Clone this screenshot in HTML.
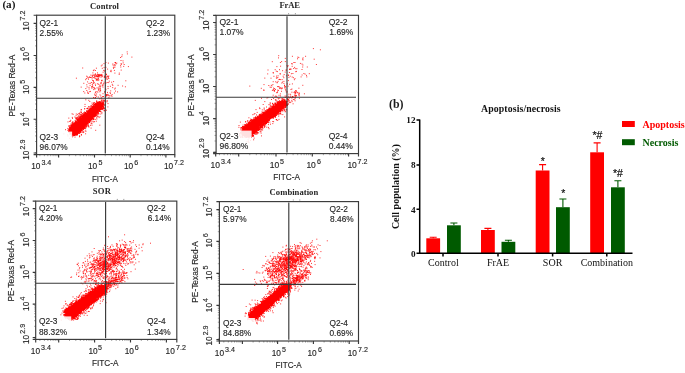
<!DOCTYPE html>
<html lang="en"><head><meta charset="utf-8"><title>Apoptosis/necrosis</title>
<style>html,body{margin:0;padding:0;background:#fff}body{width:685px;height:373px;overflow:hidden}svg{display:block}</style></head>
<body>
<svg width="685" height="373" viewBox="0 0 685 373">
<rect width="685" height="373" fill="#fff"/>
<path d="M101 106.9L101.5 106.2L101.7 105.3L101.6 104.5L101.1 103.8L100.4 103.3L99.5 103.1L98.7 103.2L98 103.7L70.9 127.5L70 128.7L69.7 130.1L70 131.6L70.8 132.8L72 133.7L73.4 134L74.9 133.7L76.1 132.9Z" fill="#ff0000"/>
<path d="M71.6 113.8h1M69.4 133h1M90.7 119.2h1M67.5 136h1M90 125.3h1M102.7 103.5h1M95.9 103.2h1M103.4 100.4h1M92.7 106.7h1M81 135.1h1M79.4 116.3h1M84.5 112.5h1M95.8 121.2h1M76.8 120.6h1M86.8 123.3h1M106 110.2h1M92.3 116.1h1M102.3 103.8h1M80.9 134.5h1M78.6 132.8h1M71.8 117.4h1M82.7 132.6h1M97.5 104.1h1M79.2 136.2h1M71.9 134.1h1M70.5 124h1M87.7 111.7h1M78.9 133.4h1M79.4 132.8h1M76.1 134.8h1M74.4 117h1M92.2 119.7h1M92 107.6h1M76.6 119.5h1M76.7 118.8h1M68.4 128.9h1M95.4 114.3h1M68.3 118.1h1M107.4 106.9h1M97.3 111.8h1M75 122.5h1M84.1 108.7h1M72 118.4h1M83.2 127.6h1M82.2 113.5h1M83 112.9h1M82.8 115h1M84.8 113.8h1M82.9 128.9h1M91.7 108.7h1M77.5 119.9h1M94.3 104.4h1M89 119.6h1M76.6 117.7h1M82.1 130.1h1M91.4 123.6h1M77.1 114.4h1M84.2 108.9h1M69.5 134.1h1M96.2 100.9h1M97.3 111.6h1M78.7 133h1M90.9 105.3h1M91.7 106.9h1M95 104.6h1M93.9 116.9h1M83.3 132.1h1M81.8 115.9h1M80.5 114.7h1M63.4 133.9h1M86.1 123.6h1M84.5 106.5h1M74 134.6h1M101.1 101h1M81 109.7h1M87 122h1M70.2 120.3h1M70.3 127.5h1M87 108.4h1M69.6 129.1h1M75.8 114h1M100.7 109.5h1M92 107.2h1M103.7 110.8h1M74.5 121h1M88.6 121.2h1M80.2 117.1h1M93.3 119h1M84.3 128.4h1M80.1 131.8h1M81.7 114h1M93.2 117.5h1M88.1 125.5h1M104 110.7h1M86.8 123h1M100.7 98.6h1M98.2 113.6h1M82.5 115.3h1M84.8 127.8h1M72.6 114.3h1M94.2 102.5h1M103.8 108.8h1M87.4 111h1M76.3 118.6h1M89.5 109.8h1M82.8 128.6h1M78 118.1h1M92.7 122h1M69.1 138.3h1M86.1 125.1h1M101.6 108.8h1M81.8 130h1M99.3 125.2h1M67.5 121.9h1M72.2 124h1M82 128.1h1M102.1 108.4h1M104.5 105h1M89.3 101.5h1M94.5 98.2h1M86.9 108.7h1M79.1 113.1h1M78.7 114h1M94.4 115.1h1M100.3 101.4h1M89.2 119.9h1M85.2 128.8h1M86.4 123.3h1M89.4 119.1h1M81.2 130.1h1M85.1 127.9h1M78.4 113.5h1M70.2 134h1M90.2 106h1M86.5 110.4h1M84.1 112h1M93.1 105.4h1M74.5 137.1h1M71.5 122.7h1M79.5 116h1M82.4 132.3h1M85.9 114.2h1M91 118.6h1M80.7 130.9h1M87.7 107.8h1M85 113.2h1M87.3 122.5h1M93.3 103.1h1M92.8 105.8h1M85.5 131.2h1M74.5 134.4h1M103.1 107.5h1M81.2 130.1h1M89 107h1M86 127h1M79.4 117.6h1M92.5 121.3h1M99.5 109.1h1M79.1 135.9h1M74.4 122.7h1M96.7 116.9h1M71.1 134.8h1M76 117.9h1M96.3 103.9h1M76.7 119.8h1M94.8 115.2h1M100.6 108.3h1M65 129.7h1M94.1 114.8h1M69.1 130.5h1M91.5 107h1M83.8 126.9h1M87.5 112.2h1M98 114h1M100.1 111.7h1M93.7 104.2h1M99.1 109.9h1M69.8 121.3h1M70.6 136.6h1M91.5 125.2h1M93 104.2h1M102.2 100.9h1M84.4 127.8h1M79 136.8h1M83.5 125.6h1M99.5 116.7h1M76.7 134h1M85.1 133.8h1M78.7 119.5h1M80.5 109.9h1M80.1 118.2h1M91.5 103.1h1M82 128.2h1M84.5 112.4h1M97 114.2h1M103.8 108.2h1M101.3 113.7h1M72.3 121.9h1M96.1 112.5h1M96.4 119h1M79.6 114.6h1M77.4 132.9h1M75.3 123.4h1M88.2 106.5h1M69.2 121.4h1M77.8 118.4h1M75.2 118.7h1M98.6 117.6h1M77.8 116h1M78.6 131h1M86.9 124.9h1M72.4 134.2h1M84.5 104.4h1M75.6 115.7h1M87.7 108.9h1M84.7 113.9h1M98.4 110h1M96.7 116.3h1M80.7 116.5h1M80.2 112h1M90.7 123.6h1M69.9 128.7h1M80.6 130.5h1M81.7 116.7h1M89.5 119.1h1M82.3 116.6h1M93.1 119.5h1M88.7 120.1h1M87.9 123.7h1M93.7 115.5h1M84.6 124.6h1M86 111.7h1M103.7 105.1h1M75.2 134.9h1M71.7 137h1M95.9 104.4h1M96.4 103.8h1M96 102h1M76.2 133.8h1M96.8 111.5h1M99.8 109h1M101.4 112.4h1M94.8 115.3h1M86.4 108.5h1M95.2 115.4h1M94 121.7h1M96.3 112.9h1M90.7 122.1h1M76.4 121.5h1M73.2 125h1M92.8 103h1M97.8 116.3h1M99 102.8h1M91.5 106.2h1M84.9 126.5h1M94.8 119.4h1M87.5 126.3h1M84.8 130.9h1M80.5 128.4h1M94.8 97.5h1M97.6 102.1h1M76.6 135.3h1M80.3 132.6h1M99.7 114.1h1M84 114.2h1M80 130.3h1M89.3 119.4h1M67.2 134.8h1M80.9 112.1h1M82.1 128.5h1M95.2 130.3h1M97.9 110.3h1M86.6 123.9h1M69.4 134h1M103.3 107.8h1M83.1 128.1h1M67.5 130.5h1M80.8 112.6h1M95.8 112.5h1M88.4 127.1h1M104.8 101.4h1M88.2 126.4h1M92.1 104.6h1M93.4 103.4h1M92.4 117h1M97.4 104.1h1M90.2 109.5h1M67.3 128.4h1M94.2 105.3h1M75.2 117.8h1M103.7 110.4h1M86.3 123.3h1M89 120.5h1M74.3 134.4h1M92.7 107.5h1M70.8 139.2h1M96.1 117.9h1M74.9 120.3h1M86.6 125.6h1M90.6 128.1h1M101.5 75.8h1M92.3 75.1h1M96.1 79.2h1M93.1 75.1h1M122.1 86h1M102.9 83.7h1M95.9 68.2h1M83.2 91.6h1M105.7 77.4h1M88.5 77.4h1M91.2 86.6h1M102.6 72.2h1M94.5 88.8h1M109.9 86.3h1M111.1 82.2h1M87.2 93h1M97.8 78.6h1M86.3 84.8h1M97.7 76.5h1M108.8 81.2h1M82.2 68h1M114.4 73.1h1M96.4 79.3h1M88 79.2h1M98.4 79.9h1M106.9 79.2h1M87.1 81.9h1M97 72.9h1M85.9 78.6h1M107.1 69.1h1M101.4 80.8h1M96.9 83.8h1M103.5 63.6h1M88.5 83.4h1M94.6 76.6h1M113 68.3h1M94.9 70.5h1M113.1 81.6h1M101.5 80.2h1M93.8 82.7h1M97.4 80.6h1M104.5 91.5h1M95.6 79.9h1M97.8 97h1M91.6 78.9h1M85.2 79.7h1M98.5 74.4h1M104.6 83.7h1M103.2 70.4h1M85.3 88.6h1M108.2 82.6h1M100.7 83.7h1M88.5 87.3h1M99.3 76.8h1M104 71h1M107.6 88.4h1M106.1 78.9h1M105 70.1h1M106 74.2h1M97.5 75.3h1M84.3 93h1M90.4 75.1h1M105 85.8h1M94.5 78.4h1M101.8 68.3h1M101.7 65h1M98.2 75h1M112.9 67.3h1M91.8 84.5h1M107.7 77.9h1M92.4 72.9h1M92.2 80.5h1M104.1 77h1M96.5 87.9h1M105.8 74.6h1M87.6 78h1M100.8 82.4h1M92.7 83.5h1M93.6 69.9h1M95.3 78.2h1M89.9 83.2h1M106.7 82.5h1M89.6 85.4h1M91.1 82.5h1M103.6 67.6h1M108.3 78.5h1M100.8 65.9h1M103.6 82.2h1M118.8 73.1h1M86.9 77h1M93.1 81.7h1M92.2 85.8h1M106.7 76h1M100.4 74.6h1M111.8 84.3h1M107.6 76.5h1M97.2 79.4h1M92.8 82.8h1M89 77h1M118.7 74.4h1M107.8 77.1h1M103.8 76h1M94.5 75h1M97.6 79.9h1M92.9 70.6h1M98 84.2h1M75.9 78.2h1M100.1 83.1h1M96 80.1h1M100.6 75.1h1M108.3 76h1M101.4 75.7h1M93.6 77.4h1M103.8 77.3h1M94.7 74.3h1M91.3 77.4h1M98.7 75.5h1M96.6 76.7h1M101.7 76.6h1M92.7 77.6h1M98.3 76.7h1M99.8 75.4h1M97.7 77.1h1M95.8 75.5h1M91.8 75.7h1M101.4 74.4h1M96.8 76.4h1M99 75h1M93.9 75.3h1M96.1 76.2h1M89.8 77.3h1M96.5 74.8h1M100.6 77.1h1M96.6 76.4h1M101.2 75.3h1M97.9 75.1h1M104.2 76.7h1M94.9 76h1M86.2 76.2h1M98.6 75.1h1M95 74h1M90.2 77.5h1M99.9 75.3h1M97.6 78.3h1M98.7 76h1M94 76.9h1M97.2 74.4h1M97.5 75.9h1M106.6 76.6h1M91.9 76.4h1M114.3 67.4h1M120.1 65.3h1M116.3 63.1h1M122.5 60.9h1M126.7 51.9h1M121.3 56.6h1M110.2 71.2h1M105.4 67.3h1M113.9 70.4h1M127.9 66.6h1M114.6 62.5h1M112.3 64h1M120.3 67h1M105.4 62.5h1M110.6 70.3h1M123.2 66.4h1M114.9 62.7h1M114.3 64.5h1M120.6 63.7h1M113.7 65.8h1M112.6 65.1h1M114.7 65.7h1M122.7 62.9h1M120.7 70.1h1M110.6 71.7h1M115 62.8h1M123.7 64.5h1M131.4 57.1h1M107.9 63.1h1M121 64.2h1M115.7 63.8h1M121.7 54.9h1M120.5 60.5h1M126.9 53.9h1M120.1 57.5h1M99.5 88.3h1M94.3 88.8h1M89.9 91.4h1M88.3 100.3h1M97.9 90.1h1M97.8 88.1h1M94 87.9h1M100.1 90.6h1M91.4 88.2h1M101.7 85.9h1M95.2 91.9h1M94.8 84.1h1M95 97.8h1M94.4 95h1M109.9 93.6h1M85.3 99.8h1M96.1 94h1M102.5 85h1M99.3 85h1M93.2 89.6h1M105.4 83.1h1M88.6 89h1M87.2 92h1M98.4 89h1M86.3 90.5h1M80.7 87.1h1M100.3 96h1M99.6 86h1M99.4 91.8h1M92.1 86.6h1M96.1 96.2h1M89.2 91.7h1M105.4 89.7h1M99.7 86.4h1M99.5 94.9h1M83.3 83.3h1M99.8 88.1h1M104 92.1h1M102.3 85.1h1M99.7 89.6h1M95 85.4h1M92.9 80.7h1M98.6 86.9h1M97.3 92.1h1M96.4 91.7h1M93.1 87.7h1M105.1 88.8h1M88 93.3h1M94.9 92.7h1M91.5 87.3h1M101.2 80.6h1M103.6 100.5h1M102.5 87.1h1M99.5 90.8h1M86.6 86.9h1M107.5 86.5h1M98.1 89.8h1M94.3 94.1h1M95.1 95.6h1M93 97.5h1M114.2 89h1M106 94.7h1M102.5 93.7h1M106.1 95.7h1M99.2 98.8h1M111.5 96.2h1M117.1 91.9h1M115 91.1h1M100.8 103.8h1M114.8 88.1h1M105.5 100.8h1M96.9 102.5h1M104.5 105h1M104 101.1h1M108.4 95.7h1M102.5 99.7h1M101.9 104.7h1M106.3 95.8h1M117.6 85.3h1M103 96.5h1M111.6 94.5h1M109.3 95.9h1M124.9 86.8h1M96.2 101.3h1M112.2 87.6h1M101.4 101.2h1M107 100.9h1M107.2 95h1M125.3 80.8h1M107.5 103.6h1M97 102.3h1M112.3 85.4h1M102 96.7h1M105.8 94.8h1M107.3 94.3h1M107 92.4h1M108.4 97.6h1M110.7 95.7h1M109.6 92.6h1M113.9 93h1M105.2 96.2h1M106.4 101.9h1M100.8 97.7h1M110.2 90.9h1M107.7 95.1h1" stroke="#ff0000" stroke-width="1" fill="none" opacity="0.8"/>
<path d="M91.2 108.2h1M85.8 114.5h1M93.2 108.6h1M82.2 126.3h1M78.4 130.8h1M83.7 127.6h1M91.6 118h1M84.2 123.9h1M101 107.5h1M86.2 114.7h1M84.9 112.6h1M102.1 105.3h1M88.7 119.2h1M74.8 122.5h1M80.8 127.4h1M87.3 121h1M77.9 121.6h1M74 134.5h1M85.2 123.3h1M92.6 108.4h1M97.6 110.3h1M77.5 120.7h1M75.7 122.2h1M71.7 126.4h1M76.6 133.7h1M78.4 116.2h1M80.7 127.7h1M70.5 133.1h1M79.5 129.6h1M87.8 112.6h1M101.4 104h1M94.3 104.4h1M96.7 112.2h1M79.6 130.2h1M100.9 104.3h1M81.1 119.1h1M76.1 133.8h1M90.7 119.5h1M100.7 107.8h1M75.1 124.4h1M77.2 133.8h1M75.2 121.6h1M87 121.9h1M78.1 121.2h1M89.8 111.1h1M77.2 120.1h1M101 105.9h1M79.6 129.9h1M80.4 129.3h1M97.4 104.7h1M78.1 131.1h1M96.6 115.1h1M78.9 131.5h1M82.5 131.4h1M87.4 112.2h1M96.6 111.4h1M93.1 118.6h1M96.5 102.3h1M97.6 104.1h1M80.5 129.7h1M83.3 116.2h1M71.4 132.7h1M74.2 134h1M88.5 111.6h1M98.4 110.9h1M70.3 130.2h1M96.7 113.3h1M99.7 102.4h1M90.3 118.3h1M76.1 123.6h1M91.9 109.7h1M96.5 105.8h1M88.4 119.9h1M70.9 132.4h1M94.4 113.6h1M95.4 106.6h1M75.3 133.7h1M91.3 109.6h1M95.1 106.2h1M76.5 122.5h1M83.2 125h1M89.2 122.1h1M87.3 113.6h1M83.6 116.9h1M86.3 113.7h1M81.7 118.6h1M86.6 121.9h1M72.6 134.4h1M92.1 115.6h1M100.5 109.6h1M97.2 103.7h1M85.8 123.2h1M75.4 132.8h1M88.3 112.6h1M100.6 108.9h1M100 108.3h1M89.8 111.5h1M85.8 123.5h1M78.6 131.2h1M100.9 103.6h1M102.4 104.5h1M90.5 110.3h1M93.1 116.2h1M92.1 108.7h1M98.5 103h1M84.1 114.4h1M87.2 121h1M89.5 120.8h1M103 101.2h1M90.9 116.9h1M73.2 124.4h1M71.1 127.1h1M71.1 133.7h1M91.3 118.2h1M86.5 121.6h1M89.3 120h1M86.7 123.1h1M101.4 105.7h1M96 111.6h1M81 130.2h1M92 117.1h1M101.4 103.7h1M75.6 133.3h1M78.6 131h1M70.2 129.4h1M94.1 114.4h1M75.5 124.1h1M86.7 113.5h1M95 106.1h1M85.3 115.3h1M87.2 113.2h1M70.3 130.9h1M85.5 115.2h1M101.4 106.2h1M82.9 126.7h1M82.9 128.2h1M73.5 125h1M86.9 121.1h1M84.7 124.9h1M69.9 133.6h1M75 122.7h1M83.7 115.8h1M84.4 115.8h1M78.3 119.3h1M96.3 112.2h1M84.6 115.5h1M87 113.3h1M99.6 107.9h1M97.9 110h1M88.6 112.4h1M76.7 133.3h1M68.4 131.8h1M83.8 125.1h1M73.5 133.6h1M69.4 132.1h1M75.6 123.2h1M94.3 113.7h1M91.1 108.1h1M98.3 101.9h1M74.7 123.5h1M99.7 109.4h1M77.2 132.5h1M69.4 129.5h1M96 114.8h1M95.1 116.1h1M71.9 126.8h1M95.3 104h1M81.8 128.2h1M98.4 110.7h1M83.8 114.9h1M79.8 119.8h1M76 123.7h1M97.1 102.6h1M73.6 135h1M79.2 130.1h1M71.4 127.7h1M92.5 115.4h1M101.8 108.9h1M88.7 119.3h1M93.4 108.3h1M97.3 104.6h1M78.2 130.9h1M81.9 116.9h1M101.4 102.3h1M77.6 121.5h1M93.8 114h1M91 119.6h1M99 103.2h1M99.8 108.5h1M78.8 129.5h1M72.4 126.4h1M94.7 113h1M82.8 117.7h1M92.5 116.1h1M77.1 132.4h1M71.7 124.1h1M83 125.3h1M100.9 100.1h1M88.9 118.8h1M84.1 124.8h1M82 127.1h1M69.4 127h1M79.3 129.4h1M89.2 120.5h1M73.7 134.2h1M97.4 112.9h1M87.8 112.9h1M87.9 112.9h1M83 117.5h1M81.5 114.7h1M100.8 107.1h1M86.3 121.5h1M102.8 104.4h1M98.2 102.8h1M89.2 119.3h1M90.2 108.3h1M87.8 120.7h1M89.7 109.3h1M88.7 111.5h1M79.1 130.4h1M83.6 115.9h1M77.8 133h1M98.3 103.1h1M92.5 115h1M99.3 102.3h1M98.3 103.6h1M83.9 116.7h1M93.1 114.3h1M99.7 103.5h1M75.9 122.8h1M73.7 135.3h1M71.4 126.8h1M70.6 125h1M102.1 102.1h1M76.6 122.2h1M71.2 133.7h1M102.9 107.3h1M69.3 129.4h1M93 107.5h1M69.1 127.3h1M88.6 111.2h1M82.6 116.9h1M72.7 125.6h1M93.7 113.7h1M79.5 130.7h1M72.5 135.2h1M83.1 125.6h1M95.5 104.3h1M97.4 110.1h1M78.1 121.7h1M85.4 123.1h1M89 121.5h1M78.2 132.6h1M76.5 133.7h1M86 113.7h1M102.2 102.7h1M88.3 112.9h1M94.8 106.7h1M74.1 123.6h1M98.6 109.8h1M81.8 127.9h1M70.5 128.3h1M74.4 122.9h1M82 118.3h1M94.8 114.1h1M81.6 128.3h1M80.1 131h1M83.1 126.3h1M80.1 119.5h1M99 110.8h1M76.5 120.3h1M101.7 104.9h1M93.8 107.9h1M76.7 133.8h1M82.9 125.8h1M94 104.7h1M86.9 113.9h1M80.7 128.9h1M84.4 115.9h1M86.8 123.3h1M92.5 106.6h1M95.7 112.1h1M100.3 102.4h1M100.5 107.2h1M72.1 126.2h1M95.8 106.1h1M78.4 130.3h1M86.2 114.6h1M82 117.3h1M68.9 129h1M88.6 120.9h1M99.8 102.4h1M69.4 130.6h1M81.5 118.7h1M81.6 116.5h1M101.3 105.7h1M71.9 134.5h1M89 118.8h1M70.1 129.5h1M101.6 105.9h1M89.7 111.6h1M88.9 109.3h1M72.4 124.1h1M89.6 118.7h1M103 103.6h1M74 123.3h1M69.7 128.3h1M88.5 110.7h1M80.3 131.9h1M72.4 122.7h1M73.8 125.2h1M79.4 128.8h1M91.6 118.4h1M73.5 125.2h1M87.3 123.3h1M72.9 134.5h1M69.2 131.4h1M90.4 110.8h1M87.8 111.9h1M90.8 117.3h1M90 118.5h1M91.9 109.4h1M83.7 114.7h1M76.6 122.3h1M79.5 130.8h1M91.2 117.5h1M92.7 108.3h1M94.1 114.4h1M93.5 114.3h1M91.9 109h1M78.7 131.4h1M69.4 128.8h1M77.2 132.4h1M85.6 113.7h1M70.9 134.5h1M74.8 124.7h1M90.8 118.4h1M74 124.8h1M77.1 131.3h1M93.7 114.3h1M98.9 110.3h1M81.4 115.5h1M93 108.5h1M96.7 104.8h1M90.5 110h1M82.6 117.7h1M68.5 126.6h1M99.5 102h1M83.9 128.6h1M93.3 116h1M102.8 106.2h1M77 120.2h1M84.5 125.4h1M98.1 103.6h1M78.2 130.2h1M79.3 119h1M73.4 125.2h1M76.6 132.2h1M91.6 109h1M99.4 111.3h1M75.1 134.8h1M85.5 124.8h1M70 125.8h1M80.8 115.9h1M79.4 130.2h1M86.2 113.9h1M94.1 116.5h1M90.2 110.3h1M72.5 123.7h1M69.7 129.5h1M97.1 111.2h1M83.6 126.6h1M97.2 104.3h1M85.4 125.1h1M77.5 121h1M81.2 130h1M97.1 104.8h1M101.5 108.2h1M90.3 107h1M78.3 119.6h1M74.3 134.6h1M97.6 112.9h1M93.2 108.1h1M69.9 130.8h1M76.2 132.3h1M72.9 124.9h1M86 113.6h1M76.4 134.1h1M93.3 108.3h1M100.9 106.6h1M97.6 104.5h1M96.7 111.3h1M77.4 132.3h1M73.6 124.4h1M101.4 108.4h1M85.9 115h1M74.2 125.1h1M76.5 133.1h1M79.2 130.1h1M94.3 106.2h1M72.4 136.1h1M94.7 113.5h1M96.5 105.4h1M85 123.7h1M95.2 104.4h1M98.7 110.6h1M75.4 135h1M73.9 123.9h1M98.7 109.7h1M92.9 106.9h1M96.3 111.1h1M92.9 115.8h1M96.2 104h1M81.6 116.7h1M92.3 107.2h1M91.4 108.6h1M71.6 133h1M83.5 125.5h1M73.4 124.1h1M100.1 108.4h1M103 106.2h1M94.4 113.3h1M82.9 126.9h1M91.6 106.4h1M82.3 129.2h1M87.7 111.9h1M75.6 123.9h1M83.2 116.8h1M101.6 104.4h1M94 114.1h1M99.1 109.2h1M97 104.9h1M69.9 130h1M76.9 131.4h1M80.7 117.5h1M90.7 110.4h1M94.5 106.9h1M71.7 127.1h1M86.3 122.8h1M99.2 108.3h1M99.3 108.8h1M98.4 110.1h1M75.2 124h1M83.8 124.2h1M96.2 105.6h1M96 105.8h1M101.8 109.6h1M69.3 130.8h1M88.9 109.3h1M83.2 127.2h1M90.4 110.9h1M83.2 126.6h1M92.9 106.6h1M90.9 116.8h1M78.1 120.2h1M80 129.2h1M79.8 130.3h1M74.5 133.6h1M95.3 105.2h1M80.6 118.4h1M85.6 113.3h1M79.7 129h1M98.5 109.6h1M100.5 106.7h1M83.6 114h1M96.8 105.1h1M97.3 104.5h1M102.6 104.6h1M74.2 123.5h1M88.3 111.3h1M76.1 123.4h1M100.3 111.6h1M102.1 106.6h1M74.4 134.5h1M72.2 133.9h1M93.6 115.6h1M82.6 127.3h1M97.2 111.1h1M84.1 114.9h1M68.4 131.8h1M82.5 116h1M96.4 112h1M69.2 129.5h1M96.9 112.8h1M79.7 117.7h1M72.3 133.4h1M73.5 133.4h1M98.1 109.1h1M78.9 129.7h1M100.1 103.8h1M72 126.9h1M88.7 111.9h1M97 104.8h1M89.5 119h1M76.9 131.9h1M80.3 118.9h1M89.2 112.1h1M80.2 128.8h1M90.5 120.9h1M85.6 125.2h1M78.1 132.6h1M95.3 112.2h1M99.7 103.7h1M76.2 123.5h1M103.4 104.2h1M88.3 122.8h1M83.9 124.2h1M75.6 134.6h1M97.8 104.2h1M90.9 117.5h1M82 116h1M69.5 132.3h1M82.8 116.3h1M102.4 105.7h1M98.8 111.5h1M83.9 125.3h1M95.8 105.1h1M78.5 120.1h1M68.6 131.9h1M99.4 108.1h1M93.8 115.1h1M72.5 126.4h1M87.4 112.4h1M101.8 106.2h1M72.3 126.3h1M74 133.8h1M80.5 116.1h1M85.7 122.6h1M97.6 104.3h1M78.2 130.7h1M75.6 123.2h1M88.3 112.7h1M74 124.9h1M69.5 131.9h1M87.9 112.3h1M89.5 118.2h1M82.6 117.7h1M83.4 116.1h1M80.6 118.3h1M71.9 133.5h1M84.6 123.7h1M72.4 135.6h1M80.8 128.8h1M85.1 113h1M91.3 117.2h1M84.7 113.5h1M100.8 104.1h1M97.2 112.7h1M70.6 128.5h1M79.1 132.8h1M86.5 122.6h1M101.2 103.3h1M79.7 131.5h1M84.7 124.5h1M82.6 117.9h1M77.9 132.7h1M82.9 117.5h1M78.3 129.9h1M81.8 117.8h1M82.9 129.6h1M79.7 131.4h1M72.3 125.6h1M88.8 119.4h1M71.1 127.6h1M85.9 122.4h1M72.2 125.7h1M89.3 110.9h1M91.9 115.6h1M75 123.7h1M85 123.2h1M94.1 114h1M80.5 130.8h1M93 108.2h1M88.4 111.3h1M96.1 104.8h1M90.8 116.9h1M77.1 131.7h1M81.9 117.7h1M89.6 111.2h1M88 120.9h1M85.3 123.2h1M82.1 126.1h1M68.4 131.1h1M99.1 103.7h1M68.7 129.9h1M83.4 126h1M85.9 113.1h1M99.4 109.2h1M70.4 131.8h1M97.8 110.4h1M73.1 125.1h1M70.4 133h1M87.8 111.1h1M74.8 123.1h1M93.6 115h1M88.2 111.3h1M89 122.5h1M95.9 112.2h1M76.7 133.4h1M99.8 109.3h1M78.2 130.4h1M101.3 105.5h1M75 123.6h1M75.7 132.7h1M92.1 118.5h1M102 103.5h1M91.2 109.9h1M93.4 106.1h1M87.5 120.5h1M89.6 119.7h1M90.6 117.4h1M84.2 124h1M96.4 112.4h1M95.3 113.2h1M75.4 124h1M93.4 115h1M82.9 128.8h1M83.1 125.4h1M101.6 104h1M86.7 121.1h1M86 113.2h1M73.6 134.6h1M90.3 108.2h1M72.9 123.8h1M75.9 132.8h1M74 134.5h1M83.2 114.1h1M93.7 107h1M85.5 125h1M72.7 124.8h1M68.6 125.5h1M88.7 110.6h1M99.7 103.7h1M77.1 122.1h1M98.9 103.1h1M79 130.2h1M94.2 114.4h1M79 130h1M69.4 131h1M82.2 118.3h1M101.7 104.5h1M85.8 123.9h1M78.7 129.5h1M76.6 133.4h1M93.5 107.7h1M96.7 111.4h1M79.3 129.4h1M83.1 125.9h1M87.1 120.7h1M99.2 108.2h1M84.9 123h1M86.4 114.6h1M76.3 132.7h1M77.9 131.7h1M91.3 110.3h1M71 132.4h1M72.1 125.3h1M94.3 114.3h1M81.3 127.7h1M98.7 109.6h1M101.8 108.4h1M96.3 104.6h1M80.4 127.9h1M86.7 113.2h1M101.9 106.4h1M91.8 116.7h1M77.6 131h1M76.6 119.9h1M88.9 111.3h1M80.8 118h1M79.8 128.3h1M86.1 113.9h1M94 107.2h1M89.3 111.3h1M73.3 133.7h1M75.4 122.1h1M78.7 129.8h1M78.3 120.9h1M90.5 117.2h1M94.8 105.1h1M77.2 120h1M91.5 110.1h1M99.9 108.3h1M86.1 124.3h1M69.1 129.8h1M101 107.3h1M82 126.4h1M101.4 104h1M70.3 128.8h1M74.5 124.1h1M75.7 133.9h1M87.3 111.4h1M87.1 113.5h1M95.8 106.3h1M69 131.4h1M70 128.2h1M89 119.2h1M86.6 111.3h1M92.5 107.2h1M71.8 133h1M82 117.9h1M102 105h1M77.9 131.6h1M83.5 116.6h1M80.7 130h1M83 115.9h1M76.7 132.8h1M72.5 126.6h1M70.2 132.7h1M85.4 126.7h1M90.1 110.9h1M84.9 113h1M88.1 120.1h1M94 106.9h1M71.7 125.8h1M94.9 103.9h1M78.7 131.2h1M76.9 131.3h1M100.1 107.9h1M79.8 128.4h1M87.3 120.6h1M85.9 124.2h1M99.7 102.6h1M88.7 119.3h1M97.8 109.8h1M87.1 122.3h1M91.6 116.3h1M103.4 108.4h1M82.6 116.3h1M83.8 124h1M82.9 114.8h1M92.4 108.4h1M89.2 110.7h1M70.6 127.8h1M78.8 118.2h1M96 105h1M85.3 122.7h1M98.4 104h1M92 116h1M70.1 127.8h1M82.2 126.8h1M99.4 110.5h1M97.2 111.1h1M77.5 117.8h1M69.9 129.7h1M79.6 119.6h1M88.1 112.8h1M88.7 120h1M74.1 135.1h1M87.5 122.4h1M85.9 122.3h1M71.7 124.2h1M93.5 105.3h1M72.7 135h1M79.6 119.8h1M100.5 108.8h1M100.8 102.9h1M71.6 133.8h1M93.5 107.2h1M79.6 118.6h1M100.2 108.4h1M71.3 132.7h1M81.2 118.5h1M85.8 126.4h1M79.5 120.3h1M70.6 127.6h1M83.2 115h1M75.6 133.7h1M75.2 133.3h1M91.6 108.6h1M69.2 127.9h1M97.3 105.1h1M78.1 131.2h1M82.4 126.4h1M97 111.6h1M93.3 108.1h1M92.4 107h1M81 129.1h1M95.6 113.6h1M69.1 130.2h1M95.1 105.7h1M87.2 121.3h1M70.1 131.2h1M75.7 122h1M95.3 114.2h1M77.5 133.5h1M97.1 110.2h1M89.4 111.7h1M84.9 125.8h1M76.3 122.7h1M82.9 115.4h1M91.3 110.2h1M101.7 106.7h1M99.9 107.6h1M89.6 118.9h1M83.4 125.1h1M73.8 124h1M95.4 115.1h1M87.2 113.5h1M77 122.5h1M85.5 114.9h1M79.8 116.3h1M69.1 129.5h1M78.2 130.7h1M98.9 101.6h1M81.3 129h1M88.7 121.1h1M100 103.5h1M87.1 113.5h1M101.2 103.6h1M84.3 123.7h1M94.2 116.2h1M91.5 119.2h1M98.8 103.4h1M85.2 122.8h1M93.2 119.3h1M91.7 116.8h1M88.3 121.7h1M74.3 134.6h1M92.3 106.6h1M70.8 132.4h1M87.9 112h1M94.7 107.3h1M76.9 131.4h1M73.6 124.1h1M102 105.2h1M73.7 125.1h1M98 103.7h1M97.1 103.9h1M71.4 125.6h1M101.5 106.1h1M100.6 107.5h1M85.6 122.5h1M101.3 104.6h1M73.8 124.6h1M101.6 107.6h1M98.3 109.5h1M83.8 125.7h1M71.6 124.4h1M95.5 112.8h1M100.8 106.7h1M74.9 124h1M95 106.1h1M93.8 106.6h1M74 135.3h1M76 123.3h1M75.8 122.2h1M84.2 126.8h1M82.3 117.5h1M81.4 127.7h1M79.8 120.1h1M91 118.6h1M69.3 132.3h1M102.4 108.3h1M80.8 129.9h1M98.4 109.6h1M82.2 126.7h1M75.7 121.7h1M102 106.5h1M90.3 118h1M94.7 116h1M98.8 109.9h1M95.2 113.1h1M69.9 130.1h1M80.3 119.7h1M79.4 119.8h1M89.4 120.7h1M87.5 124.6h1M81 128.1h1M89.5 108.9h1M101.3 105.5h1M98.7 108.9h1M88.1 111.5h1M85.1 115.6h1M79.1 117.4h1M86.4 122.7h1M69.6 129.2h1M101.5 105.2h1M79.1 130.7h1M90.5 117.1h1M95.3 106.5h1M97.2 111h1M85.3 122.8h1M70.1 129.3h1M101.1 105.8h1M91.6 116.8h1M98.4 110.6h1M74.5 123.6h1M99.5 108.6h1M97.5 111.1h1M86 122.2h1M70.2 129.6h1M84.4 115.4h1M70.2 129.7h1M77.3 117.2h1M89 112.2h1M72.7 125.7h1M101.8 108.7h1M90.5 110.7h1M94.9 105.4h1M92.1 115.4h1M93.8 116h1M95.2 105.9h1M98.2 104.1h1M72.1 133.4h1M78.6 120.2h1M90.3 108.6h1M88.6 120.9h1M102.3 108.3h1M90.4 118.6h1M98.8 103.6h1M75.5 132.9h1M94.9 113.5h1M79.8 118.8h1M78 120.5h1M94 116.5h1M73.5 134.8h1M85.7 123.4h1M81.4 118.7h1M95.7 112.8h1M89.7 109.6h1M95.5 105.3h1M78.4 120.8h1M102.8 108.9h1M90 119.3h1M80.3 118.4h1M95.1 103.7h1M80.5 128.3h1M96.9 104.6h1M77 134.4h1M80.5 129.2h1M84.9 114h1M73.1 134.3h1M95.6 115.4h1M86.9 113.4h1M73.4 133.4h1M88.1 121.9h1M76.6 132.6h1M99 109.7h1M75.4 133h1M78.8 119.1h1M98.5 109.1h1M89.8 120.3h1M90.5 119.6h1M68.1 131.8h1M69.8 130.7h1M79.7 119.8h1M79 129.7h1M91.8 117h1M100.8 103.8h1M92.2 117.9h1M70.3 127.7h1M101.1 104.3h1M75.2 121.8h1M80 119.5h1M102.4 106.6h1M82.3 125.8h1M78.9 119.9h1M96.5 105.1h1M88.5 120.9h1M89.1 110.8h1M99.4 108.7h1M97.7 110.8h1M76.5 133.8h1M89.4 120.8h1M93.2 115.2h1M80.4 130.3h1M75.5 123h1M91.1 108.2h1M95 114.2h1M96.7 103.3h1M97.7 102.5h1M71.5 125.5h1M101.3 107.1h1M94 114.9h1M78.7 130.6h1M93.2 116.3h1M88 111.7h1M93.6 115.5h1M97.1 111.6h1M89.6 108.9h1M85.9 114.4h1M79.9 117.3h1M81 127.7h1M100.5 107.1h1M80.5 114.2h1M84 127.1h1M101.3 104.8h1M88 110.2h1M90.6 117.1h1M98.1 110.2h1M87.2 112.9h1M71 135.6h1M78.8 130.8h1M78.9 129.5h1M84.3 115.8h1M77.8 121.1h1M79.7 129.2h1M97.8 112.3h1M83.2 116.7h1M94.2 113.9h1M69.8 128.9h1M75.5 133.1h1M96.5 104.4h1M70.3 132.4h1M84 124h1M89.3 121.4h1M77.3 122.6h1M84.9 124.8h1M87.8 113.4h1M80.6 127.5h1M87.6 121.5h1M76.4 118.5h1M68.8 129.7h1M82.8 127.4h1M102.6 105.2h1M76.5 133.6h1M87.3 121.8h1M100.7 103.9h1M80.8 116.7h1M84.5 114.7h1M93.5 107h1M102.9 102.5h1M96.9 112.1h1M94 113.6h1M76.5 123.1h1M72.9 133.4h1M74.6 134.2h1M95.9 113.1h1M80.2 132.2h1M97.4 110.6h1M85 113.3h1M87.1 122h1M89.8 117.9h1M84.4 113.6h1M92 117.2h1M90.5 119.7h1M78.7 119.7h1M70.6 128.6h1M91.1 116.4h1M101 107.1h1M79.9 130h1M70.7 128.2h1M86.3 111h1M89.5 111.6h1M99.2 108h1M71.9 125.3h1M81.3 128.6h1M86.2 113.7h1M83.3 125h1M70.9 126.6h1M78.7 120.4h1M93 114.6h1M68.7 131.1h1M71.7 127.1h1M78.9 119h1M93.7 106.7h1M92.2 115.8h1M92.2 117.5h1M101.1 108.3h1M84.2 124.3h1M78.7 131.3h1M87.8 112.9h1M91.9 116.1h1M89.5 118.4h1M96.8 104.9h1M69.8 130.9h1M98.1 103.1h1M92.3 116.1h1M76 134.2h1M90.8 118.5h1M88.3 119.5h1M70.3 126.7h1M76 122.6h1M81.7 116.9h1M78.6 118.9h1M72.4 122.1h1M91.4 116.8h1M95.4 104h1M71 125.5h1M69.5 129.9h1M80.8 119.4h1M76.8 119.5h1M95.6 111.9h1M96.3 105.5h1M100.4 107.2h1M70.4 128.1h1M73.8 124h1M71.2 127.2h1M91.2 109.7h1M67.8 129.8h1M80.3 129.6h1M86.8 114.3h1M92.6 116.6h1M85.3 122.6h1M75.8 123.8h1M84.3 123.8h1M99.7 103.3h1M70.9 127.1h1M73 135.1h1" stroke="#ff0000" stroke-width="1" fill="none"/>
<rect x="39.1" y="131.6" width="33" height="21" fill="#fff" opacity="0.88"/>
<g stroke="#3a3a3a" stroke-width="1.15" fill="none">
<rect x="36.6" y="15.2" width="138.2" height="139.4"/>
<path d="M105.3 16.2V153.4M36.6 98.2H172.3"/>
<path d="M36.6 154.6v3M58.6 154.6v3M94.5 154.6v3M130.2 154.6v3M174.8 154.6v3M165.9 154.6v3M36.6 15.2h-3M36.6 154.6h-3M36.6 23.3h-3M36.6 55.5h-3M36.6 87.3h-3M36.6 119.2h-3M36.6 153h-3"/>
</g>
<path d="M39.9 154.6v1.6M44.4 154.6v1.6M47.8 154.6v1.6M50.7 154.6v1.6M53.1 154.6v1.6M55.1 154.6v1.6M57 154.6v1.6M69.4 154.6v1.6M75.7 154.6v1.6M80.2 154.6v1.6M83.6 154.6v1.6M86.5 154.6v1.6M88.9 154.6v1.6M90.9 154.6v1.6M92.8 154.6v1.6M105.2 154.6v1.6M111.5 154.6v1.6M116 154.6v1.6M119.4 154.6v1.6M122.3 154.6v1.6M124.7 154.6v1.6M126.7 154.6v1.6M128.6 154.6v1.6M141 154.6v1.6M147.3 154.6v1.6M151.8 154.6v1.6M155.2 154.6v1.6M158.1 154.6v1.6M160.5 154.6v1.6M162.5 154.6v1.6M164.4 154.6v1.6M36.6 154.1h-1.6M36.6 152.5h-1.6M36.6 141.5h-1.6M36.6 135.9h-1.6M36.6 131.9h-1.6M36.6 128.8h-1.6M36.6 126.3h-1.6M36.6 124.1h-1.6M36.6 122.3h-1.6M36.6 120.7h-1.6M36.6 109.6h-1.6M36.6 104h-1.6M36.6 100h-1.6M36.6 96.9h-1.6M36.6 94.4h-1.6M36.6 92.3h-1.6M36.6 90.4h-1.6M36.6 88.8h-1.6M36.6 77.8h-1.6M36.6 72.2h-1.6M36.6 68.2h-1.6M36.6 65.1h-1.6M36.6 62.6h-1.6M36.6 60.4h-1.6M36.6 58.6h-1.6M36.6 57h-1.6M36.6 45.9h-1.6M36.6 40.3h-1.6M36.6 36.3h-1.6M36.6 33.2h-1.6M36.6 30.7h-1.6M36.6 28.6h-1.6M36.6 26.7h-1.6M36.6 25.1h-1.6" stroke="#3a3a3a" stroke-width="0.6" fill="none" opacity="0.75"/>
<g font-family="'Liberation Sans', Arial, Helvetica, sans-serif" font-size="8.3" fill="#262626" stroke="#262626" stroke-width="0.14">
<text x="39.6" y="26.1">Q2-1</text><text x="39.6" y="35.7">2.55%</text>
<text x="146" y="26.1">Q2-2</text><text x="146.6" y="35.7">1.23%</text>
<text x="39.6" y="139.8">Q2-3</text><text x="39.6" y="149.7">96.07%</text>
<text x="146" y="139.8">Q2-4</text><text x="146" y="149.7">0.14%</text>
<text x="31.2" y="169.1">10</text><text x="41.4" y="165.2" font-size="7.1">3.4</text>
<text x="88" y="169.1">10</text><text x="98.5" y="165.2" font-size="7.1">5</text>
<text x="124" y="169.1">10</text><text x="134.2" y="165.2" font-size="7.1">6</text>
<text x="164" y="169.1">10</text><text x="174.1" y="165.2" font-size="7.1">7.2</text>
<text transform="translate(28.5 30.7) rotate(-90)">10</text><text transform="translate(24.8 20.4) rotate(-90)" font-size="7.1">7.2</text>
<text transform="translate(28.5 61.2) rotate(-90)">10</text><text transform="translate(24.8 50.9) rotate(-90)" font-size="7.1">6</text>
<text transform="translate(28.5 94) rotate(-90)">10</text><text transform="translate(24.8 83.7) rotate(-90)" font-size="7.1">5</text>
<text transform="translate(28.5 126.6) rotate(-90)">10</text><text transform="translate(24.8 116.3) rotate(-90)" font-size="7.1">4</text>
<text transform="translate(28.5 159.8) rotate(-90)">10</text><text transform="translate(24.8 149.5) rotate(-90)" font-size="7.1">2.9</text>
<text x="91.9" y="181.8" textLength="25.9" lengthAdjust="spacingAndGlyphs">FITC-A</text>
<text transform="translate(14.5 85.6) rotate(-90)" text-anchor="middle" font-size="8.35">PE-Texas Red-A</text>
</g>
<text x="90" y="9.4" textLength="28.9" lengthAdjust="spacing" font-family="'Liberation Serif', 'Times New Roman', serif" font-weight="bold" font-size="8.6" fill="#262626">Control</text>
<path d="M284.4 105.3L285 104.6L285.3 103.8L285.2 102.9L284.8 102.1L284.1 101.5L283.3 101.2L282.4 101.3L281.6 101.7L244.2 127.6L243 128.9L242.4 130.6L242.6 132.4L243.4 134L244.7 135.2L246.4 135.8L248.2 135.6L249.8 134.8Z" fill="#ff0000"/>
<path d="M264 125.1h1M266.3 127.2h1M268.4 104.7h1M271.2 117.7h1M275.6 100.1h1M276.5 101.1h1M268.1 122.7h1M275.7 119.5h1M272.3 123.6h1M254.5 117.9h1M260.2 114.6h1M275.2 114.1h1M285.6 102.1h1M262.7 104.5h1M287.5 99.7h1M279.2 102.1h1M241.8 130.1h1M247.7 122.4h1M280.6 114.2h1M284.7 111.8h1M278.5 111.3h1M253.6 114.2h1M243.7 137.2h1M252.5 120.2h1M252.5 134.2h1M240.2 137.4h1M275.8 105.3h1M272.4 107h1M273.5 116.3h1M279.9 110.8h1M276.2 120h1M246.5 141.7h1M273.8 106.2h1M254.4 113.5h1M271.9 97.3h1M284 100.9h1M245.2 122h1M269.8 106.5h1M247.9 124.3h1M286.3 105.3h1M242.3 137.5h1M270.1 103.1h1M245.3 125.1h1M261.8 109.9h1M268.6 108.9h1M256.5 134h1M266.6 111.4h1M255.6 131.7h1M262.4 128.6h1M263.6 125.6h1M266.1 109.9h1M281.9 99h1M247.6 139.8h1M272.7 106.4h1M275.8 115.4h1M243.3 135h1M253 118h1M270.1 109.6h1M285 101.6h1M260.6 125.7h1M280.7 109.8h1M258 130.5h1M272.9 105h1M272.1 117.8h1M272.2 115.9h1M268.4 108.2h1M276 113.1h1M286.4 105.6h1M278.6 103.7h1M252.6 119.4h1M248.8 121.3h1M238.5 125.5h1M250.1 120.1h1M250.3 119h1M272.7 104.6h1M276.7 97.8h1M238.4 127.3h1M267.9 119.9h1M256 114.9h1M278.3 98.2h1M275.3 113.1h1M273 118.2h1M253.1 139.8h1M250 120.5h1M251.8 136.4h1M283.4 110.9h1M259.1 129.4h1M250 122.4h1M273.1 121.7h1M257.6 129.8h1M239.3 135.5h1M284.8 105.2h1M280.5 110.3h1M260.8 130.9h1M281.8 108.2h1M265.2 125.1h1M259.1 107.9h1M262 126.5h1M285.3 106.5h1M261.7 127.5h1M287.8 103.9h1M271.6 117h1M268.8 108.2h1M253.5 131.9h1M239.2 135.9h1M243.7 127h1M269.7 118.7h1M257 129.5h1M245.9 125.8h1M255.3 117.4h1M278.2 116.2h1M253.7 138.1h1M278.5 95.3h1M268.8 110.5h1M241.1 127.6h1M255.5 109.6h1M266.7 110.4h1M259.9 128.8h1M245.8 136.9h1M260.7 113.6h1M259.5 131.1h1M267.9 124.6h1M249.2 123h1M283.1 109.3h1M285.6 103h1M247.4 124.8h1M250 120.7h1M275.1 106h1M256.7 116.1h1M283.6 100.1h1M251 137.3h1M268.8 109.3h1M239.4 134.7h1M284.1 116.9h1M248.4 142.5h1M272.3 108.1h1M274 104.7h1M279.2 111.7h1M269.5 104.8h1M265.2 121.9h1M251.9 134.1h1M273.3 117.4h1M249.9 135.7h1M246.2 123.8h1M268.5 128.7h1M256.1 134h1M285.3 101.1h1M274.2 103.1h1M256.4 130.5h1M240.5 129.3h1M239.9 122.1h1M252.8 136h1M256.7 112.4h1M274.7 114.5h1M271.3 108.3h1M262.1 130h1M272.1 103.6h1M257.8 117.5h1M250.2 120.4h1M262.8 113.1h1M239.3 133.6h1M282.3 114.6h1M273.8 116.6h1M253.9 134h1M263.7 110.1h1M244.6 136.5h1M269.8 108.3h1M245.3 125.7h1M240.6 132.2h1M277.7 112.2h1M253.1 136.2h1M279.3 98.2h1M281.7 109.8h1M273.1 98.5h1M248 141.2h1M282 108h1M259.3 116.9h1M259.4 108.6h1M261.7 115.3h1M245 135.9h1M275.4 102.3h1M239.4 133.6h1M282.5 107.9h1M272.3 117.7h1M284 110.4h1M261.6 111.8h1M240.7 136.9h1M272.3 121.5h1M242.6 125.1h1M271.6 106h1M248.5 138.1h1M284.2 109.3h1M244.8 125h1M278.5 119.4h1M278.4 114.7h1M263.3 112h1M254.9 134.3h1M272.3 103.7h1M262.3 127.2h1M254.3 119.2h1M238.2 131.7h1M286.2 109.8h1M245.1 121.6h1M266.1 123.6h1M277.2 120.4h1M253.9 119.5h1M282.7 108.7h1M263.7 108h1M246.2 124.5h1M257.1 132.8h1M248 136.2h1M266.3 122.3h1M275.3 100.2h1M248.4 124.6h1M255.2 130.6h1M258.3 130.1h1M242.7 133.1h1M241.9 137.3h1M268 127.4h1M256.1 132.2h1M286.8 104.9h1M262 115h1M242 128.5h1M250.9 137.4h1M243.2 135h1M263.3 125h1M275.1 105h1M285.3 103.4h1M268.2 120h1M255.8 130.6h1M275.1 116.9h1M281.1 108.7h1M277 112.3h1M285.8 109.6h1M270.5 117.7h1M252.3 114.7h1M251.1 120h1M279.3 113.6h1M272 103.3h1M294.6 100.8h1M272.7 106.3h1M240.2 136.9h1M280.1 110.7h1M269.1 108.2h1M259.8 129.8h1M241.1 133.6h1M266 107h1M257.5 129.8h1M285.1 111.1h1M279.7 113.7h1M255.3 131.1h1M260.1 131.8h1M243.7 126.8h1M285.5 105.7h1M258.2 132.8h1M285.7 104.6h1M267.7 120h1M246 125.6h1M260.6 133.1h1M259.6 128.4h1M277.1 113.3h1M264.4 126.5h1M247.2 120.9h1M284.1 109h1M269.4 122h1M252.7 133.7h1M277.9 98.9h1M274.9 117.1h1M260.3 115.6h1M256.2 132.3h1M274.4 115.2h1M254.1 133.2h1M278.3 101.9h1M270.2 105.4h1M275.8 115.5h1M269.5 103h1M281.5 111.7h1M260.9 114.3h1M279.9 113.5h1M281.4 98.6h1M274.1 114.2h1M240.6 130.3h1M258 129.7h1M250 140.5h1M282.1 108.5h1M285.4 105h1M279.9 93.9h1M263.7 109h1M261 135.9h1M248.4 117.8h1M282.5 108.2h1M276 119.5h1M272.4 107.7h1M261.5 129h1M287.5 104.5h1M273.1 115.3h1M263.8 127.2h1M270 124.2h1M253 120.4h1M265.1 110.5h1M302.3 85.3h1M302.2 67h1M280.1 66.2h1M285.7 70h1M291.7 77h1M264.3 78.1h1M287 66.7h1M278 57.9h1M288.4 77.4h1M275.2 81.8h1M263.5 84.6h1M283.7 74.6h1M289.2 69.3h1M301.5 64h1M301.5 69.5h1M308.8 73.7h1M292.4 73.5h1M304.6 74.1h1M287.9 80.6h1M295.3 71.7h1M294.5 62.5h1M312.9 48.6h1M292.9 77.7h1M270.5 78.2h1M298.3 57.6h1M277.3 77.5h1M291.9 83.9h1M291.4 89h1M272.7 72.5h1M297.4 57.1h1M291.7 66.3h1M283.4 83.4h1M281.1 61.6h1M276.4 66.6h1M293.2 68.5h1M282.7 76.2h1M285.3 90.7h1M275.8 71.2h1M287.6 86.2h1M286.6 65.6h1M272.8 73.1h1M284.7 72.1h1M284.8 58.4h1M313.7 59.2h1M293.4 62.5h1M249.3 86.1h1M279.4 73.8h1M283.3 77.7h1M284.8 61.6h1M302.1 59h1M295.2 68.7h1M260.8 88.3h1M289 69.3h1M278.2 55.7h1M290.3 68.8h1M302.4 65h1M278.1 86.6h1M303.4 73.5h1M275.1 96.1h1M285.7 70.2h1M290.3 69.5h1M315.9 64.5h1M284.1 87h1M268.3 85.5h1M295.9 71.4h1M284 85.7h1M302.5 59.9h1M277.6 75.8h1M276.4 78.2h1M297 58.8h1M289.7 76.2h1M291.9 56.3h1M274.1 88.5h1M302.6 57.9h1M276.9 71.6h1M296.4 68.7h1M273.4 76.3h1M273.8 91.2h1M289.2 84.3h1M288.9 72.5h1M306.8 67h1M287.7 65.8h1M294.1 67.4h1M291.1 63.7h1M319.9 49.8h1M276.1 76.1h1M299.9 63.4h1M285.9 75.8h1M290.9 73.7h1M271.8 61.7h1M306.3 76.9h1M272.7 81.7h1M267.2 73.9h1M282.1 70.7h1M267.5 70h1M291.9 63.9h1M301.6 75h1M279 79.4h1M300.6 76.9h1M274.7 69.7h1M279.9 62.5h1M288 75.3h1M305.1 56.3h1M287.8 75.1h1M281.6 88.2h1M277.6 81.3h1M306 75.4h1M269.6 87.1h1M280 73.9h1M279 69.7h1M290.5 89.5h1M274.9 89.5h1M283.5 98h1M278.5 79.5h1M279.9 79.6h1M254.8 100.4h1M272.7 95.2h1M288.2 96.3h1M271 99.5h1M279.7 87.5h1M285.2 87h1M264.3 101.6h1M277.1 91.8h1M281 91.3h1M277.1 86.6h1M263.7 90.2h1M281.1 88.8h1M272.9 90h1M284.8 86.4h1M285 97.4h1M272.8 89.7h1M279.4 88.6h1M270.6 87.5h1M274.9 99.7h1M263 90.1h1M276.8 92.6h1M284 85.2h1M276.6 82.8h1M280 95.9h1M274.5 97h1M271.4 85.9h1M285.8 92h1M266.5 98h1M293.9 79.7h1M277.3 90.1h1M294.5 78.6h1M286.9 83.9h1M274 90.3h1M282 82.1h1M275.9 77.9h1M281.5 88h1M281.6 79.6h1M270.8 85.3h1M271.9 90.4h1M273 88.1h1M267.4 97.6h1M276.2 92.7h1M278.8 87h1M279.5 88.4h1M276.7 82.3h1M276.1 96.3h1M284.4 88h1M261 98.3h1M274.1 90.9h1M272.4 84.6h1M286.8 91.9h1M281.3 83h1M284.9 89.3h1M277.8 90.5h1M283.4 81.4h1M291.3 100.4h1M294.9 95.5h1M293.8 99.7h1M289.9 97.3h1M291.6 101.6h1M281.2 101h1M289.5 102.6h1M291.9 96.5h1M292.6 97.1h1M285.2 104.3h1M294.8 91.8h1M294.8 96.3h1M283.2 99.4h1M287.6 103h1M295 97.2h1M285.4 107.2h1M287.1 99.1h1M290.1 96.1h1M290.6 97.6h1M291.4 98h1M294.6 97.8h1M284.6 96h1M288.2 97.8h1M303.9 93.8h1M285 102.9h1M292.6 103.8h1M290.1 94.3h1M285.8 96.2h1M295.7 90.6h1M292 97.3h1M296 95.9h1M280.5 109h1M296.7 92.4h1M298.1 94.9h1M288.3 100.8h1M298.8 94.1h1M293.3 97.1h1M295 92.6h1M298.4 88.2h1M291.9 96.8h1M286.6 100.9h1M292.9 99.5h1M286.9 104.1h1M289 102.1h1M286.7 98.5h1M287.8 99.4h1M296.1 91.7h1M295.2 93.8h1M287.7 101.2h1M298.8 95.8h1M283.8 103.8h1M290.2 102.2h1M288.4 94.2h1M297.2 92.8h1M295.7 95.5h1M291.4 92.2h1M298.6 93.6h1M294.5 93.9h1M298.6 92.9h1M287.4 99.4h1M283.9 103.8h1M289 97.9h1M294 91.9h1M294.6 98.7h1M298.9 98.3h1M293.5 92.4h1M294.1 95.2h1M294.6 92.9h1M288.6 100.3h1M295.1 90.7h1" stroke="#ff0000" stroke-width="1" fill="none" opacity="0.8"/>
<path d="M241.7 136.3h1M260.7 116.3h1M247.8 136.3h1M273.5 107.9h1M242.3 135.6h1M282.6 101.8h1M242.7 135.3h1M268.8 109.4h1M274.8 106.9h1M282.6 106.4h1M247.1 137h1M268.6 118.6h1M246.1 135.3h1M262.7 124.1h1M269.5 117.4h1M269 108.9h1M249.3 134.7h1M247.8 124.8h1M277.7 110.7h1M258.3 117.6h1M245.4 126.6h1M241.3 134.9h1M260.4 116.1h1M261.8 127.3h1M242.6 127.7h1M277.5 110.7h1M262 114.4h1M274.3 106.2h1M277.3 103.7h1M259.8 127.4h1M255.5 131.2h1M257 116.6h1M266 111h1M278 103.1h1M271.5 106.9h1M270.4 110.1h1M242.3 136.1h1M242.7 131.5h1M261.8 124.9h1M244.9 127.6h1M247.7 136.1h1M266.3 122h1M283.9 102h1M277.8 104.8h1M272.1 108.2h1M273.1 108.3h1M258.6 127.3h1M275 115.7h1M252.2 122.6h1M275 113.6h1M282.5 101.5h1M255.9 129.4h1M249.1 136h1M262.7 114.6h1M269.8 118.8h1M243.1 128.6h1M255.6 119.3h1M260.5 125.2h1M258.5 127.8h1M274.9 112.9h1M254.7 119.9h1M274.7 115.3h1M270.1 117.2h1M258.9 115.9h1M261.9 125.4h1M274.8 106.9h1M279 104h1M254.8 117.6h1M270.8 117.9h1M281.2 108.5h1M252.7 121.9h1M248.6 135.5h1M274.2 106.6h1M243.8 135.8h1M274.1 114.5h1M278.9 100.8h1M261.8 125.3h1M272.4 117.1h1M264 122.9h1M242.7 127.2h1M263.4 122.9h1M266 122h1M276.2 114.1h1M283.3 101.7h1M276.3 105.6h1M258.6 126.6h1M274.5 113.2h1M279.9 111.1h1M249.9 135.6h1M260.1 114.8h1M241.9 134.9h1M274.8 103.5h1M267.1 122h1M271.7 107.7h1M257.9 128.5h1M265.8 121.1h1M274.6 114.5h1M250 124h1M249.9 123.8h1M247 125.1h1M251.8 122h1M252.8 120.5h1M256.7 118.7h1M263.3 112.5h1M247.8 124.4h1M256 118.3h1M258.2 127.5h1M271.5 115.9h1M267 112.3h1M273.2 106.3h1M272.9 107.4h1M260.3 126.5h1M273.4 114.3h1M257.9 118.2h1M265.1 121.1h1M269.6 110.6h1M264.8 123.5h1M279.4 109.8h1M252.5 133.6h1M282.4 108.1h1M262.8 115.4h1M271.9 116.3h1M253.4 133.2h1M258.5 118.3h1M246.6 126h1M276.6 104.2h1M256.5 118.8h1M283.5 106.2h1M278.7 109.6h1M252.9 121.8h1M250.7 135.7h1M256 129.3h1M252 132.5h1M281.8 107.3h1M250.8 122.3h1M278.6 109.6h1M247.3 124.1h1M285.6 101.6h1M246.2 125.9h1M246 137.2h1M253.4 121.3h1M264.2 123.3h1M269.8 108.8h1M283 106.3h1M282.1 110.4h1M258.1 118.3h1M274.2 113.5h1M273.8 114.8h1M284.4 105h1M257.5 118.5h1M270.2 110.3h1M264.3 121.8h1M283.8 105.1h1M266.2 120.1h1M276.5 113.9h1M248.4 136.2h1M285.1 104.9h1M271.2 109.2h1M249.8 123.1h1M273 108h1M255.5 130.8h1M268 109.8h1M282.5 106.7h1M265.9 120.6h1M269.7 118h1M273.7 107.4h1M248.5 124.9h1M253.1 131.5h1M255.8 130.6h1M284.1 104.9h1M280 110.1h1M279.8 112h1M266.2 112.5h1M271.8 108.3h1M263.8 114h1M285.3 104.9h1M276 105.9h1M282.7 99.8h1M265.4 123h1M271.9 117.3h1M276 104.5h1M257.9 128h1M276.7 102.2h1M243.4 129.4h1M257.4 128h1M271.3 108.8h1M278.8 102.2h1M278.9 102.8h1M241.6 128h1M254.8 131.3h1M278.3 101.8h1M264.6 123.4h1M254.7 131.3h1M245.7 125.1h1M274.4 114.1h1M263.8 113.6h1M268.8 119.8h1M257.9 127.3h1M268.2 110.5h1M276.5 113.6h1M242.5 135h1M255.6 133h1M252.1 132.3h1M242.5 132.7h1M256.5 128.9h1M244.4 124.7h1M278.9 111h1M245.2 126.8h1M259.4 115.2h1M271.8 108.5h1M250.9 121.8h1M250 123.3h1M256 118h1M256.4 118.9h1M247.3 125h1M268.9 118h1M281.2 101.6h1M281.1 107.4h1M271.6 109h1M254.3 119h1M280.5 108.6h1M250.9 133.5h1M268.1 119.6h1M273.8 114.8h1M272.9 104.8h1M278.7 101.9h1M268 111.5h1M285.6 102.5h1M276.3 111.5h1M278.1 103.9h1M282.3 99h1M278 110.8h1M274.9 106.8h1M266.9 120.6h1M276.4 104.1h1M275 103.6h1M248.5 136.2h1M243.8 127.9h1M266.2 120.6h1M248.6 124.7h1M263.2 124.3h1M281.7 102.2h1M262.3 124.7h1M284.3 104.8h1M268.3 119.8h1M245.4 135.6h1M275.8 105.6h1M254.4 120.7h1M285.8 103.5h1M252.8 133.4h1M247 136h1M268.7 118h1M260.5 125h1M250.2 134.2h1M258.5 117.5h1M285 103.2h1M271.3 106.8h1M275.7 104.4h1M249 136.5h1M278 112.8h1M243.7 134h1M275.2 112.9h1M284.7 100.3h1M244.6 134.8h1M280.6 108.1h1M267.9 110.6h1M270.2 117.6h1M277.5 111.7h1M256.8 117.7h1M280.2 110.2h1M274.5 114.4h1M286.3 104.7h1M282.9 106.7h1M269.7 109.4h1M270.4 109.4h1M277.8 110.8h1M271.8 116.7h1M242.2 128.3h1M260.8 115.7h1M254 121.1h1M260.3 127.5h1M278.5 103.9h1M260.4 126.2h1M254.4 131.6h1M264.5 123.5h1M270.6 117.4h1M276.2 113.2h1M248.3 125.3h1M261.5 115.5h1M277.1 111.7h1M260.8 114.9h1M259.5 128.1h1M285.8 105.6h1M262.1 123.9h1M248.6 123.2h1M262.1 114.6h1M267.8 111.7h1M274.5 113.2h1M273.4 116h1M274.3 113.3h1M260.2 115.5h1M268.8 109.1h1M242.2 130.3h1M274.4 106.7h1M271.7 108.7h1M253.9 121.5h1M270.5 109.7h1M277.4 112h1M283.3 106.9h1M281 110.1h1M245 127.6h1M279.6 101.2h1M264.8 123.6h1M269 120h1M253.9 131.3h1M257.4 117.2h1M247.9 122.7h1M257.7 117.3h1M253.1 120.2h1M251.8 122.6h1M284 101.5h1M279.5 109.2h1M262.1 115.5h1M254.5 119.4h1M246.5 125.5h1M260.4 125.9h1M244.1 128.4h1M278.7 102.9h1M276.2 105.3h1M279.6 111.7h1M276.2 104.5h1M243.4 126.5h1M281.1 108.2h1M276.8 105.4h1M251.5 123.1h1M278.8 103.6h1M268.3 109.9h1M251.6 120.7h1M240.7 127.8h1M246.1 125.5h1M271.5 117.7h1M264.2 121.8h1M269 117.7h1M285.4 105h1M263.4 113.2h1M285.4 104h1M282.5 101.6h1M282.6 106.6h1M259.7 116.4h1M246.4 124h1M247.4 136.5h1M243.1 128.3h1M249.5 134.6h1M279.3 102.9h1M277.3 112.4h1M283.7 101.6h1M277.9 104.8h1M253 131.5h1M276.7 113.7h1M254.4 120h1M272 108.9h1M252.8 135.5h1M275.8 112.2h1M265.9 113.1h1M275.9 105.3h1M269 118.6h1M277.9 111.1h1M263.1 124.8h1M275.8 105.6h1M276.9 102h1M245 125h1M274.7 115.7h1M259.8 125.7h1M278 103.4h1M279.3 102.1h1M274 116h1M261.4 126.9h1M273.6 107.2h1M269.9 107.9h1M249.3 121.2h1M256.6 118.3h1M252.8 132.7h1M265.6 121.1h1M252.6 120.4h1M264.1 127h1M243.7 135h1M276.1 112h1M274.6 106.3h1M260.9 129.2h1M251.6 121.9h1M267.4 111.1h1M241.2 132.4h1M260.3 115.6h1M242.5 129.7h1M246.4 135.8h1M281.9 109h1M264.2 112.1h1M275.9 112.7h1M259.5 126.1h1M249.5 136.2h1M274.9 116.8h1M263.7 124.8h1M266.2 121.3h1M272.3 106.4h1M264.6 121.4h1M273.3 106.4h1M259.9 127h1M262.7 114h1M263 123.7h1M251.1 122.3h1M241.6 133.9h1M263.1 115.1h1M268 111.4h1M264.5 112.4h1M283.9 100.4h1M257.5 127.9h1M264.5 113.8h1M243.6 133.6h1M258.5 129.2h1M284.1 102h1M244.8 125.9h1M253 132.7h1M253.7 132.4h1M256.9 129.1h1M272.4 115.7h1M241.9 131.3h1M274 107.6h1M261.5 115h1M269.4 110.3h1M266.7 111.7h1M249.3 122.7h1M245.8 135.7h1M281 107.6h1M250.5 133.6h1M252.3 133.5h1M264.9 113h1M263.3 114.6h1M267.1 110.6h1M244.1 135.2h1M242.4 131.1h1M258.6 117.6h1M262 114.2h1M268.9 108.6h1M281.1 108.4h1M251.6 122.1h1M260.1 117.2h1M263.8 123.2h1M251.6 132.6h1M281.1 108.5h1M274.7 113h1M263.4 124.1h1M283.7 100.4h1M258.1 128.7h1M259.1 114.4h1M255.8 120h1M242.7 134.2h1M263.8 114.4h1M268.8 118h1M277.6 110.6h1M242.3 130.5h1M254.2 131.3h1M255.1 133h1M285.7 102.8h1M262.1 115.2h1M243.7 126.8h1M261.4 127.5h1M255.9 129.1h1M242.3 134h1M258.2 129.2h1M278.2 102h1M281.1 108.7h1M249.8 134.3h1M273 115h1M276.9 102.8h1M255.7 118.8h1M282.7 106.3h1M247.5 135.6h1M256.4 131.3h1M254.7 130.3h1M284 101.2h1M243 132.3h1M278.3 113h1M253.6 133h1M252.3 133.5h1M256.2 131.4h1M277.7 104.2h1M281.7 102.3h1M286.2 104.1h1M248.8 136h1M254.5 130.4h1M258.4 115.8h1M272.4 116.1h1M269.7 109.4h1M273.3 115h1M257.4 130.1h1M279.4 110.1h1M278.2 112.5h1M257.9 118.3h1M245 135.6h1M253.9 132.5h1M246.1 135.9h1M252.4 122.4h1M265.4 121.3h1M270.3 117.1h1M281.6 107h1M244 135.4h1M255 120.3h1M240.4 128h1M254.3 131.1h1M258.8 129.2h1M269.1 109.2h1M273.1 115.3h1M263.4 112.9h1M255.8 118.9h1M248 137.2h1M246.6 125.6h1M272.9 115.4h1M271.2 116h1M269.2 118.2h1M265.6 111.8h1M277.9 104h1M280 101.5h1M244.4 135.3h1M257.8 127.6h1M251.3 122.7h1M251.4 122.7h1M280.5 102.9h1M266.8 121.8h1M256.3 128.7h1M257.9 129.2h1M242.8 131.9h1M267.4 122.1h1M275.8 114.2h1M281 102.5h1M256.4 118h1M284.4 104.6h1M252.6 120.1h1M257.8 127.4h1M283.4 105.8h1M274.9 113.6h1M275.8 113.3h1M278.5 104.1h1M266.5 120.9h1M266.8 121.4h1M252.1 122.2h1M264.1 114.4h1M266.4 112.3h1M267 111.8h1M261.8 124.9h1M255.2 130.3h1M256 118.8h1M252.4 132.3h1M251.9 134h1M248.1 135.4h1M251.9 136h1M280.4 109.8h1M251.9 132.9h1M253.6 120.3h1M277.1 104h1M257.4 128.1h1M241.7 133.3h1M275.5 105h1M264.9 124.2h1M271 108.8h1M269.9 110h1M256.5 130.7h1M276.9 104h1M269.1 110.2h1M255.2 129.5h1M242.4 128.9h1M273.9 106.5h1M281.3 108.7h1M271.5 116.9h1M277.3 114.7h1M249.6 123.5h1M280.2 108.6h1M282.3 101.1h1M263.5 114.3h1M262.6 124.5h1M240.3 133.1h1M243.6 127.2h1M242.1 126.5h1M258.9 127.9h1M275.9 112.7h1M278.1 113.8h1M250 135.4h1M274.7 103.7h1M268.5 120.1h1M267.7 118.9h1M252.2 120.5h1M267.7 119.4h1M265 122.4h1M245 127.5h1M249.5 122.9h1M277.4 103.6h1M253.7 120.9h1M286.2 105.6h1M284.7 102.2h1M270 109.4h1M245.7 127.2h1M252.4 133h1M246.4 125.5h1M266.9 109.7h1M261.9 124.5h1M248.4 124.9h1M274.3 106.9h1M257.1 119.1h1M264.7 111.9h1M267.5 110.9h1M285.5 102.3h1M261.8 115.8h1M249.6 135h1M258.2 129.1h1M271.4 108.6h1M273.8 115.1h1M283.5 106.4h1M250.6 136.3h1M257.7 128.6h1M255.1 131.1h1M274.9 106h1M273.9 115h1M285.3 104.5h1M253.3 120.8h1M277.1 104.8h1M246.2 126.2h1M282.1 100.9h1M254.5 120.6h1M274 113.5h1M271.8 115.9h1M248.7 124.6h1M248.4 135.6h1M273.9 107.3h1M266.2 122.3h1M282.2 101.4h1M243.7 126.7h1M249 123.2h1M249.2 123.6h1M242.6 128.9h1M252.3 122.6h1M242.1 127.1h1M267.1 120.7h1M268.8 110.2h1M248.6 135.3h1M257.6 128.8h1M253 121.3h1M248 124.3h1M267.3 121.6h1M251.1 122.7h1M252.2 122.5h1M255.8 118.5h1M273.6 114.6h1M282.2 106.4h1M251.6 122.3h1M282.4 106.4h1M264.6 113.4h1M246 126h1M258 127.9h1M275.4 106.2h1M247.8 125h1M255.5 119h1M255.9 118.8h1M250.2 123.3h1M274.2 114.6h1M269 118.9h1M251.4 122h1M278.4 102.9h1M274.7 115.4h1M285.4 104.8h1M282.6 106.2h1M258.1 117.2h1M259.3 116.9h1M271 117.7h1M246 126.3h1M278.8 110h1M280.4 108.9h1M285 103.9h1M242.3 134.5h1M279.7 110h1M270.5 108.8h1M243.1 128.9h1M269 109.9h1M258.8 114.9h1M261.8 115.7h1M271.8 107.9h1M254.9 130.8h1M280.8 108.6h1M283.1 107.9h1M280.9 108.4h1M264.7 113.8h1M250.1 134.8h1M280.8 108.8h1M257.5 129.1h1M250.1 134.8h1M285 101.7h1M243.4 128.4h1M271 116.4h1M253 120.3h1M255.4 132.8h1M264.7 112.6h1M261.6 124.2h1M250.5 123.5h1M255.2 120.4h1M275.9 105.4h1M266.8 111.6h1M259.8 115.8h1M249.9 123h1M264.8 122.8h1M281.4 100h1M243 130.7h1M274.1 113.4h1M255 118.7h1M265.6 120.8h1M263.2 113.8h1M261.9 125.5h1M282.3 106.5h1M283.8 101.7h1M276.6 104.9h1M283.6 106.9h1M266 123.5h1M252.3 131.9h1M273.6 113.8h1M261.8 115.1h1M268.5 119.8h1M280.1 103.4h1M247.7 125.1h1M277.9 103.9h1M244.2 134.3h1M251.5 122.9h1M257.5 127.8h1M254.4 121h1M267 119.5h1M282.2 106.7h1M270.1 110.3h1M263.4 113.1h1M276.6 104.9h1M262.7 115.3h1M255.6 129.1h1M256.2 118.3h1M280 102.7h1M276.3 111.9h1M243.2 133.8h1M282.7 107.3h1M251.2 122.5h1M278.1 104.1h1M278.6 104.2h1M254.6 117.6h1M260 116.8h1M258.9 129.4h1M245 125.5h1M258.7 128.8h1M280.9 108.2h1M254.1 132.9h1M260.7 124.8h1M259.1 115.8h1M249 124.9h1M257.1 128.9h1M254.8 120.1h1M269.6 117.4h1M278.4 111.3h1M258.1 130h1M264.6 123.3h1M266.4 120.8h1M244.3 136.3h1M274.6 114.5h1M277.4 103.8h1M253.5 121.7h1M255.1 116.9h1M249.5 135.5h1M251.9 135.2h1M266.8 111.3h1M257.5 128.3h1M259.5 127.3h1M284.1 104.9h1M259.8 115.7h1M265 113.6h1M262 124.8h1M242.8 129h1M250.9 120.9h1M254.8 120.2h1M243.6 133.5h1M283.6 107.8h1M244.3 135.7h1M285.2 104.3h1M265.8 122.5h1M242 131.7h1M256.9 132.8h1M279.8 108.8h1M274.2 115.3h1M262 115.9h1M277.2 104.3h1M251.1 119.8h1M261.3 126h1M278.2 111.5h1M243 127.8h1M284.5 107.4h1M268 119.6h1M272.7 107.2h1M270 118.2h1M253.5 119h1M284.6 107.6h1M257.4 117.4h1M278.7 110.5h1M249.1 123.7h1M257.3 128h1M251.5 134.5h1M261.1 126.9h1M249.9 134.2h1M267.3 121.6h1M272.6 117.7h1M282.5 108h1M277.9 111.5h1M280.9 107.9h1M267.9 110.2h1M278.9 110.3h1M258.4 117.2h1M274.3 113.4h1M256.9 117h1M268.4 109.9h1M259.3 116.4h1M285.9 102.1h1M270.2 118.2h1M242.1 132.5h1M247.7 124.7h1M253.5 133.5h1M276.9 111.1h1M250.4 135.9h1M261.8 115.6h1M250.9 122.3h1M250.4 123.9h1M264.7 122.9h1M248.9 136.7h1M246.9 125.2h1M268.6 110.5h1M278.2 104.4h1M274.7 106.4h1M276.5 103.7h1M263.4 123.4h1M277.3 110.9h1M252.4 133.2h1M252.8 120.8h1M265.2 122.6h1M268.9 117.8h1M242.7 133.1h1M280.1 102.5h1M278.5 109.9h1M253.8 132.7h1M285.1 105.7h1M243.8 135.5h1M278.6 111.4h1M247.2 126h1M277.6 102.1h1M264.8 123.1h1M242.5 131.7h1M273.1 116h1M262.4 125.7h1M245.6 135.5h1M248 135.4h1M248.9 122.7h1M276.6 111.5h1M270.9 117.3h1M241.1 131.8h1M277.2 102.6h1M249.6 135.4h1M248.8 122.9h1M273 106.2h1M286.7 105.4h1M266.3 121.7h1M276.6 105h1M280.9 108.9h1M281.9 107.3h1M273.4 108h1M282.1 107.7h1M276.3 113.9h1M256.9 129.3h1M257.2 129.4h1M263.3 113.7h1M272.3 116.5h1M247.7 125.7h1M284.7 106.6h1M257.3 128.1h1M275.1 106.5h1M254.6 132.3h1M250.5 135.1h1M261.2 124.9h1M285.1 106.2h1M249.7 121.8h1M250 135.6h1M243.4 134h1M279.9 102.7h1M273.4 113.9h1M284.5 101.5h1M247.2 121h1M285.6 103.2h1M261.8 112.7h1M284.3 105.1h1M266.3 112h1M251.9 122.9h1M273.4 105.4h1M279.1 103.3h1M243 129.2h1M263.5 113.9h1M282.3 106.7h1M242.5 135.2h1M245.8 135.9h1M257.6 127.5h1M254.8 131.9h1M244.1 127.8h1M274.1 106.8h1M280.2 102h1M267.7 109.8h1M257.1 117.5h1M268 120.6h1M257 118.7h1M248.6 125.2h1M261.5 125.3h1M282.2 101.8h1M241.8 130.3h1M254.4 131.6h1M244.6 135.1h1M262.8 113.8h1M273.8 114.5h1M260 126.3h1M274.6 106.4h1M256.8 128.1h1M244.3 128.1h1M283.2 105.9h1M248.7 137.2h1M269.7 117.6h1M259.6 126.5h1M246.3 137.5h1M263.1 124.2h1M275.1 115.4h1M278.9 102.9h1M279.8 102.9h1M266.3 120h1M245.2 134.9h1M276.1 113.6h1M281.5 107.9h1M241.4 131.4h1M285.2 105.2h1M250.8 135.1h1M257.2 128.9h1M252.1 133.9h1M279.7 108.8h1M245.1 137.3h1M271.3 115.7h1M267.5 122h1M286.5 101.5h1M263.5 123.9h1M282.6 101.2h1M243.2 133.6h1M248.2 136.5h1M256.2 119h1M252.4 135.6h1M257.7 118.4h1M262.7 124.3h1M280.7 101.8h1M279 103.5h1M268.1 110.6h1M269.1 118.2h1M276.7 105h1M243.5 127.3h1M276 105.6h1M280 111.6h1M262.4 112.9h1M275.5 114.9h1M263.5 125.8h1M258.8 117.8h1M242 133.3h1M268.4 110.6h1M257.3 130.1h1M260.9 127.1h1M258.3 116.6h1M272.1 116.9h1M244.2 125.2h1M259.9 116.6h1M280.4 108h1M244.3 135.3h1M242.7 130.8h1M263.2 123.2h1M278.7 109.7h1M245.9 135.4h1M270.8 116.3h1M283.4 101.3h1M256.4 130.7h1M267.1 111.7h1M272.8 116.4h1M243.3 129.5h1M247.4 135.3h1M251 123.2h1M277 112.1h1M251.4 135.7h1M255.4 118.9h1M245.4 135.5h1M255.4 130.1h1M247.9 123.5h1M273.4 115.9h1M284 101.5h1M284.5 105.6h1M265.7 112h1M260.1 127.1h1M244.7 135.6h1M266.6 119.8h1M274.9 104.5h1M267.3 111.9h1M248.9 136.6h1M271.3 107.2h1M283.1 101.7h1M254 130.5h1M274.9 113.2h1M259.7 116.7h1M265.5 122.5h1M243.4 128.8h1M246.2 126.6h1M256.7 118.8h1M251.1 119.9h1M251.5 133.1h1M275.1 112.6h1M269.4 109.5h1M258.2 118.2h1M258 127h1M262.4 114.9h1M257.3 132.9h1M277.1 112.5h1M245.6 126.5h1M268.7 111h1M263.2 113.4h1M252.6 119.6h1M248.3 123.6h1M243.9 134.9h1M242.3 132h1M260.2 117.1h1M275.8 113h1M252.6 133.3h1M260.3 115.4h1M274.6 115h1M282.1 100.5h1M260.6 126.1h1M272.1 116.9h1M268 111.7h1M240.1 132.3h1M245.6 135.3h1M268.6 119.9h1M252.4 122.2h1M252.2 121.7h1M250.4 123h1M284.9 105.7h1M249.7 135h1M277.7 110.4h1M284.1 100.1h1M261.7 125.7h1M276.9 112.7h1M258 118h1M258 117.9h1M284.8 101.5h1M251.8 121.6h1M260 116.7h1M273.6 107.6h1M281.2 100.8h1M257.7 127.6h1M248.3 124.7h1M252.6 131.9h1M275.7 105h1M266 111.7h1M284.9 107.3h1M272.9 107.7h1M250 123.9h1M251.4 122.3h1M274.2 116.1h1M264.7 123.8h1M257.9 127.7h1M258.2 117.2h1M257.8 127.6h1M281.4 107.8h1M260.7 116.4h1M248 125h1M250.6 121.2h1M266.5 122.1h1M285.4 104.4h1M242.6 129.2h1M286 102.4h1M260.7 125.2h1M254.4 131.2h1M281.6 101.4h1M272.6 106.4h1M242.1 133.1h1M244.8 134.7h1M245 135h1M268.6 119.1h1M264.9 123.2h1M250.8 136h1M264.7 112.9h1M285.5 101.6h1M250.7 122.8h1M258.6 117.8h1M242.6 127h1M265.4 111.4h1M270.7 117.3h1M284.3 99.9h1M256.2 119.5h1" stroke="#ff0000" stroke-width="1" fill="none"/>
<rect x="218.6" y="130.6" width="33" height="21" fill="#fff" opacity="0.88"/>
<g stroke="#3a3a3a" stroke-width="1.15" fill="none">
<rect x="216.1" y="15.3" width="142.4" height="138.3"/>
<path d="M287 16.3V152.4M216.1 97.2H356"/>
<path d="M215.7 153.6v3M238.7 153.6v3M276 153.6v3M312.3 153.6v3M358.5 153.6v3M348.6 153.6v3M216.1 15.3h-3M216.1 153.6h-3M216.1 22.5h-3M216.1 54.5h-3M216.1 86.5h-3M216.1 118.6h-3M216.1 152.3h-3"/>
</g>
<path d="M288.6 13.1v1.2M295.4 13.1v1.2" stroke="#3a3a3a" stroke-width="0.7" fill="none" opacity="0.7"/>
<path d="M219.5 153.6v1.6M224.1 153.6v1.6M227.6 153.6v1.6M230.5 153.6v1.6M233 153.6v1.6M235.1 153.6v1.6M237 153.6v1.6M249.8 153.6v1.6M256.3 153.6v1.6M260.9 153.6v1.6M264.4 153.6v1.6M267.3 153.6v1.6M269.8 153.6v1.6M271.9 153.6v1.6M273.8 153.6v1.6M286.6 153.6v1.6M293.1 153.6v1.6M297.7 153.6v1.6M301.2 153.6v1.6M304.1 153.6v1.6M306.6 153.6v1.6M308.7 153.6v1.6M310.6 153.6v1.6M323.4 153.6v1.6M329.9 153.6v1.6M334.5 153.6v1.6M338 153.6v1.6M340.9 153.6v1.6M343.4 153.6v1.6M345.5 153.6v1.6M347.4 153.6v1.6M216.1 152.1h-1.6M216.1 141h-1.6M216.1 135.4h-1.6M216.1 131.4h-1.6M216.1 128.2h-1.6M216.1 125.7h-1.6M216.1 123.6h-1.6M216.1 121.7h-1.6M216.1 120.1h-1.6M216.1 109h-1.6M216.1 103.3h-1.6M216.1 99.3h-1.6M216.1 96.2h-1.6M216.1 93.7h-1.6M216.1 91.5h-1.6M216.1 89.7h-1.6M216.1 88h-1.6M216.1 76.9h-1.6M216.1 71.3h-1.6M216.1 67.3h-1.6M216.1 64.1h-1.6M216.1 61.6h-1.6M216.1 59.5h-1.6M216.1 57.6h-1.6M216.1 56h-1.6M216.1 44.9h-1.6M216.1 39.2h-1.6M216.1 35.2h-1.6M216.1 32.1h-1.6M216.1 29.6h-1.6M216.1 27.4h-1.6M216.1 25.6h-1.6M216.1 23.9h-1.6" stroke="#3a3a3a" stroke-width="0.6" fill="none" opacity="0.75"/>
<g font-family="'Liberation Sans', Arial, Helvetica, sans-serif" font-size="8.5" fill="#262626" stroke="#262626" stroke-width="0.14">
<text x="219.5" y="25.4">Q2-1</text><text x="219.5" y="35">1.07%</text>
<text x="328.7" y="25.4">Q2-2</text><text x="329.3" y="35">1.69%</text>
<text x="219.5" y="138.8">Q2-3</text><text x="219.5" y="148.5">96.80%</text>
<text x="328.7" y="138.8">Q2-4</text><text x="328.7" y="148.5">0.44%</text>
<text x="210.5" y="167.9">10</text><text x="221" y="163.5" font-size="7.1">3.4</text>
<text x="269.7" y="167.9">10</text><text x="279.9" y="163.5" font-size="7.1">5</text>
<text x="306.4" y="167.9">10</text><text x="317.1" y="163.5" font-size="7.1">6</text>
<text x="347.4" y="167.9">10</text><text x="357.6" y="163.5" font-size="7.1">7.2</text>
<text transform="translate(208.6 30) rotate(-90)">10</text><text transform="translate(204.3 19.7) rotate(-90)" font-size="7.1">7.2</text>
<text transform="translate(208.6 61.3) rotate(-90)">10</text><text transform="translate(204.3 51) rotate(-90)" font-size="7.1">6</text>
<text transform="translate(208.6 93.2) rotate(-90)">10</text><text transform="translate(204.3 82.9) rotate(-90)" font-size="7.1">5</text>
<text transform="translate(208.6 125.6) rotate(-90)">10</text><text transform="translate(204.3 115.3) rotate(-90)" font-size="7.1">4</text>
<text transform="translate(208.6 158.4) rotate(-90)">10</text><text transform="translate(204.3 148.1) rotate(-90)" font-size="7.1">2.9</text>
<text x="273.3" y="180.2" textLength="26.7" lengthAdjust="spacingAndGlyphs">FITC-A</text>
<text transform="translate(194 85.3) rotate(-90)" text-anchor="middle" font-size="8.35">PE-Texas Red-A</text>
</g>
<text x="279.4" y="8" textLength="20.6" lengthAdjust="spacing" font-family="'Liberation Serif', 'Times New Roman', serif" font-weight="bold" font-size="8.6" fill="#262626">FrAE</text>
<path d="M103.8 291.8L104.6 290.9L105 289.8L104.9 288.7L104.4 287.6L103.5 286.8L102.4 286.4L101.3 286.5L100.2 287L67.3 309.6L66.1 310.9L65.5 312.5L65.6 314.3L66.4 315.9L67.7 317.1L69.3 317.7L71.1 317.6L72.7 316.8Z" fill="#ff0000"/>
<path d="M90.7 304.6h1M80.5 312h1M71.5 302.7h1M97.9 284.4h1M74.5 318.6h1M107.5 289.2h1M93.9 286.4h1M82 313.8h1M66.8 305.7h1M85.5 307.4h1M104.1 284.4h1M81.1 297.3h1M105.5 285.2h1M96.7 286.2h1M69.4 304.4h1M66 309.5h1M74.1 315.7h1M97.6 287.6h1M75.9 298.9h1M95.8 299.3h1M74.1 318.6h1M65.3 318.1h1M94.4 300.7h1M93.7 303h1M63.3 310.9h1M70.1 303.1h1M104.3 286.2h1M87.1 295.1h1M76.1 319.5h1M94.3 290.1h1M87 308.2h1M83.7 315.2h1M72.4 301.5h1M60.4 314.8h1M74.8 316.5h1M74.4 302.8h1M86.7 315.4h1M73.5 300.6h1M89.6 290.8h1M91.1 302h1M96.8 288.8h1M90.1 293.4h1M72.5 296.9h1M76.5 300.3h1M100.7 284.5h1M75 303.7h1M65.3 314.7h1M97.1 300.8h1M76.5 302.1h1M104.4 284.4h1M92.7 290.1h1M105.2 296.5h1M69.5 306.9h1M77.5 318.5h1M64.7 312.3h1M89.1 305.8h1M78.4 296.1h1M107.5 288.2h1M90.4 289.8h1M75.8 316.3h1M103.5 293.9h1M96.5 284.8h1M79.4 298h1M80.7 296.2h1M68.9 318.2h1M91 302.2h1M73.2 303.8h1M90.2 304.6h1M62.8 307.9h1M81.8 295.3h1M94.2 290.5h1M70.5 320.3h1M95 287.8h1M71.2 306.6h1M79.6 311.8h1M95.5 299.4h1M85.3 313.5h1M78.3 316.4h1M77.7 317.8h1M93.4 291.6h1M74.3 317.6h1M77.2 319.1h1M97.8 287.3h1M89.1 286.6h1M66.8 318.7h1M72.2 303.3h1M102.8 299.3h1M91.4 289.3h1M87.7 292.3h1M90.1 304.8h1M83.1 295.7h1M104.7 294.5h1M84.3 297.5h1M68.4 305.5h1M64.9 301.3h1M85.1 293.8h1M87 287h1M92.6 301.6h1M91.1 292h1M84.4 312.9h1M76.2 296.8h1M75 302.2h1M79.4 301h1M103.5 282h1M99 296.5h1M70.5 304h1M79.3 311.8h1M89.7 292h1M106.3 283.3h1M84 309.2h1M65.4 307.9h1M106.1 292.2h1M80 312h1M80 316.2h1M80.1 293.9h1M90.7 302.6h1M78.4 301.4h1M63.6 315.6h1M85.5 288.7h1M94 291h1M69.4 318.1h1M87.8 294.1h1M66.7 304.8h1M68.5 306.9h1M65.6 303.6h1M77 314.8h1M92.6 291.4h1M84.5 307.9h1M90.5 307.8h1M79 295.1h1M80.2 313h1M68.2 307.7h1M73.3 305.4h1M102.7 299.8h1M105.6 281.5h1M109.7 279.9h1M75.3 302.7h1M99.7 303.6h1M94.8 299.7h1M79.5 300.3h1M107.5 285.5h1M77.7 297.2h1M93 305.8h1M91.6 302.6h1M65.5 315.1h1M102.7 297h1M103.9 295.3h1M77 319.2h1M85.8 309.1h1M74 315.9h1M78.9 300.1h1M64.3 311.4h1M95.6 302.2h1M105.6 287.8h1M69.1 306.2h1M64.2 311.2h1M64.6 314.8h1M83.6 311.3h1M92.7 291.3h1M72.9 318.2h1M78.7 312.4h1M91.7 289.6h1M75.8 317.9h1M69.7 303.9h1M66.4 315.9h1M87.8 289.7h1M93.1 304.9h1M73.9 316h1M103.8 281.5h1M89.6 292.3h1M86.4 311.9h1M73 304.3h1M99.2 285.6h1M81.1 310.6h1M94.9 284.5h1M74.8 316.3h1M91.1 304.7h1M97.1 288.9h1M89.9 293.1h1M75 301.1h1M85.2 290.3h1M76.5 314h1M108.6 284.5h1M68.9 319.1h1M95.1 288.4h1M61.5 308.4h1M97.2 298.9h1M85.5 309h1M91.2 288.5h1M97.7 285h1M79 300.6h1M80.8 292.6h1M70.7 318.3h1M68.9 304.5h1M89.8 291.8h1M68.9 307.7h1M83.8 291.6h1M76.5 314.3h1M88 292.7h1M91.5 291.7h1M97.1 286.8h1M77.7 297.5h1M88 311.4h1M78 297.3h1M88.4 290.8h1M90.3 287.8h1M70.7 306.4h1M103.1 286.5h1M75.4 316.8h1M74.6 303.7h1M96.5 299.8h1M66.2 309.8h1M66.8 309.4h1M71.9 317.4h1M88.7 311.5h1M105.5 302.7h1M64.3 317.3h1M105.6 282h1M97.5 297.9h1M100.9 297h1M71.6 305.6h1M89.5 304.8h1M72 306.1h1M71 302.5h1M83.4 295.7h1M82.3 312.9h1M92.4 289.6h1M103.9 286h1M101.5 281.8h1M86.6 293.5h1M82.6 312.7h1M73.1 320h1M105.2 293.8h1M71.4 302.7h1M77.6 314.7h1M81.3 296.3h1M72.7 317h1M62.2 311h1M77.1 317.7h1M65.1 304h1M66.5 309.4h1M91.9 308.1h1M105.6 292.5h1M92.7 283.7h1M91.3 292.7h1M97.8 282.5h1M85.6 291.2h1M69.2 307.8h1M75 319.2h1M93.8 288.8h1M74.3 298.5h1M91.6 292.3h1M82.7 294.9h1M99.9 301h1M107 288.4h1M63.5 305.9h1M90.3 308.8h1M100.3 296.9h1M101.9 301.2h1M86.4 296h1M66.2 315.9h1M87.5 308h1M93.8 302.1h1M79.7 313.2h1M79 296h1M85.7 291.1h1M77.4 302.6h1M81.1 313.6h1M72.1 319.7h1M106.1 290.7h1M94.3 287.3h1M93.4 288.9h1M61.5 313.1h1M85.4 293.4h1M69.2 308.3h1M95.2 288.3h1M90.2 308.7h1M88.9 292.7h1M71.3 318h1M64.8 312.5h1M78.9 315.3h1M98.7 287.7h1M95.3 299.7h1M91.9 307.1h1M94.1 301.9h1M72.3 301h1M60.8 320.1h1M70 307.4h1M83.6 312.9h1M76.4 302.7h1M71.1 303.6h1M80.1 298.9h1M77.3 318.7h1M74.9 318.1h1M68.1 317.6h1M98.6 285.4h1M88.6 289.6h1M81 299.5h1M72.7 303.5h1M69.8 304.8h1M101.5 254h1M102.6 257.8h1M99.9 250.5h1M121.7 240.1h1M113.4 262.6h1M98.4 252.6h1M98.1 261.2h1M97.8 261.1h1M129.2 251.9h1M88 263.6h1M103.4 268.2h1M120.5 259h1M127.1 256.5h1M109 257.6h1M118.9 249.9h1M119 250.9h1M122.5 251.7h1M113.1 261.2h1M134.9 259.3h1M113.1 255.2h1M129.7 250.1h1M97.6 261.8h1M120 246.4h1M96.8 265.3h1M94 266.6h1M122.4 267.6h1M100.5 259.4h1M117.2 256.3h1M100.3 267.2h1M130.3 248.4h1M114 263.5h1M99.3 266.4h1M109.9 247.3h1M120.9 250h1M100.7 257.2h1M116.6 251.8h1M135.2 244.9h1M122 252.9h1M107.1 246.5h1M105.2 261.3h1M117.4 251.6h1M94.1 266.6h1M76.1 274.7h1M109 273.8h1M102.9 273.2h1M129.9 241.7h1M110.6 249.8h1M101.1 265.1h1M98.1 263.9h1M116.8 252.5h1M104.1 267.2h1M101.4 251.9h1M113.1 263.9h1M114.7 261.3h1M119 271.7h1M110.4 249.8h1M127.7 251.5h1M129.3 241.5h1M94.3 271.2h1M142.6 243.8h1M113.6 257.1h1M126.8 251h1M99 251.1h1M111.5 244.9h1M112 250h1M114.4 259.6h1M120.7 249.4h1M117.1 248.1h1M99 260.1h1M109.7 255.7h1M120.1 252.1h1M122.4 259.3h1M107.7 258.5h1M105.6 251.3h1M112.5 263.9h1M98.8 263h1M95 260.1h1M134 257.4h1M107.8 260.7h1M116.9 266.3h1M104.5 264.8h1M130.8 258.9h1M135.3 254.1h1M110.7 261.7h1M119.1 257h1M103.6 262.8h1M138.5 261.8h1M120.2 245.5h1M102.7 263.6h1M129.6 257.6h1M117.9 259.6h1M116.6 254.5h1M118.7 261.5h1M105.1 263.5h1M106.8 263.2h1M118.7 252.4h1M113.2 262.2h1M99.9 260.5h1M136 246.5h1M110 259.9h1M103 254.5h1M103.8 261.5h1M123 260.8h1M123.4 251.9h1M114.9 256.3h1M122.8 254.1h1M93.7 264.3h1M102.9 248h1M106.1 259.3h1M111.3 255.8h1M118.6 257.1h1M84.9 261.4h1M150 243.2h1M103.4 266.5h1M118.8 262.7h1M121 251.5h1M120.9 250.3h1M118.3 265.1h1M78.5 276.1h1M97.7 260.2h1M119.1 249.3h1M103.7 269.5h1M100.1 265.5h1M81.9 265.5h1M127.8 255.1h1M119 258.1h1M102.3 265.4h1M113 265.6h1M110.6 258.6h1M97.8 262.2h1M111.4 266.8h1M114.7 256.6h1M116.2 250h1M126.6 251.1h1M110.1 253.4h1M107.3 263.4h1M113.7 249.4h1M105.7 265.5h1M92.7 254.9h1M126.4 255.1h1M108.5 263.9h1M115 262.4h1M120.3 257.4h1M99.3 266.3h1M120.8 258.8h1M117.7 257.9h1M109.1 255.5h1M114.6 252h1M103.2 263.8h1M82.5 262.9h1M110.3 264.9h1M102.8 268.1h1M124.4 260h1M113.6 254.1h1M108.4 268.9h1M115.1 265.3h1M125.3 245.3h1M121.8 244.2h1M113.3 249.8h1M119.9 263.9h1M108.2 259.7h1M108.3 254.8h1M118.5 255.1h1M113.5 267.3h1M115.9 258.7h1M101.7 272.5h1M94 272.9h1M86.7 255.8h1M104.9 257.1h1M130.6 259.5h1M129 260.4h1M98.6 261h1M94.1 269.2h1M120 251.7h1M118.5 259.5h1M95.5 266.2h1M123.9 252.1h1M115.8 262.9h1M131.5 261.8h1M118.2 262.9h1M123.8 257.7h1M115.9 258h1M100.2 263.4h1M108.9 260h1M102.4 259.2h1M123.5 259h1M96.7 256.2h1M89 255.8h1M119.1 253.3h1M125 252h1M126.5 245.1h1M123.4 249.9h1M93 264.9h1M103.5 262.8h1M106.5 265h1M113.7 264.6h1M84.2 265.6h1M109 252.5h1M117.1 262.6h1M100.3 263.5h1M112.5 256.8h1M126.8 254.9h1M113.7 262.2h1M125.1 255.4h1M127.9 263.6h1M116.6 256.8h1M116.8 258.2h1M102.7 249.5h1M124.6 247.7h1M106.6 262.6h1M103.2 262h1M116.5 246.3h1M99.5 253.9h1M116.3 255.5h1M124.6 254h1M115.5 265.5h1M113.5 259.7h1M123 254.9h1M122.2 258.6h1M89.5 257.2h1M99.7 274.5h1M127.9 252.7h1M115.5 254.5h1M85.6 266.4h1M91.9 256.5h1M114.8 265.5h1M101.4 267.1h1M117.1 255.7h1M112.3 257.5h1M118.4 258.1h1M99.1 268.1h1M116.9 250h1M137.4 254.3h1M103.3 265.3h1M124.6 244.8h1M119.9 244.9h1M117.7 250.9h1M112.7 263.2h1M99.4 268.5h1M103 267.3h1M123.2 260.5h1M124.4 255.8h1M123.8 246h1M122.8 252.7h1M124.2 257.9h1M108.1 264.6h1M99.6 270.4h1M111.7 251.3h1M121.9 266.4h1M112.2 256.7h1M96.4 273.2h1M107.6 266.4h1M97 273.3h1M111.5 252.9h1M99.3 264h1M104.1 245.3h1M117.8 262.2h1M115.7 263.4h1M127 248.9h1M97.3 261h1M86 270.6h1M127.3 264.2h1M125.7 244.3h1M127.9 248.7h1M114.4 255.1h1M119.5 259h1M112 254.7h1M97.4 267.7h1M104.9 261.1h1M118.2 257.1h1M102.3 255h1M135.8 251.7h1M94 267.8h1M104.4 255.1h1M124.8 252h1M104.6 261.7h1M98.7 265.3h1M93.5 260.4h1M104.5 265.5h1M129.1 248.9h1M112.6 246.3h1M117.3 254.1h1M107.3 265.2h1M124.5 260.6h1M112.9 257.4h1M103.3 269.4h1M109.7 269h1M115.9 261.5h1M128.3 258.5h1M109.4 254.5h1M120.9 263.6h1M133 240.7h1M103.9 266.4h1M96.7 264.1h1M122.4 250.4h1M116.8 255.4h1M109.3 255.5h1M117.2 262.4h1M112.7 271.9h1M118.6 257.2h1M111.4 268.9h1M122.8 257.8h1M95.9 259.6h1M102.5 263.7h1M114.6 261.2h1M108.6 266.8h1M121 256.8h1M111.8 259.8h1M108.7 269.4h1M113.9 256.2h1M107.9 266.8h1M92.8 265.2h1M99.3 266.6h1M100.3 257.6h1M104.6 256.6h1M113.2 258.2h1M123.2 254.8h1M117.8 253.8h1M130.7 243h1M125.2 247h1M109.5 258.8h1M131.3 249h1M123 244.8h1M110 269.1h1M114.7 254.3h1M127.1 257.8h1M112.2 250.5h1M125.3 256.1h1M117 257.2h1M122.8 260.6h1M108.2 259.9h1M115 252.6h1M104.2 251.7h1M122.8 261.6h1M92.6 268.9h1M108 236.8h1M125.1 247.5h1M119 255.6h1M110.6 255.8h1M124 269.3h1M98.5 254.2h1M101.6 261.6h1M110.6 267.4h1M107.8 253.1h1M124.9 256.8h1M103.3 267.9h1M123 250.7h1M92.2 263.9h1M103.4 264.5h1M111.7 258.8h1M128.7 259.5h1M107.6 268.6h1M84.3 264.1h1M114.3 249.5h1M110.7 256.2h1M98.1 261.6h1M100.2 265.4h1M103.8 262.3h1M115.1 262.6h1M116.3 246.1h1M95.3 268.4h1M138.7 245h1M111.5 258.5h1M110.3 267.2h1M116.1 245.1h1M114 259.7h1M141.7 250.8h1M124.9 252.4h1M109.4 264.7h1M107.2 260h1M107.9 265.6h1M106.7 257.1h1M119.9 254.7h1M107 268.4h1M129.2 245.1h1M110.5 257.7h1M112.4 264.6h1M122.6 251.8h1M87.2 265.7h1M96.8 253.3h1M120.9 259.8h1M110.3 253.8h1M112 258.8h1M115.4 253.2h1M105.2 262.5h1M110 259.4h1M94.5 262.3h1M91.7 273.5h1M131.5 262.8h1M100.7 262.8h1M104.2 264h1M128.5 251h1M123.3 249.8h1M106 261.9h1M103 254.7h1M110.9 258.8h1M100.1 262.3h1M116.7 251.3h1M112.4 254.5h1M113.6 258h1M120.6 253.9h1M122 258.5h1M135.3 252.3h1M129.9 250.3h1M89.5 262.3h1M123.5 256h1M96.6 259.3h1M90.6 255.2h1M115.9 243.7h1M103.3 261.4h1M105.8 254.3h1M123.4 249.8h1M102.2 257.3h1M99.3 258.2h1M114.6 253.8h1M124.8 247.9h1M117.7 254.5h1M93.6 266.9h1M103.4 259.9h1M108.9 256.3h1M132.5 242.4h1M121.8 251.8h1M120.5 250.1h1M123.3 244.9h1M110 264.3h1M118.1 257h1M116.5 252.9h1M99.9 262.7h1M113.6 263.3h1M116.5 250.2h1M98.9 263.7h1M123.6 259.2h1M117 244.7h1M126.9 259.6h1M102.4 261.9h1M114.4 261h1M129 250.4h1M120.1 251.3h1M103.9 266.1h1M114.7 257.5h1M129.1 251.8h1M112.9 263.6h1M113.9 250.3h1M142.4 244.7h1M111.9 259.7h1M111.8 262h1M100.3 264.7h1M103.5 260.6h1M130.6 253.2h1M107.5 252.4h1M102.7 276.9h1M104.9 273.6h1M112.3 259.4h1M124.7 263.8h1M102.9 262.1h1M121.6 258h1M104.6 257.5h1M115.1 254.3h1M115.2 248.9h1M117 250.5h1M103.8 253.8h1M108.5 256.3h1M115.5 250.2h1M94.9 261.9h1M114.8 260.4h1M120.3 262.1h1M126.6 259.3h1M110 255.9h1M114.2 271.3h1M112.8 256.6h1M104.1 265.6h1M107.4 255.5h1M115.9 255.2h1M116.3 260.7h1M98.8 263.3h1M112.1 271.5h1M85.3 267.2h1M120 252h1M108.7 270.3h1M112.4 252.7h1M98.3 264.2h1M109.9 257.8h1M119.5 263.4h1M121.8 250.4h1M93.6 262h1M121.4 254.3h1M111.2 264.1h1M100.2 258.2h1M114.3 249.6h1M106.8 257.7h1M105.5 254.6h1M103.8 264.7h1M113.5 256.4h1M110.7 256.2h1M108.7 258.4h1M93.7 248.5h1M104 258.6h1M117 259.1h1M124.7 247.8h1M112.9 263.9h1M127.3 249.4h1M109.3 254.3h1M98.9 266h1M119.3 256.7h1M101.3 267.7h1M115.6 255.5h1M125.3 256.4h1M103.7 250.8h1M108.6 255.3h1M141.2 247.3h1M116.8 264.2h1M110 246.4h1M117.7 247.6h1M108.8 256.1h1M109.5 257.5h1M115.2 255.3h1M83.1 272.1h1M124.1 241.6h1M97.7 262.2h1M100.9 270.6h1M118.8 258.8h1M116.6 271.1h1M94.6 260.8h1M111.9 253.1h1M93.6 254.6h1M98.3 250.7h1M94.5 269.4h1M100.1 259.8h1M113.7 251h1M110.8 253.4h1M115.7 259.2h1M120.4 249.5h1M109.4 255.8h1M100.2 254.3h1M107.7 259.6h1M131.3 251.3h1M112.4 260.5h1M115.6 258.5h1M111.4 262.5h1M114.6 258.7h1M115.1 253.5h1M109.9 255.8h1M106.4 252.2h1M99.3 256.4h1M99.5 259.1h1M118.3 262.1h1M118.8 251.6h1M119.7 247.7h1M114.4 264.6h1M103.4 267.9h1M120.6 260h1M120.6 260.5h1M93.6 267h1M122.6 259.1h1M117.3 253.4h1M133.6 256.3h1M97.8 264.4h1M96.7 267h1M122.5 259.4h1M87.3 261.7h1M102.2 261.7h1M96.8 260.8h1M99.6 264.9h1M86.7 264h1M107 256.3h1M123.1 254.3h1M120.1 265.2h1M114.8 251.9h1M105.4 256.5h1M128.1 250.3h1M117 254.5h1M123.5 252.5h1M92.1 264.8h1M117.4 261.7h1M97.5 264.1h1M114.7 254.9h1M114.8 260.4h1M99.6 268.7h1M109.5 247.9h1M123.9 249.5h1M117.9 257.4h1M119.3 257.9h1M106.3 275.9h1M106 268.8h1M98.4 264.9h1M110.2 251h1M129.8 262.9h1M117.9 259.7h1M107.3 248.5h1M96.4 260.2h1M115.7 253.9h1M106 253.3h1M88.7 268.1h1M90.9 267.5h1M105.7 256.2h1M98.8 258.2h1M133.3 255.6h1M108.6 250.2h1M102.4 272.1h1M106.9 264.1h1M124.1 234.8h1M101 265.4h1M119.2 251.1h1M118.6 261.2h1M129.6 252.7h1M119.2 259.3h1M107.3 262.2h1M116.3 252.3h1M108.5 248.9h1M121.2 249h1M107.4 250.5h1M136.1 251.1h1M107.1 251.2h1M115.5 253.1h1M100.7 254.3h1M113.7 259.7h1M112.2 259.2h1M110.6 250.3h1M121 250.7h1M104.7 260.2h1M102.7 265.7h1M124.9 253.3h1M107 257.1h1M101.9 257.7h1M126.4 255.4h1M121.5 256.2h1M78.9 268.8h1M109.2 265.7h1M119 249.6h1M121.5 254.2h1M105.7 261.4h1M135.3 263h1M105.3 270.3h1M110.9 264.7h1M114.3 260.7h1M113.8 264h1M120.5 252.6h1M123.6 252.8h1M111.7 260h1M132.6 262h1M100.6 254.6h1M109.7 260.8h1M131.1 247h1M114.2 261.3h1M124.5 253.2h1M105.1 256.9h1M108.1 258.5h1M108.5 254h1M114.2 258.5h1M103.6 249.9h1M115.9 268h1M120.9 257.9h1M124.2 247.5h1M113.6 259.1h1M120.5 257.5h1M126.4 263h1M96.4 257.5h1M96.9 275.7h1M130.2 248h1M127.2 251h1M110.7 253.7h1M113 249.3h1M102 266.6h1M96.9 269.2h1M116.3 258.5h1M97.6 274.4h1M121.1 249.8h1M104.5 263.8h1M115 256.2h1M137.4 254.8h1M134.5 249.3h1M109.9 263h1M124.8 253.7h1M101.7 269.1h1M102.7 256.1h1M117.6 260h1M133.7 264.8h1M103.6 258h1M118.9 257.4h1M114.9 262.6h1M91.5 251.9h1M110.3 259.5h1M132.6 258.1h1M112 262.2h1M117.1 254.2h1M122.2 255.7h1M100.4 255.8h1M124.4 247.2h1M131.5 255.3h1M130.9 250.6h1M126.3 248.9h1M107.1 262.9h1M105.7 263.8h1M100.5 257.9h1M100 260.7h1M105.1 269.6h1M124.8 256.6h1M130.2 253.6h1M104.3 262.3h1M123 258.3h1M93.8 257.9h1M109.8 265.1h1M102 269h1M91.7 265.4h1M117 269.8h1M114.8 263.5h1M105.5 257.4h1M108.1 267.9h1M101.6 267.7h1M107.8 253.7h1M103.5 259.2h1M114.4 257.2h1M96.6 263.2h1M115.8 261h1M117.1 254.6h1M127 253.6h1M119.1 240.8h1M112.8 254.9h1M104.1 263.6h1M89.7 267.8h1M111.4 258.4h1M131.4 258.8h1M133.2 254.7h1M77.8 263.2h1M105.3 269.4h1M108.5 263.3h1M96.9 258.4h1M110.7 250h1M114.1 263.6h1M102.3 253.6h1M111.8 260.6h1M88.9 257.9h1M98.8 260.7h1M101.3 264.4h1M120.8 250.5h1M90.8 263.6h1M110.5 263.5h1M116.5 243.8h1M111.6 260.6h1M118.9 248.7h1M104.6 264.2h1M120.5 265.7h1M124.7 259.9h1M138.6 248.2h1M118.9 251.5h1M125.1 242.6h1M111.5 258.1h1M113.3 259.5h1M133 257.2h1M118.7 255.9h1M103.8 269.2h1M76.2 273h1M114.4 266.1h1M113.9 271.4h1M125.3 265.4h1M90.6 271.6h1M105 284.9h1M98.9 263.3h1M87.7 278.6h1M92.5 276h1M90.1 272.8h1M106.8 271.5h1M107.8 278.8h1M115.6 269h1M94.4 264.4h1M84.4 269.3h1M103.6 262.9h1M105.7 273.6h1M108.3 270.8h1M112.5 261.6h1M92.3 264.3h1M109.3 268.9h1M91.7 279.9h1M105.6 282.3h1M105.9 261h1M102 280.6h1M102.5 268.1h1M84.6 270h1M88.7 253.8h1M102.1 269.7h1M88.2 275.3h1M91 270.9h1M125.9 261.2h1M101.4 262.5h1M90.9 269.4h1M90.9 278.6h1M118.7 279.8h1M70.3 277.4h1M97.8 276.2h1M104.5 261.1h1M96.1 280.7h1M105.2 268.6h1M89.9 278.7h1M101.1 276.6h1M97.6 261.3h1M99.7 270.3h1M101.6 272h1M99 266.8h1M112.9 272.8h1M97.5 274.3h1M94.4 276.8h1M93.5 260.3h1M95.9 270.3h1M82.4 271.9h1M77.5 270.1h1M85.5 276.3h1M102.9 271.5h1M95.1 283.1h1M94.4 269.7h1M129.7 261.7h1M112.2 270.6h1M95.4 264.8h1M95.7 283.9h1M113.5 265h1M93.5 281.9h1M114.6 274.7h1M106.2 271h1M112.2 259.5h1M93.8 280.6h1M110.8 274.8h1M82.3 283.8h1M94.5 259.8h1M110.2 265.2h1M106.3 267h1M76.7 264.3h1M106.4 268h1M107.8 282.7h1M99.7 274.6h1M93.8 280.7h1M93.3 260.1h1M95.7 281.6h1M109.1 266.9h1M105.3 273.2h1M111.6 271h1M106.8 269.3h1M86.1 275.9h1M102.1 275.2h1M124.3 272.8h1M88.8 278.5h1M104.2 276.9h1M92.7 279.1h1M89.9 273.3h1M102 271.8h1M108.5 266h1M108.1 270.7h1M101.3 258.6h1M110.8 273.2h1M83.8 282.1h1M106.6 263h1M104.9 274.6h1M97.4 271.2h1M97.8 265.6h1M90.6 274.5h1M112.5 270.3h1M89.9 267.8h1M83.3 273.7h1M100.3 274.7h1M95.3 280.4h1M99.4 274h1M118.3 277.2h1M99.5 277.1h1M102.6 277.7h1M123.2 263.3h1M83.4 270.9h1M104.5 274.4h1M112.7 270.8h1M117.5 273.8h1M125.7 273.4h1M93.3 276h1M105.2 266.4h1M97.8 269h1M93.8 269.3h1M92.3 275.2h1M88.4 292.1h1M101.7 265h1M105.5 261.4h1M86.8 269h1M106.3 263.9h1M92 266.5h1M84.5 258.2h1M71.1 277h1M108.9 258.9h1M106 264.5h1M95.2 268.2h1M95.7 273.3h1M86.3 277.2h1M107 276.7h1M98 268h1M105.9 271.7h1M103.5 278.1h1M85.9 280h1M85 283h1M101.6 260.5h1M82 277.7h1M102.5 269.9h1M111.4 276.1h1M87.7 281.2h1M105.4 263.1h1M100.7 272.6h1M105.3 268.4h1M90.2 262.1h1M96.5 258.7h1M103.5 265.9h1M118.9 263.1h1M107.6 267.7h1M106 271.5h1M83.1 262.7h1M105.8 277.6h1M93.1 273.7h1M102.7 283h1M105.2 278h1M110.1 266h1M106 266.7h1M101.9 268.6h1M100.3 273.3h1M116.1 271.5h1M91.9 276.9h1M101.5 273.3h1M113.5 260.6h1M96.1 262.9h1M108.7 266.1h1M110.9 271.8h1M123.2 271.1h1M112.2 266h1M83.2 277.2h1M103.5 282.1h1M101.4 262h1M109.4 268.8h1M105.1 272h1M122 271h1M113.6 273.3h1M86.3 269.1h1M95.1 278.7h1M78 276.5h1M117.8 262.4h1M95.9 260.5h1M97.6 268h1M83.2 276h1M95.9 275.2h1M103.1 264.9h1M93.8 266.4h1M96.2 275h1M92 269.6h1M121.1 266.5h1M96.2 282.8h1M85.5 281.7h1M92.5 268h1M93.2 263.8h1M97.1 267.7h1M96.9 273.4h1M88.3 279h1M96.1 268.9h1M102.7 268.4h1M86.5 285.3h1M119.2 261.9h1M118.4 270.9h1M78.3 272.7h1M94.1 269.4h1M108.7 264.3h1M111.7 261.2h1M117.1 262.1h1M80.7 283.2h1M88.6 280.9h1M91.7 266.8h1M104.1 267.1h1M89.9 284.1h1M106.9 282.4h1M102.5 264.8h1M103.2 256h1M83.9 270.2h1M101.6 272.3h1M99.5 269.7h1M99.1 289.1h1M114.9 273.7h1M94.5 266.2h1M113.6 262h1M96.4 285.9h1M115.9 259.3h1M116.4 263.4h1M89.1 268.1h1M103.5 271.6h1M103 270.4h1M90.8 280.7h1M107.6 267.1h1M104.7 264.2h1M91.9 279.5h1M100.3 268.8h1M110.3 271.9h1M96.5 265.5h1M90.6 267.4h1M121.5 280.7h1M88.7 271.4h1M102.1 264.1h1M113.1 271.4h1M109 270.2h1M80.6 277.4h1M98.5 279h1M99 272.3h1M95.5 262.4h1M106.3 266.5h1M103.8 260.4h1M100.3 264.8h1M101.4 263.1h1M111.2 267.4h1M112.7 262.8h1M76.9 264.4h1M121.8 255.9h1M94.1 270.7h1M110.2 273h1M84.6 281.3h1M94.8 271.1h1M86.4 272h1M115.4 279h1M110 267.2h1M100.3 268.9h1M98.5 269.7h1M105.9 273.2h1M87 259.9h1M92.8 267.5h1M94.8 281.5h1M110.8 273h1M99.8 266.1h1M86.3 271.6h1M104.3 269.3h1M106.6 269.7h1M116.2 268.3h1M95.6 275.4h1M106.9 276.1h1M122.4 261.6h1M101.8 288.8h1M98.1 276.6h1M104.4 262.2h1M96.7 277.3h1M102.8 278.4h1M92.4 261.3h1M90.7 267.2h1M110.6 269.6h1M97.7 275.8h1M90.4 275.6h1M98.3 274.2h1M99.7 273.1h1M105.3 274.9h1M110 265.3h1M120.8 269.5h1M90.5 285.8h1M100.2 279.8h1M81.2 276.6h1M104.8 276.9h1M110.4 284.8h1M91.3 264.3h1M90 271.1h1M90.7 277.2h1M85.4 278.9h1M106.6 266.6h1M119 257.8h1M89.3 278.5h1M117.5 264.4h1M100.3 275.6h1M85 273.6h1M108.4 276.8h1M111.6 280.4h1M104.5 269.9h1M97.7 272.7h1M117.2 262.5h1M98.4 276.5h1M105 261.6h1M107.2 269.2h1M88.2 265h1M81 279h1M79.2 267.6h1M96.1 273.2h1M103.9 269.8h1M79.5 271h1M95.3 284.4h1M118.5 273.6h1M77.9 265.8h1M107.6 279.4h1M104.8 273.7h1M107.8 266.1h1M82 267.2h1M104.6 273.7h1M84.9 274.9h1M116.3 274.6h1M91.4 276.5h1M102.5 264.4h1M90.9 272h1M101.6 271.5h1M82.8 273.5h1M102.9 270h1M106.3 268.9h1M100.5 273.8h1M119 272.8h1M102.9 266.5h1M110.4 276.3h1M103.9 264.1h1M116.8 253.4h1M90.5 264.4h1M93.4 258.5h1M99.4 278.5h1M106.3 268.3h1M107.6 286.6h1M106.4 283.2h1M101 289.9h1M104.1 286.9h1M118 276.8h1M119.6 281.8h1M122.3 278.2h1M120.9 277.1h1M118.8 279h1M106.9 284.8h1M113.2 284.1h1M119.9 281.5h1M121.8 276.6h1M109.9 282.8h1M110.6 285.7h1M108.2 281h1M123.2 273.3h1M115.8 277.4h1M109.7 281.4h1M108.8 287h1M113.1 275.1h1M102.2 290.6h1M110.9 281.8h1M108 282.5h1M108.5 283.4h1M114.2 280.3h1M117 281.6h1M134.8 269.1h1M113.7 281h1M116.1 275.6h1M108.3 286.5h1M100.5 287.2h1M120.4 275.5h1M126.6 272.7h1M106.8 287h1M112.7 282h1M123.2 280.3h1M113.5 280.7h1M95.8 291.1h1M120.8 278h1M111.3 280.8h1M117.6 277.4h1M107.3 287.1h1M118 275.6h1M121 277.9h1M104.6 279.1h1M117.8 281.4h1M109.7 285.8h1M110.3 284.8h1M106.3 284.7h1M108.4 280.6h1M108.1 284h1M121.7 277h1M108.8 278h1M103.7 283.9h1M122.9 275.9h1M116.9 279.1h1M122 280.3h1M112.5 281.4h1M115.5 274.4h1M114 284.2h1M108.3 288.5h1M113.6 280.5h1M117.4 285.9h1M112.1 277.6h1M121 280.9h1M102 290.4h1M115.4 280.3h1M105.9 282.1h1M110.6 281.6h1M118.9 283.5h1M115.9 284.7h1M108.2 283.8h1M121.4 282.6h1M113.2 282.2h1M120.9 279.1h1M120.8 274.2h1M109.2 280.2h1M109.1 291.6h1M113.3 280h1M118.1 276.4h1M116.6 281.6h1M106.1 287.7h1M103.2 291.3h1M107.3 286.2h1M106.2 284.6h1M115.9 275.7h1M111.9 277.9h1M119.9 278.2h1M114 283.5h1M123.7 271.9h1M117.3 287.4h1M119.2 282h1M109.7 281.7h1M113.5 274.5h1M122.1 278.3h1M118.7 277.7h1M123.9 278.2h1M109.4 284.1h1M116.8 279.5h1M126.4 275.6h1M114.7 279.3h1M112.6 282.4h1M111.2 281.2h1M110.2 284h1M116.2 283.3h1M123 274.9h1M115.5 277.4h1M114.4 283.1h1M106.2 281.7h1M105 285.2h1M130.5 271.7h1M110.2 283.2h1M114.8 281.7h1M111.4 285.3h1M113.4 278.5h1M109.3 281.1h1M114.8 281.8h1M123.7 275.4h1M108.6 284.9h1M116.1 277.5h1M110.9 278.3h1M119.3 279.6h1M108.3 283.5h1M116.2 279.6h1M105.8 284.3h1M98.8 286h1M105.4 288.9h1M109.5 290h1M105.7 286.6h1M113.2 286.3h1M118.4 273h1M106.3 287.8h1M116.6 280.1h1M113.8 280.2h1M107.9 284h1M107.2 286.4h1M116 279.6h1M115 277.3h1M111.1 283.6h1M109.4 278h1M112.5 280.7h1M107.2 292.3h1M112.5 279h1M117.5 284h1M124.6 273.2h1M101.1 281.9h1M105.5 282.8h1M115.1 283.6h1M110.1 285.8h1M110.2 283.1h1M111 278.2h1M112 284.3h1M111.2 279.1h1M115.6 278.9h1M102 288.6h1M117 279.4h1M95.3 287.3h1M126.7 277.5h1M120.9 280h1M107.6 282h1M118.6 274.9h1M113.8 284.9h1M117.2 281.6h1M119.8 280.7h1M114.6 278.7h1M113.9 282.8h1M115.3 275.6h1M110.7 280.5h1M110.1 282.4h1M106.3 285h1M100 287.9h1M122.7 272.8h1M118.4 278h1M103.2 286.8h1M114.7 278h1M114.6 280.7h1M96.7 288.5h1M107.6 285.2h1M113.4 283.5h1M124.5 273.6h1M118.3 273.1h1M119.6 272.7h1M117.5 283.6h1M119.5 276.4h1M105.8 287.5h1M117.8 279.5h1M118.6 279h1M104.9 287.3h1M115.6 281.5h1M123.9 275.5h1M126 272.7h1M124.5 278h1M110.1 287.1h1M114.1 284.2h1M111.3 286.1h1M120.8 274.8h1M109 287.4h1M106.2 286h1M102.1 288.1h1M113.6 278.9h1M116.2 279.4h1M107.7 281.6h1M108.2 284.7h1M111.7 281.6h1M121.4 273.9h1M106.2 290.3h1M112.5 280.6h1M112.6 277.1h1M115.7 279.5h1M122.2 276.5h1M116.3 273.6h1M115 279.9h1M121.6 272.4h1M124.4 281.7h1M115.2 279.8h1M115.6 281.4h1M104.8 285.5h1M112.6 278.1h1M108.2 284.9h1M105.9 286.6h1M115.3 288.7h1M100.5 286.9h1M105.4 282.1h1M109.6 283.2h1M116.2 280.9h1M110.6 281.9h1M114.5 277.4h1M123.1 273.2h1M115.9 273.3h1M106.1 287.5h1M103 291.9h1M106.3 284.2h1M105.3 282.4h1M100.3 290.8h1M101.4 288.7h1M102.3 290.2h1M110.6 286.8h1M123.7 277.1h1M127.4 278.8h1M105.6 285.3h1M109.1 282.5h1M102.3 285.5h1M102.8 290.4h1M113.1 283.4h1M115.3 285.2h1M110.3 287.7h1M115.6 277.1h1M106.4 277h1M121.4 279.5h1" stroke="#ff0000" stroke-width="1" fill="none" opacity="0.8"/>
<path d="M65.4 312.8h1M92.7 300.2h1M90.2 294h1M66.2 315.5h1M97.3 296.8h1M73.8 305.4h1M97.2 288.7h1M82.9 298.7h1M92.1 288.8h1M96.4 297h1M91.1 292.2h1M102.5 293.5h1M65.2 312.3h1M89.2 295.2h1M87.2 296.2h1M78.9 301.1h1M65.6 313.1h1M100.7 293.7h1M73.3 315.7h1M85.6 297.4h1M105.2 286.4h1M92 291.4h1M77.6 303h1M79.8 310.6h1M99.5 295.9h1M98.1 296.4h1M79.8 311.2h1M99.7 288h1M71.7 305h1M95.4 299.5h1M101.2 286.5h1M100.9 287.1h1M72.1 306.7h1M76 315.5h1M76.8 303.1h1M68.2 318.5h1M75 302.5h1M78.5 302.4h1M95.9 287.2h1M99.2 295.1h1M69.2 317.3h1M73.7 316.4h1M94.7 290.7h1M76.8 312.9h1M98.8 286.8h1M99.7 295.1h1M68.7 317h1M80.8 298.9h1M88.6 304.4h1M99.9 295.3h1M73.4 315.7h1M85.8 306.6h1M101.1 286.3h1M97 297.8h1M72.1 317.3h1M94.9 298.5h1M93.1 291.5h1M80.2 310.6h1M93.7 290.5h1M75.5 300.2h1M84.2 307.5h1M82.5 308.5h1M63.8 312.3h1M94.8 290.9h1M65.4 315.2h1M84.6 297.1h1M99.1 286.7h1M82.2 308.9h1M97.3 296.6h1M75.3 304.8h1M82.4 298.2h1M85.3 307.9h1M78.8 313.2h1M71.9 306.5h1M63.7 314.2h1M90.5 292.1h1M67.3 308.6h1M66.3 316.2h1M63.7 315.1h1M83.5 297.9h1M67.1 318.1h1M77.5 315.3h1M70.2 317.2h1M100.4 286.3h1M76.5 313.8h1M100.5 296.1h1M71.1 306.7h1M69.4 318.6h1M67.2 318.1h1M68 319.2h1M70.2 317.7h1M99.6 285.3h1M80.7 312h1M89.4 304.4h1M67.7 308.9h1M103.4 285.7h1M87.1 304.8h1M89.8 302.9h1M80.7 312.5h1M102.2 285.6h1M71.1 317h1M84.3 297.6h1M88.3 306.2h1M101.2 295.6h1M91 294h1M95.2 290.7h1M74.9 314.4h1M79.4 302h1M72.7 304.9h1M66.3 316.6h1M77.4 313.2h1M88.9 293.8h1M99 286.6h1M75.5 304.6h1M98.5 288h1M63.8 314.8h1M68.7 306.6h1M89.2 304.2h1M89.2 293.5h1M74.3 315.4h1M69.5 318.4h1M99.2 296.2h1M101.7 293.5h1M85 295.9h1M88.9 303.4h1M100.5 293.7h1M92.7 300h1M93.6 299.5h1M99.4 286.3h1M72.4 304.1h1M80.6 298.9h1M77.1 302.6h1M95 288h1M73.7 315.5h1M64.9 314.5h1M97.7 296.1h1M101.1 284h1M76.5 303.9h1M76.4 302.3h1M85.1 297.7h1M69.5 308.3h1M82.1 298.9h1M66 314.8h1M73.8 318.8h1M65.5 312.4h1M71.9 317h1M72.1 316.7h1M65.6 314.8h1M94.9 289.2h1M75.1 303.8h1M94.9 300.5h1M69.7 307.8h1M87.2 305.8h1M94.7 288.7h1M96.1 299.7h1M99.8 295.7h1M87.3 304.3h1M99.2 287.5h1M95.1 290.8h1M76.9 303.7h1M99.5 297.6h1M87.7 293.8h1M99.3 288.2h1M87.6 294.9h1M82.5 309.1h1M85.8 295.7h1M97.3 299.4h1M93 291.4h1M93.2 302.9h1M103.6 287.2h1M91.2 302.1h1M73.5 304.3h1M104.1 294.1h1M83.7 298.8h1M68.2 316.7h1M101.7 294.9h1M97.7 296.7h1M68.5 319.1h1M94.4 301.4h1M90.4 302.3h1M89 295.1h1M78.9 313.4h1M87.4 294.3h1M92.2 300.5h1M68.6 318.7h1M66.9 310.1h1M102.5 292.5h1M100.6 294.1h1M95.3 288h1M94 300.3h1M100.1 295.9h1M82.8 308.8h1M87.5 308.2h1M93.3 291.2h1M89.8 293.9h1M87.5 304.3h1M73.5 315.5h1M83.3 299.2h1M74.1 303.1h1M91.1 293.7h1M91.2 293.8h1M86.2 296.1h1M98.6 295.7h1M105.5 288.2h1M87 305.7h1M70.7 304.7h1M72.6 305.4h1M71.4 306.6h1M79.9 300.9h1M91.9 293.3h1M103.7 286.4h1M99.3 296.4h1M84.4 298.4h1M64.6 310.6h1M99.2 294.8h1M69.9 318.1h1M94.8 291.5h1M103.8 291.7h1M88.8 293.5h1M70.6 317.9h1M96.8 290h1M64.6 316.6h1M78.5 300.8h1M94.8 299.8h1M69.1 317.1h1M82.8 299h1M82.5 308.4h1M89.2 304.9h1M94.8 287.7h1M89.4 303.6h1M74.6 305h1M66.1 309.3h1M80 300.9h1M64.6 314.5h1M103.7 292.8h1M108.6 285.5h1M81.1 309.9h1M94.2 300.8h1M66.8 310.2h1M93.3 299.9h1M98.3 286.9h1M81.7 298.4h1M100.5 286.5h1M73.2 317.5h1M73.8 305.3h1M90 292.3h1M67.7 309.8h1M77.4 314.5h1M66.6 315.9h1M78.2 301.4h1M92.3 292.1h1M67.3 316.5h1M73.2 306.2h1M104 293.4h1M69.2 318.3h1M98.1 288.2h1M89.9 292.1h1M97.5 289.3h1M99.4 286.4h1M94.5 289.7h1M94.2 299h1M76.1 315.3h1M72.7 316.3h1M85.5 296h1M104.8 292h1M98.4 287.7h1M85.2 295h1M69.3 320.1h1M105.4 289.6h1M97.4 287.2h1M102.8 292.8h1M67.2 308.7h1M80.9 311.6h1M84.3 307.6h1M83.8 308.3h1M70.3 317.3h1M91.1 301.4h1M90.5 303.2h1M95.3 299.5h1M81.8 309.9h1M79.3 312.2h1M92.5 289.4h1M103.1 286.5h1M73.9 303.9h1M95 298.9h1M78.7 311.3h1M74.8 304h1M86.6 305.1h1M70.9 306.8h1M75.6 301.4h1M101.5 293.5h1M79 301.6h1M69 307.7h1M63.6 311.3h1M103.7 287.1h1M98.8 286.6h1M94.9 299.8h1M82.9 308.3h1M64.9 309.8h1M75.8 314.8h1M106.2 291.6h1M86.8 305.2h1M90.8 303.1h1M101.4 293.6h1M97.1 287.8h1M67.7 308.8h1M81.2 298.4h1M97.6 288.7h1M80.9 299.5h1M75.9 314.9h1M97.4 289.3h1M102.5 286.4h1M94.5 298.6h1M91.4 301.3h1M65.6 314.4h1M67.4 310.2h1M65.9 314.2h1M89.1 303.7h1M68.1 308.4h1M84.9 308.1h1M95.4 298.5h1M89.7 293.8h1M87.6 306.8h1M75.2 303.7h1M76.9 302.7h1M74.9 315h1M75.3 315.4h1M90.7 291.9h1M87.3 295.5h1M92.4 291.8h1M96 300h1M94.1 290.8h1M65.3 317h1M79.4 311.3h1M78.6 312.7h1M77.6 302.5h1M92.6 291.3h1M98.4 295.5h1M83.9 308.6h1M91.3 302.8h1M70.4 304.6h1M99.5 286.9h1M72.5 316.7h1M92.6 300.7h1M83.7 295.1h1M77.5 303h1M94.6 290.7h1M72.2 316.4h1M89 303h1M93.9 300.6h1M106.3 289.9h1M87.4 296h1M94.5 299.2h1M91.7 288.1h1M91.3 302.3h1M83.6 297.8h1M71 305h1M79.7 300.6h1M98.5 296.7h1M88 305.9h1M104.8 285.6h1M77.5 302.5h1M86.1 306h1M93.5 301.9h1M93.6 300h1M80.6 310.1h1M93.8 291.8h1M67.1 308.5h1M83 309.3h1M69.8 306h1M89.6 294.7h1M66.4 315.7h1M95 289.7h1M97.1 289.8h1M65.6 310.9h1M90.6 293.2h1M98.5 286.1h1M83 309.5h1M91.8 303.1h1M71.9 317.6h1M94.6 291.2h1M74.3 305.3h1M91 292.4h1M91.6 291h1M85.5 296.5h1M86.9 295.8h1M103 293.9h1M66.2 316.2h1M68.3 318h1M85.4 295.6h1M64 311.4h1M90.1 293.5h1M66.7 308.2h1M91.7 303.3h1M78.2 312h1M104.6 287h1M103.1 293.5h1M66.3 310.8h1M68.7 317.6h1M82.3 309.9h1M104.9 286.7h1M85.9 307.3h1M84.5 297.6h1M90 293.9h1M102.9 292h1M83.7 309.4h1M73.9 317.9h1M78.7 301.7h1M87.9 307.6h1M104.4 287.7h1M77.7 314.1h1M74.7 316.6h1M87.7 305h1M96.4 299.1h1M92.4 291.9h1M73.5 316.1h1M87.3 296.3h1M83.1 297.6h1M85.2 310.6h1M92.2 301.8h1M72.9 306h1M102.2 293.4h1M66 315.4h1M76.1 315.8h1M69.7 308h1M77 302.9h1M69.7 318.1h1M85.9 293.9h1M86.6 296.8h1M89.6 303h1M98.1 298.5h1M71.7 318.7h1M101.1 293.2h1M81.6 300.3h1M72.4 317.9h1M75.3 314.2h1M66 311.8h1M76.6 302.1h1M87.4 305.9h1M76.2 314.1h1M95.4 299.3h1M76.1 315h1M101.2 295.6h1M76.1 314.1h1M94.2 290.1h1M66.1 317.7h1M80.4 300.8h1M100.6 285.4h1M78.9 301.4h1M96.8 288h1M68.1 307.2h1M76.6 315.1h1M102.6 293.5h1M98.2 297h1M102.1 294.6h1M65.4 309.8h1M99.1 287h1M79.1 301.4h1M94 290.4h1M78.1 301.7h1M87.7 296h1M72.2 316.4h1M68.7 317.7h1M83.5 309.7h1M78.7 302.4h1M72.1 306.4h1M72.9 317.5h1M74 303.4h1M72.5 317h1M102 283.8h1M88.5 295.5h1M90.7 302.9h1M94.6 301.1h1M94.3 301.2h1M72.4 317.9h1M89.2 303.3h1M79.5 299.6h1M84.3 306.8h1M103.2 286.8h1M104.1 286.4h1M98.2 296.9h1M78.7 311.3h1M93.2 299.6h1M80.9 298.2h1M64.5 314.6h1M84.2 307.7h1M99.4 295.7h1M93 300.8h1M65 317.9h1M72.3 316.5h1M73.7 315.9h1M69.9 318h1M91.1 292.9h1M102.9 285.5h1M90.4 291.5h1M78.1 302.3h1M87.5 295.7h1M77.8 313h1M77.7 313.3h1M65.9 308.6h1M93.8 300.3h1M71.2 304.2h1M103 286.1h1M70.7 306.3h1M74.1 305.2h1M65.1 312.1h1M75.6 302.5h1M64.6 309.6h1M73 316.9h1M87.4 294.2h1M80.9 311.2h1M100.7 295.1h1M68 317.4h1M76.8 301.5h1M79.2 300.8h1M100.5 285.1h1M64.7 309.3h1M97.8 288.9h1M90.7 293.8h1M89.1 304.2h1M86.6 308.6h1M83.8 298.7h1M98.6 286.1h1M84.4 298.4h1M90.1 291.6h1M85.5 306.1h1M100 296.2h1M66.8 315.4h1M86.9 305.6h1M80.5 310.1h1M103.2 286.7h1M73.3 306h1M83 298.4h1M102.4 292.3h1M93.4 291.5h1M93.6 299.9h1M94.6 300.9h1M82.1 300.1h1M102.5 285.7h1M72.3 305.5h1M97.5 296.1h1M64.5 310.6h1M92.4 302h1M85.7 307.5h1M73 306.1h1M67.8 308.9h1M74.4 315.6h1M105.8 288.6h1M80 300.9h1M78 300.8h1M96 300.8h1M65.6 310.8h1M86.5 295.1h1M63.8 312.3h1M88.3 295h1M88.4 304.9h1M86 306.4h1M73.5 304.8h1M98 287.1h1M97.9 296.9h1M84.9 297.3h1M90.6 291.5h1M103.3 286.1h1M90.6 301.8h1M94.2 299h1M101.6 286.6h1M90.4 291.9h1M71.5 306.4h1M83.5 308.7h1M66.6 315.4h1M84.8 307.1h1M102.2 286.3h1M90.1 302.3h1M99.4 285.6h1M73.1 305.4h1M69 309.1h1M69.6 307.9h1M88.2 303.7h1M82 297.2h1M105.1 288.9h1M78.4 302.6h1M69.8 318.6h1M67.3 310.2h1M70 317.4h1M94.3 290.8h1M80 301.6h1M72.8 316.9h1M104.4 287.1h1M93.4 300.4h1M95.6 289.9h1M67.7 317.4h1M79.5 299.5h1M84.3 309.2h1M104.2 286.6h1M78.9 301.3h1M88.7 304.1h1M76.4 300.1h1M84.1 308.9h1M89.3 302.8h1M94.2 301.2h1M97 297.6h1M85.4 297.1h1M98.5 295.9h1M89.1 292.4h1M86.9 295.3h1M76.3 314.4h1M75.9 315.9h1M67.9 309.8h1M82.6 309.5h1M104.1 287.7h1M74.1 304.2h1M86.1 296.8h1M75.3 315.1h1M83.7 299h1M80 310.5h1M83.3 308.9h1M97.1 296.5h1M73 315.9h1M65.5 312.9h1M83.2 311h1M96.8 287.8h1M83.3 307.6h1M104.9 289.6h1M81.9 309.4h1M82.9 297.3h1M104.8 287.6h1M102.7 286.7h1M86.2 306.1h1M70.2 307.1h1M101.3 293.5h1M88.2 294.3h1M104.9 287.4h1M104.1 286.7h1M72.6 316.6h1M82.7 299.5h1M79.1 313.6h1M88.6 304.3h1M90.5 294.1h1M69.9 317.4h1M65.9 312.6h1M82 299.5h1M70.3 318.4h1M76.5 303.2h1M90.7 302h1M104.7 288.4h1M92.9 291.6h1M85.7 295.5h1M91.4 293.6h1M71.2 319.2h1M105.1 288.6h1M88.6 304.8h1M83.5 308.5h1M86.6 305.3h1M93.3 291.7h1M83.5 307.9h1M86.1 305.3h1M103 293.7h1M82.7 298.1h1M78.4 312h1M87.4 295.9h1M66.3 314.8h1M75 305h1M67.4 309h1M70.9 307.6h1M88.1 292.8h1M106.2 288.4h1M93.2 301.1h1M66.6 315.7h1M105.5 289.3h1M83.4 298.7h1M71 318h1M74.2 315h1M93.3 301.1h1M101.7 294.2h1M99.6 288.1h1M83.3 309h1M80.5 309.8h1M86.6 305.8h1M76.7 303.7h1M98.1 296.8h1M80.7 310.3h1M84.8 297.5h1M69.7 317.3h1M104.3 291.8h1M83 309.7h1M86.2 296.8h1M88.4 303.4h1M101.8 286.5h1M65.5 312.3h1M81.4 310.5h1M74.5 315.8h1M88.6 307.3h1M86.1 296.8h1M77.8 300.6h1M70 318.1h1M65.9 308.5h1M81.4 311.1h1M69.9 317.5h1M101.1 294.1h1M92.1 301.5h1M92.1 290.3h1M84.8 297.3h1M97.4 288.9h1M97.8 287.4h1M88.9 294.6h1M100.2 296.2h1M81.2 310.1h1M86.3 305.6h1M88.8 303.8h1M89.3 304.4h1M74.6 316.5h1M75.6 315.9h1M89.6 293.3h1M67.5 308.2h1M78.1 300.5h1M99.3 288h1M75.3 314.1h1M106.1 288.8h1M67.3 316.5h1M69.6 308.4h1M71.7 317h1M78.1 302.2h1M78.8 312.7h1M95.6 299.4h1M93.9 289.7h1M89.2 294.7h1M85 296.6h1M80.8 300h1M76.4 316.9h1M67 309.7h1M64.5 312.8h1M78.9 312.5h1M68 308.4h1M73.1 318.2h1M91.1 301.7h1M96.4 288.5h1M98.6 285.6h1M89.1 293.8h1M77.3 312.6h1M92.6 301.1h1M65.2 315.8h1M73 316.6h1M99.3 296.9h1M104.7 286.4h1M65.3 314.7h1M85.6 295.4h1M66.6 316.5h1M77.1 303.5h1M71.4 317.5h1M80 312.4h1M91.4 292.2h1M86.4 295.7h1M104.2 291.2h1M68.7 318.6h1M77.6 313.6h1M95.4 298h1M98.4 286.3h1M93.1 302.8h1M83.3 309.1h1M64.3 312.6h1M81.1 297.5h1M97.7 289.4h1M101.5 293.6h1M105.2 292.6h1M68 317.9h1M89.9 293.1h1M85.6 306.3h1M100.3 286.9h1M90.5 302.7h1M71.9 317.4h1M83.6 298.1h1M87.4 296.1h1M100.9 295.1h1M90.6 303.2h1M71.4 307.2h1M94.7 300.6h1M75 304.3h1M102.9 286.2h1M71.2 307.1h1M84.4 308.5h1M69.5 307.5h1M71.6 318.9h1M83.4 296.2h1M90.5 292.8h1M92.9 300.9h1M86.4 309.2h1M91.2 293.4h1M81.2 309.8h1M105.8 291.5h1M106.1 288h1M64.4 316.1h1M67.3 310.3h1M77 303.7h1M102.7 293.2h1M77.5 313.8h1M93.7 291.5h1M68.6 308.8h1M63.6 314.7h1M91.3 301.5h1M80.7 300.9h1M103.3 292.9h1M106.1 294.1h1M66.3 311.4h1M84.3 306.8h1M67.4 310.2h1M73.7 315.6h1M92.2 301.7h1M86.3 305.5h1M86.2 297h1M87.8 295.9h1M99 288h1M81 300.8h1M102.5 286.1h1M104 286h1M102.3 286.7h1M102.1 287h1M93 289.4h1M93.7 300.5h1M101.2 295h1M85.8 296.2h1M99.2 294.9h1M79.2 301.3h1M89.1 305.1h1M92.6 291.7h1M67 317.3h1M90.4 292.7h1M93.2 291.1h1M76 301.5h1M65.4 309.9h1M88.3 294.3h1M95.3 290.2h1M82.7 299.4h1M75.5 316.9h1M93 301.9h1M68.5 307.3h1M84.5 297.5h1M89.7 294.9h1M65 314.8h1M101.2 285.7h1M75.1 303.9h1M95 301.1h1M84.5 295.1h1M70.1 319.4h1M97.2 296.4h1M73 317.8h1M82 297.1h1M83.7 308.6h1M103.9 286.9h1M65.3 313.4h1M92.1 300.8h1M73.8 303.8h1M83.5 297.8h1M72.3 306.4h1M95.9 299.9h1M66.7 316.8h1M77 314h1M91.4 303.2h1M104 288.1h1M79.2 311.1h1M81.8 309.2h1M93.8 299.4h1M93 292.5h1M99.5 287.1h1M98.7 288.6h1M73.3 316.8h1M86.9 306.8h1M70.9 317.1h1M99.5 296h1M101.1 294.6h1M72.1 306.2h1M65.8 313.9h1M76.1 316.4h1M73.8 318h1M84.2 298h1M103 286.8h1M92.5 291.9h1M82.4 297.7h1M105.2 286.4h1M66.6 309.9h1M100.2 286.8h1M90.5 291.6h1M104 292h1M96.9 297.8h1M75.6 303.8h1M100.1 298.1h1M85.5 306.8h1M103.4 286.3h1M106.2 290.9h1M102.7 292.8h1M105 290.3h1M101.2 294.8h1M102.3 286.9h1M98.3 296.2h1M93.2 299.6h1M83.2 308.6h1M105.2 286.5h1M68.6 308.9h1M99.1 286.7h1M98.8 295.2h1M97.2 289.2h1M76.2 315.3h1M73 317h1M97.9 288.8h1M95.2 298.8h1M84.6 308.3h1M70.5 317.2h1M77 315.3h1M78.5 299.9h1M102.4 295.3h1M104.9 292.1h1M84.6 306.8h1M99.9 287.3h1M98.5 288h1M86.9 304.8h1M105.3 290.4h1M68 316.7h1M83.8 298.9h1M70.5 319.9h1M104.2 291.2h1M86.3 305.6h1M104.9 289.4h1M87.9 305.3h1M91.7 302.1h1M66.4 308.8h1M107 288.9h1M91 304.1h1M75.7 313.8h1M101.3 294.7h1M84.2 307.6h1M98.4 287.8h1M84.4 296.1h1M73.1 317.1h1M88.3 304.4h1M86.2 294.9h1M104.1 290.6h1M104.5 289.8h1M87.9 306.6h1M90.9 293.3h1M103.4 285.8h1M77.5 312.8h1M96.8 299.7h1M105.2 291h1M79 301.9h1M67.1 316.8h1M74 316h1M96.1 300.5h1M98.4 296.1h1M104.4 291h1M87.6 306.2h1M91.9 290.9h1M102.9 286.9h1M81.6 310.5h1M100.1 294.2h1M91.6 302.4h1M82.7 299h1M73.4 316.9h1M74.4 315.8h1M89.1 305.8h1M67 309.7h1M72.5 316.8h1M92.5 292.1h1M103.5 291.6h1M68.7 307.3h1M83.8 309.5h1M78.3 311.7h1M103.8 290.9h1M71.6 316.9h1M71.1 305.8h1M72.8 318.2h1M97.1 286h1M91.7 303h1M70.2 317.4h1M86.8 296.1h1M94.3 289.1h1M66.3 311.5h1M98.7 295.2h1M70.6 307.2h1M88.3 295.1h1M103.9 291.9h1M83.6 296.8h1M75.6 302.8h1M102.3 292.3h1M105.2 289.5h1M93.8 291.4h1M98.4 296.7h1M66 315.1h1M96.5 297.9h1M95.1 298.6h1M72.3 306.7h1M72.4 305.7h1M69 317.3h1M98.2 299.3h1M90.9 294h1M80.1 314.1h1M76 303.7h1M72.5 305.8h1M70.1 317.3h1M96 288.8h1M95.8 297.8h1M92.4 300.5h1M91.7 292.5h1M89.9 302.3h1M92.4 301.5h1M82.1 298.7h1M65.2 310.9h1M81.2 309.8h1M102.2 294h1M94.8 288.9h1M102.4 286.1h1M65.5 311h1M83 310.4h1M79.7 301h1M91.7 292.4h1M100.8 286.3h1M67.2 317.5h1M96.9 297.5h1M104.4 291.5h1M67.6 317.6h1M82.9 309.2h1M63.2 312.3h1M94.7 290.3h1M96.3 299.2h1M66 311.2h1M103.6 294.4h1M75.5 315.3h1M72.4 306h1M84.7 298.3h1M65 315.7h1M67.5 309.6h1M102.3 286.6h1M104.2 288.4h1M79 300.3h1M101.3 285.2h1M67.9 309.7h1M65.7 312h1M73.7 305h1M70.6 306.7h1M65 311.5h1M83.9 297.5h1M77.8 302.1h1M88.6 304.6h1M66 316h1M74 315.9h1M103.8 286.5h1M92.7 300.5h1M95.7 289.5h1M77.7 315.9h1M69.7 308.3h1M67.2 309.7h1M98 298h1M102 286.6h1M67.3 309.8h1M74.9 314.3h1M100.8 293.8h1M80 313.1h1M66 315h1M72.7 306.2h1M69.6 317.8h1M69.1 317.4h1M85.6 297.2h1M92.3 300.6h1M89.7 294.7h1M83.5 309.9h1M88.1 294.3h1M69.7 317.8h1M69.4 317.8h1M99.6 287.4h1M77.9 312.2h1M90.6 292.8h1M69.4 317.9h1M66.9 309.7h1M84.5 307.6h1M102.5 295.3h1M88.1 304.7h1M79.7 300.2h1M75.4 304.2h1M72.1 305.4h1M95.6 288.8h1M73.2 304h1M65.3 310.4h1M94.8 288.6h1M86.9 307.3h1M67.1 308.6h1M95.9 297.6h1M92.4 290.7h1M68.9 318.2h1M103.1 292h1M94.5 299.9h1M94.3 298.8h1M104.9 287.9h1M84 308.4h1M72.9 315.9h1M83.9 309.4h1M96.6 287.9h1M94.8 298.8h1M66.9 318.2h1M100.3 287.6h1M65.5 312.3h1M101.9 286.3h1M73.3 317.2h1" stroke="#ff0000" stroke-width="1" fill="none"/>
<rect x="38.2" y="316.4" width="33" height="21" fill="#fff" opacity="0.88"/>
<g stroke="#3a3a3a" stroke-width="1.15" fill="none">
<rect x="35.7" y="201.1" width="141.1" height="138.3"/>
<path d="M105.6 202.1V338.2M35.7 283.2H174.3"/>
<path d="M35.7 339.4v3M58.7 339.4v3M94.6 339.4v3M130.5 339.4v3M176.8 339.4v3M166.4 339.4v3M35.7 201.1h-3M35.7 339.4h-3M35.7 208.6h-3M35.7 240.5h-3M35.7 272.3h-3M35.7 304.1h-3M35.7 337.5h-3"/>
</g>
<path d="M117.3 198.9v1.2M123.8 198.9v1.2" stroke="#3a3a3a" stroke-width="0.7" fill="none" opacity="0.7"/>
<path d="M39.9 339.4v1.6M44.4 339.4v1.6M47.9 339.4v1.6M50.7 339.4v1.6M53.1 339.4v1.6M55.2 339.4v1.6M57.1 339.4v1.6M69.5 339.4v1.6M75.8 339.4v1.6M80.3 339.4v1.6M83.8 339.4v1.6M86.6 339.4v1.6M89 339.4v1.6M91.1 339.4v1.6M93 339.4v1.6M105.4 339.4v1.6M111.7 339.4v1.6M116.2 339.4v1.6M119.7 339.4v1.6M122.5 339.4v1.6M124.9 339.4v1.6M127 339.4v1.6M128.9 339.4v1.6M141.3 339.4v1.6M147.6 339.4v1.6M152.1 339.4v1.6M155.6 339.4v1.6M158.4 339.4v1.6M160.8 339.4v1.6M162.9 339.4v1.6M164.8 339.4v1.6M35.7 339h-1.6M35.7 337.4h-1.6M35.7 326.3h-1.6M35.7 320.7h-1.6M35.7 316.8h-1.6M35.7 313.7h-1.6M35.7 311.2h-1.6M35.7 309h-1.6M35.7 307.2h-1.6M35.7 305.6h-1.6M35.7 294.5h-1.6M35.7 288.9h-1.6M35.7 285h-1.6M35.7 281.9h-1.6M35.7 279.4h-1.6M35.7 277.2h-1.6M35.7 275.4h-1.6M35.7 273.8h-1.6M35.7 262.7h-1.6M35.7 257.1h-1.6M35.7 253.2h-1.6M35.7 250.1h-1.6M35.7 247.6h-1.6M35.7 245.4h-1.6M35.7 243.6h-1.6M35.7 242h-1.6M35.7 230.9h-1.6M35.7 225.3h-1.6M35.7 221.4h-1.6M35.7 218.3h-1.6M35.7 215.8h-1.6M35.7 213.6h-1.6M35.7 211.8h-1.6M35.7 210.2h-1.6" stroke="#3a3a3a" stroke-width="0.6" fill="none" opacity="0.75"/>
<g font-family="'Liberation Sans', Arial, Helvetica, sans-serif" font-size="8.3" fill="#262626" stroke="#262626" stroke-width="0.14">
<text x="39" y="211.2">Q2-1</text><text x="39" y="220.7">4.20%</text>
<text x="147.1" y="211.2">Q2-2</text><text x="147.7" y="220.7">6.14%</text>
<text x="39" y="324.3">Q2-3</text><text x="39" y="334.7">88.32%</text>
<text x="147.1" y="324.3">Q2-4</text><text x="147.1" y="334.7">1.34%</text>
<text x="30.8" y="353.7">10</text><text x="41" y="350" font-size="7.1">3.4</text>
<text x="88.5" y="353.7">10</text><text x="98.1" y="350" font-size="7.1">5</text>
<text x="124.7" y="353.7">10</text><text x="134.7" y="350" font-size="7.1">6</text>
<text x="165.6" y="353.7">10</text><text x="176" y="350" font-size="7.1">7.2</text>
<text transform="translate(28.8 216.2) rotate(-90)">10</text><text transform="translate(24.6 205.9) rotate(-90)" font-size="7.1">7.2</text>
<text transform="translate(28.8 246.8) rotate(-90)">10</text><text transform="translate(24.6 236.5) rotate(-90)" font-size="7.1">6</text>
<text transform="translate(28.8 279) rotate(-90)">10</text><text transform="translate(24.6 268.7) rotate(-90)" font-size="7.1">5</text>
<text transform="translate(28.8 310.9) rotate(-90)">10</text><text transform="translate(24.6 300.6) rotate(-90)" font-size="7.1">4</text>
<text transform="translate(28.8 344) rotate(-90)">10</text><text transform="translate(24.6 333.7) rotate(-90)" font-size="7.1">2.9</text>
<text x="92" y="365.8" textLength="26.5" lengthAdjust="spacingAndGlyphs">FITC-A</text>
<text transform="translate(14.4 270.7) rotate(-90)" text-anchor="middle" font-size="8.35">PE-Texas Red-A</text>
</g>
<text x="92.8" y="194.3" textLength="18.1" lengthAdjust="spacing" font-family="'Liberation Serif', 'Times New Roman', serif" font-weight="bold" font-size="8.6" fill="#262626">SOR</text>
<path d="M287.9 288.4L288.5 287.7L288.7 286.9L288.6 286L288.2 285.3L287.5 284.7L286.7 284.5L285.8 284.6L285.1 285L251 312.8L250.2 313.8L249.9 315L250 316.2L250.6 317.2L251.6 318L252.8 318.3L254 318.2L255 317.6Z" fill="#ff0000"/>
<path d="M248.8 319.3h1M278.5 284.7h1M247.7 319.1h1M263.5 313.5h1M282.2 282.7h1M271 304.4h1M265.2 299.9h1M257.7 315.8h1M263.6 298.5h1M284.1 285.3h1M264.1 298.8h1M295.5 288.2h1M289.5 289h1M245.7 306.5h1M244.6 316.1h1M262.1 316.2h1M248.1 319.1h1M248.3 313.2h1M269.9 310.8h1M274.2 291.3h1M260.6 304.7h1M249 316.9h1M274.2 290.5h1M272.9 301.9h1M261.1 302.7h1M275.9 291.9h1M254.5 307.6h1M251.9 318.5h1M282.9 296.9h1M272.3 303.8h1M248.9 304h1M270.9 290.2h1M250.2 313.3h1M255.8 306.8h1M287.1 292.9h1M257.5 320.6h1M278.7 280.7h1M269.5 293.2h1M286.9 282.9h1M261.2 313.6h1M263.1 297.4h1M265.7 300.8h1M274.6 306.2h1M289.1 284.7h1M262.9 321h1M263.6 310.7h1M260.7 314.4h1M245.2 312.8h1M255.6 308h1M277.8 299.2h1M252.5 308.6h1M278.2 300.5h1M250 319h1M266.9 297.4h1M273.8 288.8h1M265.6 309h1M280.9 300.8h1M285.4 291.3h1M249.3 315.1h1M292.2 284.4h1M273.3 292.3h1M250 313.5h1M250.2 310.2h1M289.7 290.9h1M270.6 304.2h1M279.4 285.5h1M260.3 319.8h1M266 311.2h1M267.1 293.9h1M249.2 317.2h1M289.2 294h1M266.3 309.5h1M258.3 305.2h1M269.3 291.4h1M262.5 315.3h1M280.8 286h1M263.5 311.7h1M250.8 312.4h1M268.7 291.2h1M256.9 304.4h1M286 291.9h1M250.2 304.8h1M273.7 305.5h1M270.4 294.9h1M272.2 304h1M252.6 310.7h1M268.1 297.7h1M254 307.6h1M260.6 321.1h1M285.2 291.5h1M264.5 311h1M259.8 318.3h1M283.6 283h1M287.1 296.6h1M278.1 286.5h1M274.1 289.5h1M276.6 289.2h1M260.2 304.7h1M248.7 317.2h1M274.9 291h1M263.6 310.8h1M280 297.3h1M278.1 290.6h1M272.4 302.5h1M271.1 292.8h1M249.9 309.8h1M272.6 312.7h1M259.9 301.4h1M267.7 308.1h1M287.4 292.9h1M287.7 292.1h1M258 317h1M250.1 316.6h1M251.6 300.1h1M272.2 293.5h1M282.2 283.4h1M260.2 314h1M268.8 307.5h1M261.3 301.8h1M272 289.4h1M284.8 297.3h1M250.4 309h1M258 307h1M269.4 309.3h1M281.7 283.7h1M276.8 291.4h1M269.4 291.9h1M282.3 284h1M289.9 280.9h1M282.6 295.6h1M257.6 303.7h1M252.4 320.3h1M279.9 284.7h1M285.6 298h1M269.6 292.4h1M255.9 307.8h1M267.4 310.8h1M282.5 287h1M270 304.3h1M255.3 318.8h1M262.9 311h1M248.5 317.2h1M285 294.4h1M266.2 299.7h1M256.9 303h1M245.9 313.6h1M261.1 303.6h1M259.2 304.3h1M274.4 301.2h1M265.3 294.6h1M284.7 293.8h1M249.6 319.1h1M270.5 291.9h1M272.8 307.4h1M273.4 293.3h1M285.3 292h1M255.4 320.8h1M278 284h1M288.5 295.6h1M261.8 301h1M249.7 311h1M265.3 298.5h1M267.2 286.1h1M261.9 312.1h1M261.5 312.8h1M268.7 308.9h1M285.1 291.9h1M289.8 285.3h1M274.3 292.8h1M271 296.4h1M273 292.9h1M265.3 300h1M249.7 318h1M252.6 307.4h1M290 291h1M255 306.1h1M283.6 295.7h1M266.9 288.5h1M249.5 314.9h1M268.8 297.8h1M247.6 318.4h1M267.5 309h1M256.5 322.3h1M278.3 302.3h1M271.1 294.8h1M266.9 309.1h1M288.3 294.2h1M286.5 291.7h1M267.8 307.7h1M264.1 296.8h1M257.2 305.5h1M281.7 300h1M255.3 304.7h1M268.1 311.4h1M280.7 282.8h1M263.4 317h1M279.7 285.8h1M269.3 296.3h1M254.6 303.7h1M276.7 288.1h1M269.7 295.2h1M276.9 290.5h1M262.7 301h1M266.8 310.3h1M256 323.1h1M254.5 308.2h1M247.1 319.7h1M261.7 298.6h1M250.4 308.1h1M253.5 319.7h1M272.7 305.3h1M250.5 309h1M257.4 319.7h1M273.3 293.9h1M259.7 316.9h1M289.5 282.3h1M285.9 290.5h1M251.9 307.8h1M272 310.9h1M286.1 282.7h1M277.5 290.3h1M273.7 304.5h1M253.5 310.1h1M276.7 291.6h1M250.2 313.2h1M276.3 289h1M253.1 321.4h1M280.7 280.6h1M279.1 299.9h1M262.5 300.8h1M256.9 323.8h1M250.3 317.1h1M258.6 316.3h1M260.8 315.5h1M277.9 300.2h1M272.6 287.4h1M275.7 299.9h1M264.7 298.5h1M283.5 294.2h1M279.4 288h1M259.4 320.2h1M249.4 315.1h1M281.9 294.3h1M275.7 300.8h1M269.8 305.8h1M276.2 289.9h1M256.2 317.1h1M287.1 294.1h1M249.5 317.5h1M276 302.5h1M272.9 293.5h1M266.5 299.3h1M287.2 283.8h1M254.6 300.2h1M264 316.9h1M257.2 319.1h1M294.3 290.1h1M278.9 279.6h1M272.5 291.4h1M266.2 310.1h1M268.7 306.5h1M283.7 296.2h1M271.8 304.9h1M263.6 301.1h1M275.3 288.6h1M252.1 321.1h1M259 314.9h1M270.3 308.6h1M284.7 292.5h1M283.4 283.3h1M258.2 306.3h1M244.8 313.7h1M253.3 308.5h1M273 293.9h1M254.3 308.5h1M258.3 306.7h1M281.4 295.6h1M254.3 309.2h1M268.4 298.2h1M261.6 302.1h1M284.1 284.6h1M276.1 290.4h1M265.8 310.9h1M290 292h1M280.1 303.9h1M260.4 313.3h1M257.1 300.6h1M277.1 288.5h1M282.2 284.5h1M255.5 318.9h1M267.8 293.8h1M255.5 304.7h1M274.2 292.1h1M249.5 310.8h1M249.5 315h1M289.6 284.6h1M271.6 293.8h1M250.6 317.5h1M279.2 300.2h1M282.5 293.3h1M291 263.1h1M284.4 258.1h1M279.1 258.8h1M272.2 265.6h1M275.7 261.7h1M285.8 251.9h1M268.1 270.9h1M297.1 260.3h1M285.8 267.1h1M277.1 262.4h1M280.3 257.8h1M296.6 259.4h1M288.8 249.4h1M292.4 261.5h1M307.5 250.6h1M314.9 249.8h1M271.6 258.8h1M299.9 258.7h1M277.2 255h1M274 266.6h1M286 268.4h1M301.8 257.6h1M286.4 261.5h1M281 253.3h1M306.5 255.2h1M295.7 256.9h1M285.2 249.4h1M310.2 250.1h1M297.1 259.9h1M283.9 265.9h1M281.5 271.4h1M285.3 259.1h1M290.3 252.2h1M302.1 256.4h1M302.5 260.2h1M291.7 257h1M277.9 264.1h1M301.7 255.3h1M291.2 256.3h1M278.7 263.7h1M277.9 266.3h1M291.5 253.1h1M298.5 266.5h1M302.2 260.8h1M277.8 265.9h1M315 257h1M267.5 260h1M294.7 270h1M304.4 249.6h1M301.3 251.7h1M279.4 261.8h1M296.7 254.3h1M305.6 256.4h1M300.4 259.4h1M276.9 256.8h1M309.6 252.4h1M275.3 273.8h1M293.5 265.1h1M281.6 271.7h1M285.2 259.9h1M284.5 255.2h1M296.6 258.6h1M275.9 264.4h1M293.8 260.8h1M303.1 249.1h1M289.5 254.7h1M294.6 252.3h1M291.6 248.6h1M284.3 268.7h1M284.5 257h1M293.8 266.6h1M294.2 253.5h1M311.4 246h1M307.1 248.2h1M283.4 257.4h1M285.6 261.7h1M280 266.8h1M262.7 265.9h1M306.1 256.2h1M294.7 253.2h1M269.9 272h1M289.6 257.4h1M316 247h1M297.3 260.9h1M296.5 258.3h1M290.7 253.6h1M281.5 262.3h1M276 261.8h1M281.9 265.4h1M291.7 257.7h1M290.4 267.2h1M299.6 259.5h1M307.6 244.9h1M296 253.6h1M299.8 255h1M286.2 259.8h1M278.5 271.3h1M314 247h1M301 261.5h1M305.2 257h1M284.9 257.2h1M272.8 270.2h1M306.4 255.4h1M266.4 269.2h1M288.5 259.2h1M281.9 254.9h1M296.4 266.2h1M300.5 257.3h1M298.7 252.4h1M267.8 271h1M302.5 256.4h1M270.7 271.7h1M298.8 257.5h1M284.3 258h1M275.3 258.3h1M283.9 259.8h1M273 258.5h1M290.2 258.7h1M304.4 262.8h1M298.2 251.8h1M295 268.6h1M303.1 254.4h1M296.3 256.8h1M317.2 254.7h1M296.9 257.7h1M285 264.4h1M287.1 259.7h1M282.6 264h1M286.1 257.5h1M289.7 261.6h1M297.2 253h1M299.4 255.5h1M290.7 257.7h1M295.2 256.6h1M283.2 264.8h1M282.2 256.2h1M261.6 267.5h1M286.2 273.6h1M287.3 267.3h1M316.3 239.2h1M275.8 266.6h1M285.9 245.3h1M286 258.5h1M271.9 264.1h1M294.4 260.1h1M291.2 260.1h1M273.8 265h1M262.4 265.4h1M289.7 258.9h1M274.5 265.9h1M300.1 260.8h1M288.4 262.6h1M297.5 258.8h1M287.5 261.2h1M309.6 255.6h1M300.7 261.3h1M308.7 253.7h1M297 270.5h1M282.2 271.2h1M276.5 269.7h1M284.5 259.7h1M295.6 261.4h1M286 267.5h1M317.6 244.9h1M290.6 260.3h1M293.7 250.8h1M292.6 260.1h1M278.4 268.6h1M304 256.4h1M295.2 248h1M298.2 248.2h1M280.5 263h1M289.6 254.4h1M293.7 266.3h1M302.3 248.1h1M275.1 264.2h1M299.3 256.8h1M305.9 253.6h1M286.3 260.2h1M283.3 265.4h1M307.4 255.3h1M296.8 264.2h1M301.5 246.9h1M302.1 260.4h1M304.3 255.5h1M287.8 255.6h1M265.4 263.6h1M295.9 250.2h1M285.3 265.8h1M299.9 259.1h1M286.1 262.6h1M314.1 261.3h1M287.6 256.9h1M304.7 264h1M305 255.5h1M289.5 256h1M294.2 254.5h1M292.8 262.2h1M279.8 260h1M306.8 248.1h1M285 272.4h1M274.8 268.6h1M285.1 259.3h1M292.7 257.5h1M293.2 260.9h1M288.4 262.2h1M282.4 251.2h1M268.3 271.8h1M297.1 252.2h1M314.1 257.9h1M282.6 261h1M269.4 263.5h1M301.2 258.6h1M291.1 263.8h1M242.7 269.5h1M283.6 264.4h1M273.2 261.7h1M281.1 272.2h1M311.3 242.4h1M306.9 264.7h1M291.7 264.8h1M293.1 262.4h1M309.9 252.5h1M278.8 263.6h1M297.2 248.3h1M280.4 252.3h1M297.7 246.4h1M292.7 254.3h1M282.8 261.7h1M308 264.2h1M298.2 257h1M314 253.4h1M285.9 258h1M295.3 263.3h1M285.5 266.3h1M307.2 257h1M281.8 259.5h1M291.2 258.3h1M308.7 257.9h1M301.2 264.9h1M296.2 260.5h1M296 260.9h1M296.7 260.2h1M299 255.7h1M286.8 257h1M267.3 264.6h1M308.3 256.1h1M281 267.7h1M309.9 243.2h1M295.4 258.9h1M326.8 240.8h1M304.8 252.6h1M295.7 255.2h1M299.1 247h1M276 266.6h1M291.4 252.8h1M286.3 258.1h1M292 259.6h1M268.8 270.7h1M267.1 271.7h1M297.4 250h1M289.9 254h1M287.8 265.1h1M289.4 257.5h1M287.2 270.7h1M285.5 260.9h1M295.1 245.9h1M290.7 265.8h1M298.6 254.3h1M284.1 265.3h1M270 267h1M285.5 267.2h1M289 258.8h1M282.6 275.5h1M287 262.1h1M285.8 262.9h1M301.8 255.2h1M296.7 245.4h1M305.8 259.6h1M283.4 266h1M297.5 264.2h1M304.8 250.7h1M292.9 258.3h1M292.4 265.2h1M280.2 258.3h1M300 254h1M290.2 251.5h1M301 250.9h1M289 259.5h1M316.3 253.4h1M294.9 269.8h1M277.9 267.9h1M291.1 252.8h1M297 258.2h1M307.4 257.4h1M285 260.4h1M283.3 258.3h1M282.4 247.1h1M288.4 266h1M267.2 270.9h1M301.5 261.6h1M306.9 257.1h1M280.4 258.5h1M279.8 264.5h1M292.2 267.2h1M279 256.7h1M296.7 247.1h1M282.3 258.5h1M300.1 261.4h1M278.9 270.4h1M272.3 259.7h1M275.2 271.6h1M275.9 268.8h1M298.9 264.6h1M297.1 246.2h1M294.1 262h1M293.9 259.3h1M267.2 273.4h1M305.3 257.6h1M279.2 270.9h1M304 248h1M320.4 251.6h1M289 252.1h1M300.9 262.9h1M297.4 254.3h1M274.2 260.9h1M280.5 270.5h1M282.8 261.6h1M294.1 261.7h1M303.1 261.1h1M293.4 261.2h1M307.6 263.7h1M286 263.4h1M278.1 273.8h1M290.3 256.3h1M287.6 252.5h1M272.2 259.4h1M304.5 258.5h1M280.6 264.8h1M279.1 253.3h1M291.3 252.3h1M277.7 261.5h1M302.6 267.2h1M296.4 259.5h1M292.1 246.6h1M290.4 257.3h1M286.7 264h1M282.4 262.7h1M290.1 246.3h1M304.5 246.8h1M302.9 262.2h1M297.9 263.4h1M302.8 254.7h1M304.1 246.9h1M278.6 269h1M292.2 262.5h1M310.7 266.5h1M285.4 265.6h1M285.1 258.7h1M297.5 253.7h1M292.1 267.8h1M303.9 250h1M289.8 265.2h1M301.5 263.9h1M319.5 245.5h1M308.3 262.5h1M277.3 268.3h1M281.7 268.9h1M280.6 265.2h1M290.9 259h1M276.7 268.5h1M300 261.5h1M312.6 254.5h1M314.6 264.6h1M283.4 264h1M284.5 250.9h1M287.6 259.4h1M279.9 257.8h1M311.1 251.8h1M283.7 262.7h1M278 262.5h1M294.3 254.5h1M294.1 254.8h1M310.6 256.6h1M309 252.3h1M292.4 267.8h1M265.4 264h1M299.2 256.5h1M301.2 257.2h1M314.5 257.5h1M272.5 264.4h1M276 259.8h1M308 249.8h1M307.6 246.4h1M307.6 257.4h1M289.1 254.9h1M305.9 253.5h1M290.3 275.4h1M276.4 263.8h1M292.4 264.7h1M292.5 259.7h1M301.6 259h1M305.2 258.8h1M268.7 262.2h1M295.3 260.9h1M296.1 256.2h1M275 261.7h1M288.6 262.5h1M294 265.3h1M295.7 256.9h1M281.2 263.7h1M285.7 266.6h1M277.9 263.8h1M292 251.3h1M284.9 255.9h1M280.8 254.1h1M295.1 249.2h1M288.3 258.9h1M276.9 264.6h1M305.7 259.4h1M299.2 248.7h1M296.9 259.9h1M277.6 261h1M299.8 245.6h1M283.6 261.2h1M272.3 275.2h1M291.2 264.9h1M311.7 252.6h1M282.7 254.4h1M297.8 258.1h1M306.3 253.5h1M294.8 263.7h1M286.3 258.8h1M290.5 258.6h1M295.5 252.4h1M286.7 266.3h1M293.2 254.5h1M299.7 263.8h1M287.7 264.3h1M299.8 258.7h1M297.3 257.7h1M286.1 258.8h1M293.3 271.9h1M292.1 259.2h1M289.8 262h1M291 267h1M279.7 265.6h1M290.9 256.6h1M299.8 258.3h1M298.8 258.9h1M280 259.6h1M298.5 260.6h1M295.3 251.2h1M279.5 261.5h1M295.6 254.7h1M287.5 257h1M283.9 254.6h1M294.7 261.8h1M285.9 254.3h1M267.5 273.7h1M292.2 256.4h1M276.9 261.2h1M289.3 258.8h1M300.5 261.7h1M290.5 266.4h1M287.8 266.8h1M292.2 258.8h1M295.7 256h1M280.1 260.1h1M286.6 269.7h1M295.5 255.3h1M306.3 246.8h1M290.2 258.3h1M300.3 255.2h1M280.6 258.3h1M287.4 251.1h1M288.2 251.3h1M273 257.1h1M292.8 265.6h1M285.4 252.6h1M262.6 272.1h1M287.6 255.2h1M294.8 260.8h1M292.2 256.1h1M294.9 260.5h1M278.4 265.5h1M278 252.7h1M290.4 266h1M278.4 258h1M284.7 260.9h1M305.8 259.2h1M277.6 256.4h1M286.2 260.5h1M311.5 253.7h1M287.9 258h1M280.6 267.6h1M289.5 249.4h1M295.1 265.7h1M292.7 261h1M275.9 276.5h1M292.9 256.4h1M292.8 253.1h1M311.2 245h1M294.8 248h1M285.7 260.8h1M295 259.7h1M296.1 251.1h1M290.3 262.4h1M289.6 257.1h1M306.8 254.9h1M297.7 260.1h1M296.7 256.5h1M278 257.2h1M293.9 252h1M269.8 266.2h1M310 266.2h1M286 260.4h1M297.4 253.6h1M305.5 249.3h1M280.8 266.7h1M302 248h1M293.2 255.5h1M308 262.7h1M285.9 256h1M280.5 253h1M305.2 251h1M297.8 260.2h1M288.4 248.7h1M276.9 258.1h1M309.8 261.5h1M285.7 254.2h1M288.3 257h1M283.4 259.7h1M295.3 267h1M301.5 264h1M290.5 257.6h1M286.7 248.9h1M285.1 259.8h1M307.7 251.2h1M310.6 254.2h1M289.1 261.6h1M279.7 257h1M296 261.1h1M269.9 256.1h1M293.2 254.9h1M293.8 255.7h1M293.6 258.5h1M310.5 255.2h1M312.2 251.8h1M299.5 264.1h1M287.5 260h1M306.8 263.8h1M299.6 242.6h1M278.7 264.5h1M286.8 269.9h1M288.3 258.8h1M273.2 265.8h1M280.6 266.8h1M309.1 250.6h1M279.6 268.8h1M301.2 256.1h1M283.3 263.6h1M301.6 252.3h1M296.4 260.5h1M301 253.7h1M282.3 279.6h1M292.7 252.4h1M285.2 260.7h1M299 253h1M300.1 257.2h1M291.8 253.9h1M290.4 259.8h1M291.2 258.1h1M294.3 257.5h1M287.2 264h1M288.8 265.5h1M283.5 259.1h1M278.8 260.4h1M303.1 254.6h1M274.6 258.4h1M305.5 252.5h1M298.3 253.3h1M270.6 260.9h1M270.1 263.3h1M292.2 259.7h1M282.1 269.1h1M294.6 262.1h1M304.1 260h1M293.8 253.3h1M296.5 277.9h1M285.4 249.4h1M309.5 256.8h1M285.4 254.9h1M309.9 249.6h1M312.8 247h1M290.3 267h1M292.8 252.2h1M310.7 251.6h1M282.9 258.6h1M298.4 261.5h1M303.4 254.2h1M282 266.8h1M295.3 255.4h1M291.9 254.5h1M286.6 262h1M307.9 249.5h1M289.4 256.6h1M317 248.8h1M300.4 256.8h1M288.3 271.5h1M292.7 252h1M283.3 261h1M301.5 256.2h1M298.8 254.5h1M280.1 266.4h1M288.2 261.9h1M296.2 253.9h1M295.8 265.9h1M282 264.4h1M303.4 252.5h1M310.1 260.4h1M278 270.6h1M305.5 245.7h1M265.2 256.4h1M289.7 257.6h1M283.2 258.1h1M287.5 265.3h1M291 250.9h1M279.1 263.9h1M290.4 258.5h1M309.2 249h1M297.8 259.4h1M309.3 255.5h1M301.1 254.8h1M276.1 271h1M312.2 253.6h1M306.3 267.8h1M300.9 260.7h1M286.7 257.9h1M283.8 255.2h1M279 260.1h1M291.8 263.5h1M292.8 257.7h1M291.9 264.1h1M292.2 264.6h1M268.5 262.1h1M284.2 263.8h1M283.7 263.7h1M294.5 256.3h1M284.8 255.9h1M286.5 259.9h1M293.1 259.4h1M285.7 258.9h1M288.6 260.2h1M304.1 255.3h1M294.2 270.4h1M283.4 266.9h1M298.2 256.5h1M302.2 260.1h1M294.5 246.3h1M272.4 252.6h1M298.1 245.6h1M293.7 262.6h1M291.8 255.2h1M291.5 255.7h1M295.6 254.4h1M299.9 264h1M305.4 247h1M290.6 248.5h1M288.8 254.3h1M294 244.6h1M290.9 260h1M301.8 249.8h1M290.5 250.8h1M301.3 259.4h1M286.1 260.8h1M303.6 257.4h1M296.4 250.7h1M284.6 267.3h1M286.7 258h1M293.4 260.2h1M275.4 259.1h1M280.7 265.2h1M296.9 256.5h1M296.3 254.4h1M307.4 255.8h1M278.4 265.7h1M287.9 260.7h1M270.5 269.3h1M309.6 249h1M278.6 267.6h1M288.5 258.7h1M312.7 251.3h1M308 255.2h1M284.3 267.5h1M319.5 257.9h1M297.7 260h1M279.2 260.2h1M294.9 259.1h1M295.2 248.2h1M300.2 260.8h1M269.3 269.9h1M314.4 258.7h1M271.8 260.1h1M291.8 266.5h1M305.9 250.4h1M295 255.7h1M285.7 246h1M282.1 254.8h1M296 252.4h1M305.9 252.1h1M281.6 251.8h1M296.7 258.8h1M289.9 266.6h1M285.1 256.2h1M269.2 268.1h1M295.6 261.1h1M300.8 252.9h1M288.8 256.8h1M305.9 261.9h1M291.4 253h1M300.7 243.3h1M294 259.9h1M290.7 267.7h1M285.8 259.4h1M292.9 258.8h1M293.2 253.4h1M281.4 257.3h1M290.3 259.8h1M274.3 256.7h1M281.2 274h1M300.1 259.3h1M295.3 256h1M300.5 252.7h1M293.5 258.3h1M293.5 255.1h1M314.1 257h1M287.5 273.7h1M293.2 253h1M305.9 244.9h1M313.5 249.6h1M300.2 261.9h1M292 262.4h1M279.2 259.9h1M289.6 258h1M290.6 251.1h1M288.5 250h1M294.5 250h1M298.1 257.1h1M284.4 255.1h1M281 259.7h1M288 258.6h1M295.8 255.6h1M309.2 251.8h1M276.2 270.6h1M302.2 252h1M290 263.6h1M303.3 254h1M310 246.4h1M295.2 252.5h1M283.1 272.9h1M288.4 263.8h1M297.6 262.6h1M287.4 258.7h1M292.2 262.7h1M281.3 257.3h1M290 262h1M283.8 259.1h1M302.6 260h1M296.2 261.2h1M299.9 257h1M273.2 263.6h1M290.8 271.2h1M283.4 261.6h1M289.8 268h1M281.8 261.8h1M287.4 271.1h1M309.1 254.3h1M286.1 254.1h1M275.1 257h1M290.4 265.4h1M311.9 240.8h1M299.9 258.1h1M281.5 262.8h1M287.8 257.6h1M290.5 258.8h1M291.1 257.1h1M271.4 266.1h1M279.6 258.8h1M289.2 258.7h1M274 268.7h1M291.5 265h1M294.3 264.1h1M299.9 256.3h1M301.3 251.1h1M288.8 258.4h1M294.5 259.8h1M297.8 254.2h1M303.4 257.8h1M292 258.3h1M284.4 268.8h1M274.8 267.7h1M296 275.5h1M292.5 271.2h1M277.8 275.6h1M284.7 262.8h1M282.8 273.8h1M286.3 281.3h1M283.3 270h1M291.9 260.5h1M283.9 271.8h1M284.1 273.4h1M289.8 267.9h1M287.2 259.5h1M298.9 268.4h1M272.5 275.5h1M287 267.4h1M262.8 281.3h1M283.7 281.3h1M267.2 274.4h1M267.6 277.4h1M279 269.9h1M269.4 273.9h1M277 269.4h1M254.2 285.5h1M294.6 266h1M254.3 284.4h1M273.3 271.5h1M299.1 269.4h1M264 265.9h1M299.9 272h1M295.8 281.6h1M279.8 271.2h1M277.8 275.4h1M279.3 277.8h1M283.5 269.7h1M288.6 259.6h1M295 269h1M260.1 281.7h1M287.9 261.2h1M285.7 263.6h1M268.2 275.2h1M291.2 272.5h1M289.6 265.2h1M291.6 273.3h1M281.3 275.7h1M290.5 274.4h1M292.9 265.5h1M271.9 265.1h1M275.8 273h1M272.2 263.5h1M296.4 279.9h1M281.3 272.1h1M276.1 283.8h1M269 269.8h1M265.8 268.3h1M286.1 281.7h1M291 274.1h1M294.2 268.3h1M272.9 283.5h1M272.3 280h1M272.6 280.7h1M271.9 274.4h1M266.4 281h1M298.7 274.8h1M287 275.9h1M275.8 274.7h1M254.1 279.4h1M295.4 270h1M287 263.7h1M282.7 274.5h1M288.1 270.2h1M272.7 271.3h1M288 273h1M273 266.7h1M284.3 267.1h1M277.9 268.7h1M268.4 281.4h1M269.7 276.5h1M291.1 266.5h1M289.5 263.9h1M279.7 276.7h1M274.1 277.5h1M277.9 281.4h1M286.9 280.1h1M264.6 270.3h1M290.7 269.9h1M271.2 271.7h1M267.1 269.5h1M280.3 272.7h1M300.4 266.5h1M274.8 280.3h1M277.5 276.9h1M267.7 273.2h1M281 263.8h1M281.8 265.8h1M281.5 276.3h1M277.6 277.8h1M283.3 267.3h1M288.1 267.3h1M275 270.5h1M277.5 271.5h1M271.8 266.8h1M274.1 272.2h1M290.7 260.7h1M269 271.9h1M282.1 271.6h1M292.8 275.5h1M274.5 271.7h1M284.9 265.5h1M287.7 269h1M266.4 281.7h1M293.2 279.9h1M270 276.6h1M278.8 261.9h1M265.8 282.7h1M263.9 279.3h1M277.2 271.9h1M295.6 262.2h1M308.4 270.5h1M308.9 264.2h1M294.1 266.6h1M294.5 275.3h1M287.8 267.6h1M289 275.9h1M276.4 272.1h1M274.8 269.8h1M284.9 270.3h1M287.3 277.7h1M273 269.9h1M267 271.3h1M272.6 273.2h1M314.5 258h1M273.9 276.6h1M297.1 272.6h1M293.7 269.6h1M291.2 266.3h1M272.9 268.7h1M303 270.2h1M283.4 270h1M274.1 272.8h1M273.9 276.8h1M282.2 283.7h1M305.6 275.6h1M265.6 270.4h1M275.8 282.5h1M283.5 282.2h1M288 278.9h1M269.9 277.1h1M268.2 267.8h1M274.2 271.7h1M288.4 273h1M279.3 274.5h1M277.5 270.4h1M282.6 271.4h1M284.4 281.8h1M288.7 262.7h1M271.5 269.1h1M282.2 278.2h1M274.1 275.4h1M287.6 267.7h1M288.8 268.3h1M278.5 274.7h1M292.9 268.4h1M275.8 262.5h1M295.8 269.8h1M275 267.6h1M275.6 271.9h1M266.6 282.7h1M268.9 271.3h1M275.9 271.1h1M256.4 271.4h1M277.9 263h1M287.9 263.6h1M285.7 268.6h1M281.7 268.3h1M286.3 265.2h1M275.7 278h1M277 278.8h1M288.1 265.1h1M280.7 278.5h1M291.4 270.6h1M272.8 263.2h1M286.3 264.8h1M291.8 261.4h1M279.7 272.3h1M296.7 260.6h1M298.3 272.2h1M256.2 283.3h1M308.9 265.4h1M264.6 280.4h1M304.7 257.7h1M271.4 275.4h1M260 284.5h1M264.9 270.8h1M284.4 266.7h1M268 268.3h1M276.3 280.3h1M294.7 273.4h1M273.3 287.6h1M285.2 268.6h1M294.2 269h1M261.8 280.6h1M266.1 267.9h1M284 275.8h1M281.3 275h1M285 276.4h1M260.9 283.7h1M271.7 275h1M285.2 272.2h1M287.5 272.7h1M295.9 275h1M278.7 281h1M274 277.9h1M270.5 275.6h1M272.2 280h1M259.7 280.8h1M299.2 269.7h1M277.4 279.1h1M275.4 283h1M274.1 275.2h1M284.1 262.1h1M280.9 269.6h1M272.4 275.4h1M292.2 273.6h1M284.2 275.3h1M276.8 267h1M282.1 278.9h1M290.2 259h1M287.7 270h1M278.8 270.8h1M291.8 271.2h1M255.8 272.9h1M286.4 264.8h1M272.4 278.6h1M270.8 263.5h1M277.4 271.6h1M302.4 275h1M277.7 269.6h1M278.2 270.5h1M286.3 269.2h1M257.5 272.8h1M276.1 266.4h1M289.3 276.7h1M269.9 275.9h1M286.6 271.1h1M272.1 273.9h1M266.9 286.3h1M289.2 268h1M281 271.3h1M285.5 258.9h1M283.5 276.2h1M269.7 277.7h1M290.5 266.5h1M285 270.7h1M283.6 265.7h1M274.6 266.1h1M270.3 280h1M295.8 267.1h1M288.2 265.9h1M283.9 275.5h1M271.2 260.8h1M294.7 266.2h1M271.7 273.2h1M275.1 282.5h1M304.6 269.5h1M290.4 281.3h1M289.7 265.4h1M289.8 274.3h1M303.4 265.4h1M284.8 268.5h1M286.1 269.3h1M272.5 276.7h1M280.5 267.5h1M266.6 282.6h1M279.9 283.6h1M283.2 280.4h1M287.6 265.7h1M293.4 260.2h1M274.9 277.8h1M270.6 278.2h1M283.4 269.1h1M273.9 282.2h1M299.9 270.2h1M296.7 276.8h1M270.7 274.7h1M288 288.3h1M297.1 277.3h1M274.1 284.9h1M276.1 274.2h1M279.6 269.9h1M295.7 268.8h1M283 259.4h1M278.5 272.9h1M286 277h1M282.2 275h1M281.9 268.2h1M285.4 268.5h1M280.2 259.5h1M287.6 269.4h1M282.5 277.8h1M279.6 279.5h1M276.5 268.7h1M268.2 292.9h1M275.1 271.6h1M298.5 262.6h1M280.9 275.2h1M285.8 269.6h1M287.8 262.6h1M273.2 265.4h1M274.9 265.6h1M284.6 265.4h1M271 276h1M291.9 276.7h1M290.9 282.6h1M280.3 261.6h1M281.6 265.8h1M290.2 277.7h1M280 265.9h1M254.9 282h1M286.8 274h1M272.6 282h1M272.2 262h1M278.3 281.5h1M278 280.1h1M261.9 273.1h1M259.3 273h1M279.1 269.6h1M282.8 278.2h1M285.6 272.3h1M268.8 280.9h1M278.4 276h1M286.5 259.7h1M276.6 271.7h1M273.6 269.4h1M303.8 271.7h1M264.3 280h1M271.9 271.9h1M267.6 268.4h1M276 274.5h1M312.1 254.6h1M266.4 261.3h1M280.9 283.3h1M275.4 273.6h1M271.9 270.5h1M290.2 271h1M273.8 263.8h1M292.4 268.4h1M295.7 266.1h1M278.6 282.7h1M294.7 262.4h1M269.3 277.3h1M284.3 268.6h1M292.9 270.7h1M271.8 279h1M281.2 273.2h1M288.7 278h1M288.2 271.9h1M283.7 264.7h1M301.4 260.9h1M281.7 278.1h1M293.2 263.8h1M304.9 268.3h1M276.3 277.5h1M276.4 269.8h1M269.7 270.9h1M290.3 273.7h1M295.4 262.6h1M263.3 277.1h1M268.7 262.3h1M277.6 282.4h1M305.8 267.1h1M278.4 274.7h1M287.3 275.8h1M271.2 283.3h1M289.3 262.4h1M270.3 273.3h1M283.3 280.1h1M271.8 278.1h1M281.6 274.5h1M279.9 270.5h1M285.8 277h1M281.9 262.8h1M301.1 266.7h1M272 265.7h1M295.2 265h1M285.7 272.5h1M280.4 273.4h1M284.6 268.7h1M284.4 270.2h1M290.6 267.9h1M289.4 265.1h1M286.6 262.9h1M286.3 276.9h1M267.8 285.7h1M292.5 274.7h1M291.9 261.5h1M286.3 271.8h1M286.3 274.6h1M272.6 272.1h1M302.2 276.9h1M287.7 281.9h1M290 283.4h1M296.3 279.3h1M296 279.7h1M291.4 282h1M310.4 267.4h1M307.9 278h1M293.9 277.4h1M304.1 280.5h1M290.7 287.4h1M302 273.9h1M295.9 280.7h1M291.3 281.3h1M289.6 288.1h1M302.2 275.6h1M296.5 278h1M294.2 283.8h1M304.5 276.3h1M295 280.3h1M297.9 277.3h1M297.3 286.7h1M300 278.3h1M288.9 284.2h1M292.1 278.4h1M298.8 281.6h1M291.3 283h1M294.8 284.2h1M302.9 278.1h1M294.6 283h1M301.4 271.3h1M298.8 276.4h1M295.6 277.4h1M287.2 286.5h1M305.1 270.3h1M306.3 272.6h1M297.7 276.5h1M299.9 281.7h1M298.6 280.8h1M293.2 279.8h1M292.2 276.1h1M296.8 273.6h1M288.5 288.2h1M296.8 279.9h1M299.9 278h1M281.7 282.1h1M293.6 283.9h1M286.3 286h1M285.7 283.5h1M299.3 275.5h1M290.8 287.4h1M311 263.4h1M298.4 284.7h1M290.9 282.8h1M295.3 281.7h1M298.5 282.6h1M299 279.1h1M299.2 279h1M300.3 280.6h1M304.5 275.8h1M304.8 274.6h1M296.9 279h1M302.3 282.4h1M292.6 284.2h1M292.7 282.3h1M292.8 279.3h1M303.9 271.2h1M294.7 286.5h1M298.9 279.9h1M297.2 278.5h1M300.9 274.4h1M290.4 278.7h1M294.7 282h1M305.7 277.2h1M298.5 278.2h1M293 281.4h1M305.5 275.4h1M299 280.8h1M292.7 280.5h1M304.8 277.9h1M309.3 272.5h1M294 280.6h1M290.3 283.6h1M281.6 290h1M310.3 273h1M298.6 289.2h1M296.3 282.6h1M289.6 282.7h1M294.6 278.4h1M288 281h1M306.2 271.4h1M299.6 273.3h1M293.6 281.9h1M288.5 284.1h1M297.8 272.3h1M292.6 284.6h1M306.2 274.6h1M297.2 275.6h1M295.6 277.7h1M291.7 288.2h1M296.8 275.5h1M289.6 286.9h1M305.6 275.5h1M282.7 286.2h1M294 279.9h1M311.7 267.4h1M291.7 278.6h1M300.4 273.9h1M307.7 279.7h1M299 277.1h1M295.3 278.4h1M303.8 274.6h1M304.5 274.9h1M293.2 281.2h1M307.2 271.5h1M305.8 273.3h1M290.9 284h1M302.2 279h1M300.8 276.4h1M299.4 279.9h1M292.2 280.3h1M290.3 285.7h1M301.2 277.7h1M288.9 289.1h1M294.1 282.3h1M284 286.9h1M294.5 284.8h1M296.8 276.1h1M288.1 285.5h1M302.8 276.1h1M302.5 273.4h1M299.7 276.6h1M304.6 280.2h1M305.6 270.5h1M301.5 274.5h1M286.6 287h1M301.1 286.4h1M297.7 291h1M300.4 282.8h1M285.5 285.2h1M296.6 277h1M295.8 280.2h1M301.1 276.9h1M294.6 288.3h1M296 280.6h1M285.3 290.8h1M296.8 280.4h1M298.7 281.7h1M287.8 283.8h1M298 280h1M288.1 284.8h1M300.6 277.3h1M293.2 284.6h1M296.9 284.4h1M310 274.5h1M302.4 278.7h1M307.1 272.3h1M301.2 270.6h1M296.3 279h1M307.7 272.4h1M298 276.2h1M299.1 281.6h1M294.3 280.6h1M289.4 284h1M304.3 281.3h1M295.7 279.6h1M301.4 278.4h1M297.1 279.9h1M302 277h1M293.7 281.5h1M300.5 279.6h1M303.1 272.7h1M304.8 271.2h1M299.3 281h1M291.5 282.7h1M307.9 272.7h1M304.2 270.6h1M295 283.4h1M306.4 272.6h1M302 276.7h1M294.5 285.8h1M297.7 275.8h1M290 283.7h1M297.7 282.9h1M294.6 278.7h1M296.5 277h1M307.7 276.9h1M289.2 285.8h1M279 293.1h1M303.1 276h1M296.5 280.3h1M305 275.4h1M306.3 278.5h1M309 271.2h1M287.5 290.4h1M309.2 273h1M297.3 277.9h1M292.5 277.1h1M306.4 268.7h1M307.3 274.5h1M289.7 285.3h1M292.3 278.6h1M306.8 270.9h1M288 283h1M301.9 278.5h1M300.8 275h1M296.2 277.9h1M292.9 277.9h1M300.9 271.1h1M297.8 280.7h1M289.9 279.9h1M302.7 276h1M288.4 285h1M293.1 277.4h1M300.7 275.9h1M288.2 283.6h1M305.2 268.2h1M297.1 272.1h1M296.7 277.1h1M292.8 285.1h1M299 277.1h1M296.7 281.1h1M301.1 277.5h1M293.9 280.3h1M300.3 277.8h1M288.4 285.4h1M288.2 285.9h1M293.1 282.7h1M287.5 292h1M296.4 280.8h1M298.2 279.3h1M284.3 283.8h1M295 278.6h1M292.7 281.8h1M293.6 283.8h1M304.7 272.8h1M296.9 284.3h1M296 278.4h1M294.3 283.8h1M294.8 283.3h1M294.7 277.8h1M297.3 279.5h1M295.8 281h1M305.6 277.3h1M293.7 278h1M300.3 285.2h1M307.7 270.7h1M298.3 277.9h1M302.1 274.7h1M302.7 277.5h1" stroke="#ff0000" stroke-width="1" fill="none" opacity="0.8"/>
<path d="M263.7 310.3h1M271.1 296.1h1M249.1 317.1h1M285.1 283.9h1M249.2 314.9h1M275.7 291.5h1M258.5 305.4h1M258.4 314.1h1M266.6 300.5h1M251.5 312.9h1M274.6 301.7h1M288.7 289.3h1M256.3 308.5h1M273.4 300.7h1M251.5 318.1h1M287.4 290.5h1M261.3 304.8h1M276.1 292h1M286.5 284.3h1M256.7 308.3h1M289.5 286.1h1M254.2 310.9h1M278.3 288.9h1M284.6 292.8h1M267.5 306.7h1M261 304.7h1M253.2 310.7h1M260.3 305.6h1M256.6 317.2h1M263.8 309.8h1M280.8 288.4h1M263.8 310.8h1M270.1 297.7h1M259.1 304.4h1M254.4 308.1h1M259.8 305.7h1M256 317.9h1M262.9 310.4h1M265.4 301.6h1M277.7 291.7h1M261.3 312.7h1M275.8 298.7h1M281.7 286.8h1M266.1 296.7h1M287 289.7h1M265.7 309.2h1M264.3 310.1h1M259.8 304.5h1M277.8 298.2h1M271.3 296h1M280.7 294.3h1M252.2 321.2h1M249.5 313.7h1M274.9 299.3h1M265.4 308.3h1M258.8 315.9h1M278.2 298.5h1M286 291.2h1M256.3 316h1M287.7 289.9h1M271.8 305.2h1M281.4 293.9h1M255.1 308.1h1M286 290.2h1M282.1 293.8h1M257.1 307.4h1M261.1 312.7h1M263 303.6h1M261 304.7h1M275.8 301h1M278.2 296.8h1M279.2 288.7h1M274.3 294h1M255.7 316.8h1M250.4 315h1M278 287.5h1M249.8 314.5h1M253.8 318.9h1M263.9 310.3h1M283.1 285.5h1M287.8 288.2h1M269.7 305.9h1M266.6 308h1M260.6 312.5h1M255.6 308.2h1M266.3 308.1h1M287.7 287.8h1M275.6 300.6h1M249 315.5h1M273.5 293.5h1M274.9 299.7h1M279 296.9h1M258.3 307.6h1M250.5 313.6h1M276.8 299.2h1M263.5 299.9h1M281.2 287.2h1M280.9 294.5h1M283.7 283.8h1M289.5 288h1M272.8 302.5h1M283.8 286.6h1M250.5 316h1M282.4 293.4h1M265.1 309.6h1M281.7 293.8h1M250.1 313.3h1M276.5 289.2h1M259 315.5h1M271 305.4h1M279.8 295.5h1M261 314.6h1M248.2 313.8h1M255.7 316.3h1M255.7 317h1M250 313.6h1M282.8 293.1h1M280.8 296.6h1M284 284.5h1M288.1 283.8h1M274.8 294h1M273.3 303.2h1M288 284.4h1M281.3 285.8h1M275.4 293.3h1M277.5 297.6h1M250.9 312.5h1M250 317.7h1M267.4 300.1h1M249.7 317.6h1M284.5 290.8h1M256.8 316.5h1M283.3 286.2h1M284.9 291.5h1M280.9 294.7h1M281.6 293.8h1M288.4 289.4h1M276.5 298.8h1M264.5 298.1h1M262.9 312.2h1M258.6 314.9h1M285.7 289.7h1M279.3 295.5h1M252.4 311.7h1M268.9 307.2h1M278.7 299h1M250.5 312.1h1M275.9 299.7h1M261.8 311.3h1M268 299.5h1M252.2 319.3h1M265.1 299.2h1M250.8 312h1M273.6 301.3h1M252.8 310.8h1M279.6 295h1M258.4 304.8h1M275.9 291.7h1M267 300.5h1M286.2 285h1M260.3 314.5h1M256.1 316.3h1M263.5 302.8h1M272.2 295.6h1M269.3 294.2h1M289.9 286h1M259.8 314.9h1M250.6 312.7h1M255.6 306.5h1M283.2 285.8h1M250.7 313.3h1M284.2 286.2h1M263.1 310h1M277.7 298.2h1M275.7 292.9h1M262.2 304.5h1M260.7 305.5h1M268.3 299.3h1M270.6 295.4h1M261.5 302.4h1M264.1 311.1h1M272.9 293.9h1M258.8 315.2h1M276.9 291.6h1M274.6 300.6h1M255.7 309.4h1M279.5 297h1M264.7 300.9h1M268.3 305.7h1M253.8 317.6h1M257.3 315.6h1M267.3 297.6h1M273.4 294.7h1M284.9 285.8h1M272.6 302.3h1M279.4 296.5h1M258.2 315h1M249.2 314.4h1M273.5 300.9h1M271.7 302.6h1M259.1 313.4h1M251.3 317.3h1M268.8 298.9h1M273.3 292.9h1M280 297.3h1M279 290.4h1M267.2 299.7h1M272.6 295.6h1M289 289.3h1M286 291.9h1M260 313.2h1M280.9 287.1h1M261 313h1M249.8 311.2h1M279 287.8h1M252.5 318.3h1M267.8 306.8h1M256.2 306.4h1M261.9 304.1h1M266.2 306.9h1M269 296.7h1M283.7 292.6h1M279.4 297h1M273.1 301.2h1M286.3 284.6h1M266.6 307.9h1M288.1 289.2h1M281.1 294h1M290.1 286.1h1M264.2 309.8h1M289.4 286.1h1M271 305h1M271.3 303.8h1M278.1 299.3h1M251 311.2h1M263.2 311.4h1M287 288.5h1M259.1 313.1h1M252.2 312.5h1M278.5 291h1M289.2 290h1M278 291.1h1M281.2 295.2h1M286.3 284.7h1M251.7 318h1M276.1 292.7h1M253.8 318h1M288.2 285.8h1M249.2 316.2h1M266.3 309.3h1M256 308.6h1M251.9 317.9h1M287.9 288.7h1M287.7 289.2h1M288.2 286.6h1M276.2 290.7h1M277.6 290.7h1M262.6 310.8h1M266.2 307.8h1M254.6 308.4h1M283.4 292.5h1M280.4 288h1M259.9 312.8h1M249.9 315.6h1M262.9 310.4h1M250 315.3h1M285.3 292.4h1M264.2 309.5h1M278.2 288.2h1M284.4 284.5h1M257.3 308.4h1M261.4 303.5h1M264.6 309.8h1M288.3 286h1M271.6 304.4h1M272.2 295.5h1M283.9 285h1M288.3 289.2h1M276.3 291.9h1M257.4 319h1M279.1 288.7h1M256.2 316.3h1M252.3 309.7h1M278 290.8h1M260.7 301.7h1M276.4 298.7h1M286.7 289.7h1M252.8 310.7h1M278.9 298.2h1M287 285.2h1M252.9 310h1M280 298h1M275.8 299h1M283.2 291.9h1M288.7 286.8h1M251.8 311.9h1M256 307.6h1M259.5 314.1h1M272.2 301.8h1M283.5 291.6h1M272.5 295.3h1M260.2 313.2h1M282.7 286.8h1M273.3 301.3h1M282.2 295h1M283.9 285.9h1M262.7 312.2h1M276.2 298.4h1M249.8 314.7h1M280.2 289.5h1M273 295.3h1M260.5 305.5h1M260.2 304.2h1M269.1 298h1M277.9 290.4h1M256.7 307.1h1M269.7 298h1M268.9 307.6h1M262.7 303.8h1M263.6 303.1h1M274.6 294.2h1M265.6 308.8h1M271.2 303.4h1M266.1 300.3h1M285.1 291.3h1M280.2 288.6h1M253.3 310.6h1M274.3 299.8h1M267.5 306.4h1M262.9 310.3h1M285 285.3h1M264.1 310h1M274 294.5h1M257.8 307.7h1M268 305.6h1M277 289.7h1M276.4 298.6h1M279.1 286.6h1M273.6 293.7h1M284.9 291.1h1M269.7 298h1M272.8 295.1h1M258.1 315.7h1M258.8 316h1M269.6 305.7h1M268.3 296.5h1M254.4 306.8h1M251.3 318.2h1M271.2 304.3h1M268.3 306.8h1M262.3 311.9h1M249.6 314.4h1M271.1 304.5h1M270.1 297.3h1M257.4 314.7h1M259 316.2h1M262 303.9h1M258 306.7h1M263.9 309.3h1M259.5 313.7h1M260.5 301.8h1M283 292h1M261.4 312.9h1M271.6 304.8h1M265 308.4h1M282.7 294.6h1M251.4 318.6h1M270.3 296h1M252.5 311.6h1M273.9 294.1h1M260.8 305.3h1M279.6 296.7h1M254.1 310.6h1M269.7 304.1h1M272 296.2h1M257.4 307h1M288 288.6h1M273.8 294.7h1M270.5 296.7h1M258.8 315.1h1M251.3 312.7h1M255.1 317.1h1M264.8 301h1M285.8 290.1h1M250.6 313.1h1M265.8 300.6h1M279.7 295h1M260.8 303.9h1M284.2 286.2h1M278.7 296.1h1M258.3 313.9h1M276.5 298.4h1M280.1 295h1M268.3 297.2h1M266.7 306.7h1M274.6 294.1h1M266.1 308.2h1M268.9 298.1h1M283.1 294.8h1M255.6 307.8h1M287.1 289.2h1M287.5 290.7h1M254.7 308.5h1M255.8 316.1h1M252.2 317.6h1M268.8 306.2h1M269.6 305.6h1M289.6 283.9h1M250.4 313.2h1M272.5 295.4h1M269.5 297h1M281.6 295h1M262.1 311.3h1M258.5 316.1h1M272.2 302.8h1M266.1 298.4h1M271.3 303h1M256.6 316.4h1M252.7 308.9h1M273.4 301.1h1M261.2 302.7h1M263.2 303.4h1M274.5 292.2h1M285.8 285h1M259.9 313.1h1M272 303.9h1M269.6 304.9h1M251.9 320.3h1M257.5 308.2h1M256.9 306.2h1M249.7 315.7h1M270.8 303.5h1M266.8 308.3h1M270.2 307.7h1M275.1 291.5h1M266.9 298.5h1M274.1 300.8h1M256.8 316h1M276.7 303.6h1M275.4 299.9h1M283.3 287.2h1M283.7 292.9h1M280.2 295.4h1M270.3 305h1M266.3 307.7h1M249.3 316.6h1M267.6 306.5h1M266.4 307.2h1M282.3 292.9h1M261.7 312.9h1M264.5 301.5h1M260.2 313.5h1M279.1 289.2h1M255 309.2h1M252.7 319.5h1M258.5 305.5h1M267.5 305.8h1M252 312.8h1M276.4 291.8h1M256.5 316.4h1M262.5 302.3h1M256.2 317.2h1M276.7 299.1h1M282.6 292.3h1M276.3 299.1h1M268.9 306.3h1M258.9 306.7h1M289.2 286.9h1M271.4 303.8h1M272.9 294.9h1M254 309.9h1M270.4 295h1M259.5 316.2h1M265.2 309h1M262.4 310.9h1M254.5 317.3h1M250 314.6h1M257.7 317.2h1M268.6 305.7h1M250.9 317.3h1M272.2 303h1M265.9 308.7h1M272.8 303.7h1M284.9 284.3h1M254.6 309h1M268.8 298.5h1M267.2 300.1h1M270.9 304.1h1M273.3 294.8h1M286.9 284.6h1M286.6 289.6h1M278.3 297.5h1M267.9 306.5h1M250.6 317.2h1M267.4 298.7h1M255.1 317.2h1M275.6 300.5h1M248.4 312.4h1M261.6 304.3h1M251.2 319h1M278.7 289.4h1M254.9 319.2h1M290 284.7h1M282.5 287.3h1M257.5 318.1h1M256.7 308.5h1M278.9 295.9h1M258.6 314h1M274 294.4h1M275.3 292.8h1M252.2 311.5h1M272.2 294.4h1M277.4 299.9h1M286.7 284.5h1M259.7 313.3h1M288.4 286.1h1M254.1 310.5h1M271 305.4h1M253.9 309.9h1M287.4 288.8h1M266.3 298.5h1M261.5 311.7h1M258.2 305.5h1M274.1 293.2h1M259.9 313.3h1M272.1 295.6h1M274.1 291.9h1M261.6 303.7h1M270.9 296.1h1M247.9 315.9h1M278.7 289.7h1M287.8 284.9h1M269 298.9h1M255.3 317.8h1M261.3 311.8h1M270.6 296.2h1M288.5 285.7h1M276.6 292.6h1M251.4 313.1h1M288 289.3h1M257.9 315.1h1M254 309.3h1M250 316.1h1M254.1 308.9h1M288.1 289.4h1M255.2 308.8h1M267.8 307.7h1M282.8 285.6h1M272.4 295.3h1M262.1 302.1h1M283.5 294.2h1M284.3 286.3h1M287.7 289.7h1M257.5 307.1h1M258.9 307h1M266.8 299.9h1M259.1 313.5h1M260.9 305h1M283.2 292.4h1M268.7 306.8h1M282.9 287.3h1M270.8 296.6h1M275.7 291.2h1M264.7 309.1h1M271 303.2h1M253.2 318h1M268.9 298.5h1M251 318.3h1M282.6 293.3h1M275 299.9h1M281.5 293.6h1M290.5 286.9h1M270.9 296.9h1M281.3 285.5h1M289.2 287.6h1M262.5 299.5h1M253.4 307.8h1M256.9 318.8h1M276.4 298.3h1M282.9 286.7h1M276.6 299.9h1M260.6 312.9h1M281.8 288.4h1M274 291.7h1M288.8 284.3h1M254 309.4h1M274.2 300.7h1M288.4 290.2h1M259.3 313.9h1M261.2 303.5h1M250.3 317h1M278.7 290.7h1M261 311.5h1M256.3 307.4h1M271.5 295.2h1M251 317.8h1M278.6 296.7h1M254.9 309.4h1M268.2 297.9h1M281.4 286.9h1M272.3 302.5h1M257.5 316.3h1M269.8 305h1M277.4 291.8h1M265 300.9h1M272.4 295.7h1M284.4 292.5h1M264.7 301.6h1M260.5 304.6h1M281.4 295.1h1M263.6 300.8h1M263.5 311.4h1M268 305.7h1M259.3 314.3h1M269.5 305.3h1M288.6 286.2h1M280.3 295.9h1M273.9 294.4h1M277.3 291.7h1M288.1 287.6h1M273.7 293.6h1M260.3 313h1M268.3 305.5h1M288.8 285.7h1M278.6 289.7h1M251.1 320h1M259.9 312.8h1M288.6 289.8h1M268.4 306.7h1M270.4 295.5h1M282.9 286.9h1M262.9 301.4h1M269.3 306.5h1M260.3 305.7h1M286.4 291h1M270.5 303.2h1M277.3 299.6h1M249.2 314.9h1M288.9 285.1h1M250.4 315.4h1M254.4 309.9h1M266.1 308.3h1M254.4 309.5h1M255.5 318.4h1M263.2 301.9h1M250.6 313.2h1M271.1 296.4h1M280.5 287.3h1M283.2 293.9h1M287.2 289.9h1M271.6 296h1M256.4 315.7h1M278.4 289.2h1M276.3 292.4h1M275.7 291.8h1M265.8 307.2h1M283.1 286h1M279.5 295.4h1M250.8 317.3h1M275.1 300.7h1M273 294.1h1M273.6 294.5h1M253.4 319h1M270 297.1h1M286.9 284.8h1M284.3 291.6h1M262.6 311.6h1M256.8 316.1h1M270.4 303.6h1M284.3 291.9h1M282.7 295.7h1M271.2 303.4h1M282.2 293.9h1M280 296.6h1M274.9 300.8h1M266.6 300.6h1M287.4 290.1h1M274.9 292.2h1M257.1 307.3h1M269 305.2h1M278.1 290.4h1M263.8 309.2h1M250.5 315.9h1M287.9 287.7h1M270.7 305.2h1M282 294.7h1M282.6 286h1M277.9 291.2h1M266.9 299.6h1M286.3 284.8h1M284.7 285.9h1M266 308.2h1M257.5 317.9h1M287.4 290.5h1M280.2 289.1h1M268.3 305.6h1M268.2 305.8h1M274.4 299.8h1M265.3 309.4h1M253.2 311.2h1M270.2 296h1M255.8 309h1M260.6 304.5h1M259.9 313.4h1M254.2 310.9h1M286.9 289.1h1M282.2 287.9h1M262.8 311h1M252.4 311h1M280.7 297.6h1M271 296.7h1M280.6 289h1M282.2 294.5h1M277 298.4h1M288.5 289.7h1M272.8 305.9h1M249.5 314.7h1M272.1 295.2h1M258.4 315.3h1M278.5 286.7h1M270.9 295.8h1M262.4 311.1h1M255.3 316.9h1M260.2 313.1h1M279.8 295.9h1M256 317.6h1M288.6 287.1h1M284.5 285.1h1M281.7 287.9h1M261.6 304.1h1M277.4 298.8h1M251 312.4h1M278.1 296.5h1M254.7 309.5h1M283.1 292.8h1M259.1 316.2h1M261.6 311.9h1M250.9 311.9h1M255.8 308.8h1M275.9 289.2h1M264.2 302.1h1M259.1 315.2h1M280.1 297h1M247.6 318.6h1M282.6 294.9h1M288.5 288h1M261.4 314.1h1M288.5 287.5h1M269.8 305.1h1M256 307.3h1M265.9 301h1M279.9 289.2h1M289.3 289.2h1M269.9 296.2h1M290.9 288.4h1M262.1 302h1M249.8 314.5h1M262.9 301.2h1M268.8 297.3h1M273.7 293.8h1M265.9 307.7h1M251.6 319.6h1M286.3 290.8h1M272.6 302.2h1M289.5 284.1h1M251.3 317.2h1M249.2 316.4h1M281.9 287.5h1M263.4 302.9h1M284.4 292.4h1M257.8 306.2h1M259 305.8h1M267.6 308.4h1M267.6 306.8h1M285.7 283.1h1M251.2 312.6h1M252 312.2h1M270.2 304h1M269.8 297.4h1M281.8 293.2h1M280.3 287.7h1M267.9 308h1M278 297.5h1M275.4 298.8h1M251 318.2h1M279.9 297.3h1M287.3 291.5h1M263.3 309.9h1M259.2 313.8h1M274.2 293.3h1M280.7 289h1M275.4 293.6h1M251.1 312.4h1M251.4 311.5h1M277.6 300.1h1M259.7 305.2h1M283.5 292.8h1M251 317.1h1M280.3 296.4h1M280 287h1M280.4 294.8h1M286.9 290h1M268.1 298.9h1M257.4 314.9h1M280.2 295.4h1M279.2 296.7h1M263.7 300.8h1M263.6 301.1h1M272.4 301.3h1M269.4 298.5h1M270.3 304.2h1M277.8 291.5h1M274.9 300.2h1M268.2 306.8h1M250.6 314h1M269.3 297.8h1M256.7 316.3h1M259.7 313.2h1M256.1 308.8h1M275.6 292h1M277.3 290.7h1M255.9 317h1M263.9 302h1M283.9 292.9h1M279.9 295.4h1M260.9 312h1M262 303.7h1M264.2 300.4h1M268.7 306.6h1M265.3 308.8h1M265.4 309.6h1M281.1 288.1h1M261.5 311.3h1M271.4 303.5h1M274.8 299.3h1M286.2 284.8h1M262.1 312.8h1M287.7 289.5h1M265.9 301.1h1M269 297.1h1M277.5 290.3h1M270.7 296.6h1M253.2 310.3h1M288.6 287.8h1M286.5 284.4h1M250.4 317.8h1M289.2 289.2h1M248.1 315.1h1M267.1 306.5h1M255.2 308.5h1M266.7 299.9h1M268.5 305.3h1M262.4 311.3h1M282.2 293.1h1M250.3 317.5h1M274 300.7h1M256.3 315.7h1M250.8 317h1M285.1 290.3h1M281.3 295h1M258.5 306.5h1M273.1 295.1h1M253.8 307.8h1M253.4 310.8h1M279.8 289.3h1M256.3 318.5h1M274 294.6h1M282.5 286.4h1M272.7 302.7h1M272 303.1h1M280 297.3h1M251.1 317.8h1M265 301.2h1M269.7 298h1M265 300.4h1M281.9 286.6h1M276.1 300.7h1M283 296.5h1M268.6 305.3h1M248.1 314.4h1M277.2 299h1M274.6 299.8h1M250.4 314.5h1M254.9 317.3h1M274 294.3h1M256.2 316.9h1M273.7 294.4h1M267.1 306.9h1M271 297h1M253.1 319.4h1M267.5 306.9h1M272.3 301.8h1M260.8 304.9h1M275.3 293.2h1M255.8 318.2h1M278.8 295.9h1M252.4 318.6h1M262.2 303.7h1M277.1 291h1M277.5 298.2h1M270.4 297.3h1M264.6 308.5h1M286.5 289h1M255.9 308.4h1M279 290.1h1M263.3 313.2h1M264.2 310.7h1M272.7 302.2h1M270 304.2h1M250.7 318.3h1M269.4 307.5h1M265.2 307.8h1M277.7 299.1h1M249.3 316.3h1M266 307.4h1M269.8 304.8h1M265.2 301.3h1M264.2 302.5h1M261 304.7h1M260.3 304.8h1M279.4 288.8h1M267.4 298.6h1M281.4 295.3h1M279.9 289.1h1M280.3 296.4h1M264.9 300.7h1M272.2 302.1h1M277.6 297.4h1M280.6 287.7h1M265.3 308.4h1M273.4 294.5h1M284.3 291h1M252.2 311.8h1M259.2 306.7h1M272.1 302.2h1M267.5 306.9h1M283.4 292.4h1M280.2 295.3h1M257.3 315.2h1M282.9 283.9h1M256.2 317.4h1M256 308h1M251.3 313.2h1M287.8 285h1M286.2 290h1M288.1 286.8h1M249.6 314h1M271.3 303.1h1M277 297.5h1M249.8 317h1M286.2 292.4h1M251.7 312.7h1M255.6 316.9h1M287.4 284.8h1M272.9 301.9h1M282.1 287.6h1M283.9 285.2h1M274.6 293.2h1M281.4 285.1h1M254.2 308.9h1M267.8 307.1h1M253 310.6h1M284.6 285.5h1M264.2 309.8h1M260.3 313.6h1M276.1 299.4h1M267.1 306.7h1M264.3 308.9h1M285.7 290.7h1M261.6 313.5h1M261 305.3h1M261 302.9h1M264.4 310.3h1M285.7 290h1M248.1 314.2h1M273.4 302.7h1M268.7 296.7h1M267.6 308.1h1M290.4 284.9h1M284.8 291.8h1M275 299.4h1M254.1 317.6h1M282.5 285.1h1M269.2 306.3h1M256.7 318h1M288.4 284.7h1M271.9 302.1h1M267.8 298.2h1M257.3 307.8h1M271.8 295.3h1M260.9 312h1M282.2 287.6h1M256.6 307.6h1M281 295.1h1M268 306.6h1M288.5 284.6h1M277.5 298.4h1M278.1 288.7h1M285.4 285.1h1M253.8 319.2h1M258.2 316.8h1M271.6 296.4h1M266.7 306.8h1M272.5 295.9h1M265.6 300.3h1M269.7 305.2h1M273.2 302.3h1M279.4 295.6h1M272.4 305.7h1M280.5 294.2h1M287.7 284.8h1M258.1 307.8h1M276.6 291.2h1M271.8 296.5h1M273.9 293.8h1M283.4 292.9h1M255.9 317.8h1M266.1 300.6h1M283.8 292.4h1M261.7 312.2h1M269.2 298.5h1M264.4 301.9h1M284.2 291.6h1M276.8 299.1h1M267.8 308.8h1M263.4 302.9h1M277.8 296.5h1M254.2 308.3h1M259.6 314.1h1M251 317.4h1M271.1 302.7h1M250.4 313.2h1M255.7 308.4h1M259.4 314h1M275 300.4h1M249.6 314.3h1M281.1 293.7h1M289 285.9h1M260.1 305h1M281.5 287.3h1M285.9 283.8h1M278.9 296.5h1M256.1 309.3h1M283.7 285.9h1M268.8 305.8h1M265.9 299.9h1M264.6 301.5h1M251.4 309.3h1M283.6 286.4h1M272.3 303.4h1M281.8 294.4h1M256 317.3h1M283.2 294h1M270 297.6h1M266.7 299.6h1M255.8 316.2h1M277.1 299.6h1M263.1 302.1h1M270.5 296.6h1M254.5 309.7h1M270.2 295.4h1M250 310.6h1M283.4 286.3h1M266.6 308.1h1M287.4 289.2h1M250.1 315h1M249 314.6h1M253.5 310.8h1M258.1 315.3h1M261.9 301.4h1M290.6 285.5h1M248.7 312.6h1M273.4 303.4h1M262.9 310.1h1M281.2 294.7h1M277.8 291.7h1M250 310.3h1M282.2 287h1M270.9 306.3h1M257.7 306.9h1M286.2 284.9h1M250.7 319.2h1M274 302.1h1M274.6 300.2h1M266.9 308.2h1M285.1 291.3h1M257.6 308.1h1M263.3 301.7h1M280.4 295.7h1M254.9 317.3h1M283.3 285.1h1M277.2 298.9h1M283.1 285.5h1M268.6 305.1h1M254.3 317.5h1M284.4 285.4h1M276.8 297.5h1M288.7 284.9h1M264.8 301.1h1M276.6 297.6h1" stroke="#ff0000" stroke-width="1" fill="none"/>
<rect x="221.9" y="318" width="33" height="21" fill="#fff" opacity="0.88"/>
<g stroke="#3a3a3a" stroke-width="1.15" fill="none">
<rect x="219.4" y="201.6" width="139.1" height="139.4"/>
<path d="M288.8 202.6V339.8M219.4 284.4H356"/>
<path d="M219.4 341v3M242.4 341v3M277.6 341v3M313.4 341v3M358.5 341v3M349.2 341v3M219.4 201.6h-3M219.4 341h-3M219.4 209.6h-3M219.4 241.3h-3M219.4 273.4h-3M219.4 305.4h-3M219.4 339.5h-3"/>
</g>
<path d="M293.3 199.4v1.2M299.8 199.4v1.2" stroke="#3a3a3a" stroke-width="0.7" fill="none" opacity="0.7"/>
<path d="M223.8 341v1.6M228.3 341v1.6M231.7 341v1.6M234.5 341v1.6M236.9 341v1.6M239 341v1.6M240.8 341v1.6M253.1 341v1.6M259.3 341v1.6M263.8 341v1.6M267.2 341v1.6M270 341v1.6M272.4 341v1.6M274.5 341v1.6M276.3 341v1.6M288.6 341v1.6M294.8 341v1.6M299.3 341v1.6M302.7 341v1.6M305.5 341v1.6M307.9 341v1.6M310 341v1.6M311.8 341v1.6M324.1 341v1.6M330.3 341v1.6M334.8 341v1.6M338.2 341v1.6M341 341v1.6M343.4 341v1.6M345.5 341v1.6M347.3 341v1.6M219.4 340.6h-1.6M219.4 338.9h-1.6M219.4 327.8h-1.6M219.4 322.2h-1.6M219.4 318.2h-1.6M219.4 315h-1.6M219.4 312.5h-1.6M219.4 310.4h-1.6M219.4 308.5h-1.6M219.4 306.9h-1.6M219.4 295.8h-1.6M219.4 290.1h-1.6M219.4 286.1h-1.6M219.4 283h-1.6M219.4 280.5h-1.6M219.4 278.3h-1.6M219.4 276.5h-1.6M219.4 274.8h-1.6M219.4 263.7h-1.6M219.4 258.1h-1.6M219.4 254.1h-1.6M219.4 250.9h-1.6M219.4 248.4h-1.6M219.4 246.3h-1.6M219.4 244.4h-1.6M219.4 242.8h-1.6M219.4 231.7h-1.6M219.4 226h-1.6M219.4 222h-1.6M219.4 218.9h-1.6M219.4 216.4h-1.6M219.4 214.2h-1.6M219.4 212.4h-1.6M219.4 210.7h-1.6" stroke="#3a3a3a" stroke-width="0.6" fill="none" opacity="0.75"/>
<g font-family="'Liberation Sans', Arial, Helvetica, sans-serif" font-size="8.3" fill="#262626" stroke="#262626" stroke-width="0.14">
<text x="223" y="211.5">Q2-1</text><text x="223" y="221.7">5.97%</text>
<text x="329.5" y="211.5">Q2-2</text><text x="330.1" y="221.7">8.46%</text>
<text x="223" y="326.2">Q2-3</text><text x="223" y="335.8">84.88%</text>
<text x="329.5" y="326.2">Q2-4</text><text x="329.5" y="335.8">0.69%</text>
<text x="214.8" y="355.6">10</text><text x="225" y="351.9" font-size="7.1">3.4</text>
<text x="271.7" y="355.6">10</text><text x="282.1" y="351.9" font-size="7.1">5</text>
<text x="307.5" y="355.6">10</text><text x="317.9" y="351.9" font-size="7.1">6</text>
<text x="347.7" y="355.6">10</text><text x="358" y="351.9" font-size="7.1">7.2</text>
<text transform="translate(212.2 216.8) rotate(-90)">10</text><text transform="translate(207.8 206.5) rotate(-90)" font-size="7.1">7.2</text>
<text transform="translate(212.2 247.6) rotate(-90)">10</text><text transform="translate(207.8 237.3) rotate(-90)" font-size="7.1">6</text>
<text transform="translate(212.2 279.9) rotate(-90)">10</text><text transform="translate(207.8 269.6) rotate(-90)" font-size="7.1">5</text>
<text transform="translate(212.2 312.2) rotate(-90)">10</text><text transform="translate(207.8 301.9) rotate(-90)" font-size="7.1">4</text>
<text transform="translate(212.2 345.6) rotate(-90)">10</text><text transform="translate(207.8 335.3) rotate(-90)" font-size="7.1">2.9</text>
<text x="275.6" y="367.7" textLength="26.1" lengthAdjust="spacingAndGlyphs">FITC-A</text>
<text transform="translate(198.2 271.9) rotate(-90)" text-anchor="middle" font-size="8.35">PE-Texas Red-A</text>
</g>
<text x="269.6" y="194.6" textLength="48.6" lengthAdjust="spacing" font-family="'Liberation Serif', 'Times New Roman', serif" font-weight="bold" font-size="8.6" fill="#262626">Combination</text>
<text x="2.4" y="8.3" font-family="'Liberation Serif', 'Times New Roman', serif" font-weight="bold" font-size="11.2" fill="#1a1a1a">(a)</text>
<text x="389" y="108.2" font-family="'Liberation Serif', 'Times New Roman', serif" font-weight="bold" font-size="11.9" fill="#1a1a1a">(b)</text>
<text x="481" y="111.7" textLength="79.7" lengthAdjust="spacing" font-family="'Liberation Serif', 'Times New Roman', serif" font-weight="bold" font-size="9.8" fill="#111">Apoptosis/necrosis</text>
<rect x="426.3" y="238.3" width="13.8" height="14.9" fill="#ff0000"/>
<path d="M433.2 238.3V237.2M429.7 237.2h7" stroke="#ff0000" stroke-width="1.1" fill="none"/>
<rect x="447" y="225.3" width="13.8" height="27.9" fill="#005a00"/>
<path d="M453.9 225.3V223M450.4 223h7" stroke="#005a00" stroke-width="1.1" fill="none"/>
<rect x="481" y="230" width="13.8" height="23.2" fill="#ff0000"/>
<path d="M487.9 230V228.4M484.4 228.4h7" stroke="#ff0000" stroke-width="1.1" fill="none"/>
<rect x="501.5" y="241.8" width="13.8" height="11.4" fill="#005a00"/>
<path d="M508.4 241.8V240.3M504.9 240.3h7" stroke="#005a00" stroke-width="1.1" fill="none"/>
<rect x="535.7" y="170.5" width="13.8" height="82.7" fill="#ff0000"/>
<path d="M542.6 170.5V164.6M539.1 164.6h7" stroke="#ff0000" stroke-width="1.1" fill="none"/>
<rect x="556" y="207.2" width="13.8" height="46" fill="#005a00"/>
<path d="M562.9 207.2V199M559.4 199h7" stroke="#005a00" stroke-width="1.1" fill="none"/>
<rect x="590.2" y="152.3" width="13.8" height="100.9" fill="#ff0000"/>
<path d="M597.1 152.3V142.9M593.6 142.9h7" stroke="#ff0000" stroke-width="1.1" fill="none"/>
<rect x="611" y="187.3" width="13.8" height="65.9" fill="#005a00"/>
<path d="M617.9 187.3V180.8M614.4 180.8h7" stroke="#005a00" stroke-width="1.1" fill="none"/>
<g stroke="#000" stroke-width="1.5" fill="none">
<path d="M419.7 119.4V253.9M419 253.2H632.5"/>
<path d="M416.5 253.2H419.7M416.5 209.2H419.7M416.5 165H419.7M416.5 120.1H419.7M443 253.2V256.6M498 253.2V256.6M552.6 253.2V256.6M606.8 253.2V256.6"/>
</g>
<g font-family="'Liberation Serif', 'Times New Roman', serif" font-weight="bold" font-size="9.2" fill="#111" text-anchor="end">
<text x="415.5" y="256.5">0</text>
<text x="415.5" y="212.5">4</text>
<text x="415.5" y="168.3">8</text>
<text x="415.5" y="123.4">12</text>
</g>
<text transform="translate(399.4 186.6) rotate(-90)" text-anchor="middle" font-family="'Liberation Serif', 'Times New Roman', serif" font-weight="bold" font-size="10" fill="#111">Cell population (%)</text>
<g font-family="'Liberation Serif', 'Times New Roman', serif" font-size="10" fill="#111" text-anchor="middle">
<text x="443.4" y="266">Control</text>
<text x="498" y="266">FrAE</text>
<text x="552.6" y="266">SOR</text>
<text x="606.8" y="266">Combination</text>
</g>
<g font-family="'Liberation Sans', Arial, Helvetica, sans-serif" font-size="10.4" fill="#111" stroke="#111" stroke-width="0.2" text-anchor="middle">
<text x="542.8" y="164.7">*</text>
<text x="563.3" y="197.3">*</text>
<text x="597.4" y="138.6">*#</text>
<text x="618" y="176.8">*#</text>
</g>
<rect x="622" y="121" width="12.8" height="6" fill="#ff0000"/>
<rect x="622" y="139.2" width="12.8" height="6" fill="#005a00"/>
<text x="642.5" y="127.8" font-family="'Liberation Serif', 'Times New Roman', serif" font-weight="bold" font-size="10" fill="#ff0000">Apoptosis</text>
<text x="642.5" y="145.6" font-family="'Liberation Serif', 'Times New Roman', serif" font-weight="bold" font-size="10" fill="#005a00">Necrosis</text>
</svg>
</body></html>
